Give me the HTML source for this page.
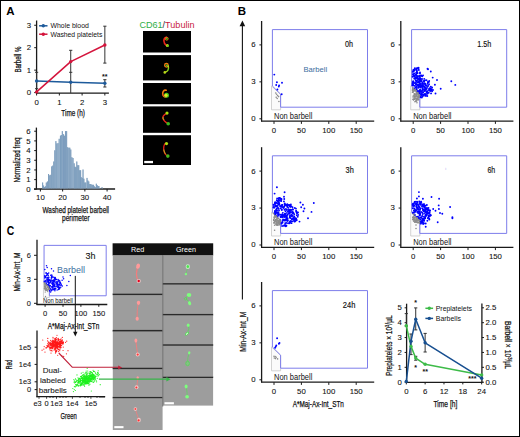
<!DOCTYPE html>
<html><head><meta charset="utf-8"><style>
html,body{margin:0;padding:0;background:#fff;width:520px;height:437px;overflow:hidden}
svg{display:block;font-family:"Liberation Sans", sans-serif}
</style></head><body>
<svg width="520" height="437" viewBox="0 0 520 437">
<defs><filter id="bl" x="-50%" y="-50%" width="200%" height="200%"><feGaussianBlur stdDeviation="0.45"/></filter>
<filter id="bl2" x="-50%" y="-50%" width="200%" height="200%"><feGaussianBlur stdDeviation="0.35"/></filter></defs>
<rect width="520" height="437" fill="#fff"/>
<rect x="0.5" y="0.5" width="519" height="436" fill="none" stroke="#000" stroke-width="1"/>
<text x="6.30" y="14.80" font-size="11.5" text-anchor="start" fill="#000" font-weight="bold" >A</text>
<text x="237.80" y="14.80" font-size="11.5" text-anchor="start" fill="#000" font-weight="bold" >B</text>
<text x="6.70" y="234.90" font-size="12" text-anchor="start" fill="#000" font-weight="bold" textLength="7.5" lengthAdjust="spacingAndGlyphs" >C</text>
<line x1="36.60" y1="20.50" x2="36.60" y2="93.60" stroke="#1a1a1a" stroke-width="1.3" />
<line x1="36.10" y1="93.10" x2="108.90" y2="93.10" stroke="#1a1a1a" stroke-width="1.3" />
<line x1="34.20" y1="92.60" x2="36.60" y2="92.60" stroke="#1a1a1a" stroke-width="1" />
<text x="31.00" y="95.30" font-size="7.8" text-anchor="end" fill="#111" stroke="#111" stroke-width="0.08" >0</text>
<line x1="34.20" y1="70.15" x2="36.60" y2="70.15" stroke="#1a1a1a" stroke-width="1" />
<text x="31.00" y="72.85" font-size="7.8" text-anchor="end" fill="#111" stroke="#111" stroke-width="0.08" >1</text>
<line x1="34.20" y1="47.70" x2="36.60" y2="47.70" stroke="#1a1a1a" stroke-width="1" />
<text x="31.00" y="50.40" font-size="7.8" text-anchor="end" fill="#111" stroke="#111" stroke-width="0.08" >2</text>
<line x1="34.20" y1="25.25" x2="36.60" y2="25.25" stroke="#1a1a1a" stroke-width="1" />
<text x="31.00" y="27.95" font-size="7.8" text-anchor="end" fill="#111" stroke="#111" stroke-width="0.08" >3</text>
<line x1="36.60" y1="93.10" x2="36.60" y2="95.50" stroke="#1a1a1a" stroke-width="1" />
<text x="36.60" y="104.70" font-size="7.8" text-anchor="middle" fill="#111" stroke="#111" stroke-width="0.08" >0</text>
<line x1="59.35" y1="93.10" x2="59.35" y2="95.50" stroke="#1a1a1a" stroke-width="1" />
<text x="59.35" y="104.70" font-size="7.8" text-anchor="middle" fill="#111" stroke="#111" stroke-width="0.08" >1</text>
<line x1="82.10" y1="93.10" x2="82.10" y2="95.50" stroke="#1a1a1a" stroke-width="1" />
<text x="82.10" y="104.70" font-size="7.8" text-anchor="middle" fill="#111" stroke="#111" stroke-width="0.08" >2</text>
<line x1="104.85" y1="93.10" x2="104.85" y2="95.50" stroke="#1a1a1a" stroke-width="1" />
<text x="104.85" y="104.70" font-size="7.8" text-anchor="middle" fill="#111" stroke="#111" stroke-width="0.08" >3</text>
<text x="73.10" y="115.80" font-size="8.8" text-anchor="middle" fill="#111" stroke="#111" stroke-width="0.25" textLength="23.5" lengthAdjust="spacingAndGlyphs" >Time (h)</text>
<text x="20.60" y="59.60" font-size="8.8" text-anchor="middle" fill="#111" stroke="#111" stroke-width="0.25" textLength="26" lengthAdjust="spacingAndGlyphs" transform="rotate(-90 20.60 59.60)" >Barbell %</text>
<line x1="36.60" y1="72.30" x2="36.60" y2="88.70" stroke="#333" stroke-width="1" />
<line x1="35.00" y1="72.30" x2="38.20" y2="72.30" stroke="#333" stroke-width="1" />
<line x1="35.00" y1="88.70" x2="38.20" y2="88.70" stroke="#333" stroke-width="1" />
<line x1="70.72" y1="50.30" x2="70.72" y2="93.00" stroke="#333" stroke-width="1" />
<line x1="69.12" y1="50.30" x2="72.32" y2="50.30" stroke="#333" stroke-width="1" />
<line x1="69.12" y1="72.30" x2="72.32" y2="72.30" stroke="#333" stroke-width="1" />
<line x1="104.85" y1="26.20" x2="104.85" y2="63.10" stroke="#333" stroke-width="1" />
<line x1="103.25" y1="26.20" x2="106.45" y2="26.20" stroke="#333" stroke-width="1" />
<line x1="103.25" y1="63.10" x2="106.45" y2="63.10" stroke="#333" stroke-width="1" />
<line x1="104.85" y1="79.70" x2="104.85" y2="87.00" stroke="#333" stroke-width="1" />
<line x1="103.25" y1="79.70" x2="106.45" y2="79.70" stroke="#333" stroke-width="1" />
<line x1="103.25" y1="87.00" x2="106.45" y2="87.00" stroke="#333" stroke-width="1" />
<polyline points="36.60,81.00 70.72,82.30 104.85,83.20" fill="none" stroke="#1d5a9b" stroke-width="1.5" stroke-linejoin="round" />
<polyline points="36.60,91.90 70.72,61.60 104.85,45.00" fill="none" stroke="#d4143c" stroke-width="1.5" stroke-linejoin="round" />
<circle cx="36.60" cy="81.00" r="1.7" fill="#1d5a9b"/>
<circle cx="70.72" cy="82.30" r="1.7" fill="#1d5a9b"/>
<circle cx="104.85" cy="83.20" r="1.7" fill="#1d5a9b"/>
<circle cx="36.60" cy="91.90" r="1.7" fill="#d4143c"/>
<circle cx="70.72" cy="61.60" r="1.7" fill="#d4143c"/>
<circle cx="104.85" cy="45.00" r="1.7" fill="#d4143c"/>
<text x="104.85" y="78.60" font-size="7" text-anchor="middle" fill="#111" font-weight="bold" >**</text>
<line x1="39.10" y1="25.80" x2="47.50" y2="25.80" stroke="#1d5a9b" stroke-width="1.5" />
<circle cx="43.30" cy="25.80" r="1.7" fill="#1d5a9b"/>
<line x1="39.10" y1="34.20" x2="47.50" y2="34.20" stroke="#d4143c" stroke-width="1.5" />
<circle cx="43.30" cy="34.20" r="1.7" fill="#d4143c"/>
<text x="50.50" y="28.20" font-size="6.9" text-anchor="start" fill="#111" textLength="38.3" lengthAdjust="spacingAndGlyphs" >Whole blood</text>
<text x="50.50" y="36.50" font-size="6.9" text-anchor="start" fill="#111" textLength="51.8" lengthAdjust="spacingAndGlyphs" >Washed platelets</text>
<line x1="36.40" y1="127.60" x2="36.40" y2="189.50" stroke="#1a1a1a" stroke-width="1.3" />
<line x1="34.00" y1="189.00" x2="115.10" y2="189.00" stroke="#1a1a1a" stroke-width="1.3" />
<line x1="34.20" y1="189.30" x2="36.40" y2="189.30" stroke="#1a1a1a" stroke-width="1" />
<text x="30.60" y="192.00" font-size="7.8" text-anchor="end" fill="#111" stroke="#111" stroke-width="0.08" >0</text>
<line x1="34.20" y1="179.62" x2="36.40" y2="179.62" stroke="#1a1a1a" stroke-width="1" />
<text x="30.60" y="182.32" font-size="7.8" text-anchor="end" fill="#111" stroke="#111" stroke-width="0.08" >1</text>
<line x1="34.20" y1="169.94" x2="36.40" y2="169.94" stroke="#1a1a1a" stroke-width="1" />
<text x="30.60" y="172.64" font-size="7.8" text-anchor="end" fill="#111" stroke="#111" stroke-width="0.08" >2</text>
<line x1="34.20" y1="160.26" x2="36.40" y2="160.26" stroke="#1a1a1a" stroke-width="1" />
<text x="30.60" y="162.96" font-size="7.8" text-anchor="end" fill="#111" stroke="#111" stroke-width="0.08" >3</text>
<line x1="34.20" y1="150.58" x2="36.40" y2="150.58" stroke="#1a1a1a" stroke-width="1" />
<text x="30.60" y="153.28" font-size="7.8" text-anchor="end" fill="#111" stroke="#111" stroke-width="0.08" >4</text>
<line x1="34.20" y1="140.90" x2="36.40" y2="140.90" stroke="#1a1a1a" stroke-width="1" />
<text x="30.60" y="143.60" font-size="7.8" text-anchor="end" fill="#111" stroke="#111" stroke-width="0.08" >5</text>
<line x1="34.20" y1="131.22" x2="36.40" y2="131.22" stroke="#1a1a1a" stroke-width="1" />
<text x="30.60" y="133.92" font-size="7.8" text-anchor="end" fill="#111" stroke="#111" stroke-width="0.08" >6</text>
<line x1="40.40" y1="189.00" x2="40.40" y2="191.50" stroke="#1a1a1a" stroke-width="1" />
<text x="40.40" y="200.30" font-size="7.8" text-anchor="middle" fill="#111" stroke="#111" stroke-width="0.08" >10</text>
<line x1="62.63" y1="189.00" x2="62.63" y2="191.50" stroke="#1a1a1a" stroke-width="1" />
<text x="62.63" y="200.30" font-size="7.8" text-anchor="middle" fill="#111" stroke="#111" stroke-width="0.08" >20</text>
<line x1="84.86" y1="189.00" x2="84.86" y2="191.50" stroke="#1a1a1a" stroke-width="1" />
<text x="84.86" y="200.30" font-size="7.8" text-anchor="middle" fill="#111" stroke="#111" stroke-width="0.08" >30</text>
<line x1="107.09" y1="189.00" x2="107.09" y2="191.50" stroke="#1a1a1a" stroke-width="1" />
<text x="107.09" y="200.30" font-size="7.8" text-anchor="middle" fill="#111" stroke="#111" stroke-width="0.08" >40</text>
<text x="75.80" y="212.70" font-size="9" text-anchor="middle" fill="#111" stroke="#111" stroke-width="0.25" textLength="66.5" lengthAdjust="spacingAndGlyphs" >Washed platelet barbell</text>
<text x="75.80" y="220.60" font-size="9" text-anchor="middle" fill="#111" stroke="#111" stroke-width="0.25" textLength="27.5" lengthAdjust="spacingAndGlyphs" >perimeter</text>
<text x="19.80" y="159.90" font-size="8.8" text-anchor="middle" fill="#111" stroke="#111" stroke-width="0.25" textLength="45" lengthAdjust="spacingAndGlyphs" transform="rotate(-90 19.80 159.90)" >Normalized freq</text>
<rect x="42.15" y="182.50" width="1.1" height="6.00" fill="#9db5cd"/>
<rect x="42.15" y="182.50" width="0.5" height="6.00" fill="#5a84ad"/>
<rect x="43.15" y="185.50" width="1.1" height="3.00" fill="#9db5cd"/>
<rect x="43.15" y="185.50" width="0.5" height="3.00" fill="#5a84ad"/>
<rect x="44.15" y="187.00" width="1.1" height="1.50" fill="#9db5cd"/>
<rect x="44.15" y="187.00" width="0.5" height="1.50" fill="#5a84ad"/>
<rect x="44.95" y="186.30" width="1.1" height="2.20" fill="#9db5cd"/>
<rect x="44.95" y="186.30" width="0.5" height="2.20" fill="#5a84ad"/>
<rect x="45.85" y="182.50" width="1.1" height="6.00" fill="#9db5cd"/>
<rect x="45.85" y="182.50" width="0.5" height="6.00" fill="#5a84ad"/>
<rect x="46.95" y="181.40" width="1.1" height="7.10" fill="#9db5cd"/>
<rect x="46.95" y="181.40" width="0.5" height="7.10" fill="#5a84ad"/>
<rect x="48.05" y="174.00" width="1.1" height="14.50" fill="#9db5cd"/>
<rect x="48.05" y="174.00" width="0.5" height="14.50" fill="#5a84ad"/>
<rect x="49.25" y="175.30" width="1.1" height="13.20" fill="#9db5cd"/>
<rect x="49.25" y="175.30" width="0.5" height="13.20" fill="#5a84ad"/>
<rect x="50.35" y="174.80" width="1.1" height="13.70" fill="#9db5cd"/>
<rect x="50.35" y="174.80" width="0.5" height="13.70" fill="#5a84ad"/>
<rect x="51.25" y="166.40" width="1.1" height="22.10" fill="#9db5cd"/>
<rect x="51.25" y="166.40" width="0.5" height="22.10" fill="#5a84ad"/>
<rect x="52.35" y="165.60" width="1.1" height="22.90" fill="#9db5cd"/>
<rect x="52.35" y="165.60" width="0.5" height="22.90" fill="#5a84ad"/>
<rect x="53.35" y="161.50" width="1.1" height="27.00" fill="#9db5cd"/>
<rect x="53.35" y="161.50" width="0.5" height="27.00" fill="#5a84ad"/>
<rect x="54.45" y="150.30" width="1.1" height="38.20" fill="#9db5cd"/>
<rect x="54.45" y="150.30" width="0.5" height="38.20" fill="#5a84ad"/>
<rect x="55.55" y="141.10" width="1.1" height="47.40" fill="#9db5cd"/>
<rect x="55.55" y="141.10" width="0.5" height="47.40" fill="#5a84ad"/>
<rect x="56.55" y="143.40" width="1.1" height="45.10" fill="#9db5cd"/>
<rect x="56.55" y="143.40" width="0.5" height="45.10" fill="#5a84ad"/>
<rect x="57.65" y="143.10" width="1.1" height="45.40" fill="#9db5cd"/>
<rect x="57.65" y="143.10" width="0.5" height="45.40" fill="#5a84ad"/>
<rect x="58.75" y="138.80" width="1.1" height="49.70" fill="#9db5cd"/>
<rect x="58.75" y="138.80" width="0.5" height="49.70" fill="#5a84ad"/>
<rect x="59.95" y="135.70" width="1.1" height="52.80" fill="#9db5cd"/>
<rect x="59.95" y="135.70" width="0.5" height="52.80" fill="#5a84ad"/>
<rect x="60.85" y="135.00" width="1.1" height="53.50" fill="#9db5cd"/>
<rect x="60.85" y="135.00" width="0.5" height="53.50" fill="#5a84ad"/>
<rect x="61.85" y="131.10" width="1.1" height="57.40" fill="#9db5cd"/>
<rect x="61.85" y="131.10" width="0.5" height="57.40" fill="#5a84ad"/>
<rect x="63.05" y="134.20" width="1.1" height="54.30" fill="#9db5cd"/>
<rect x="63.05" y="134.20" width="0.5" height="54.30" fill="#5a84ad"/>
<rect x="63.95" y="135.70" width="1.1" height="52.80" fill="#9db5cd"/>
<rect x="63.95" y="135.70" width="0.5" height="52.80" fill="#5a84ad"/>
<rect x="65.05" y="131.10" width="1.1" height="57.40" fill="#9db5cd"/>
<rect x="65.05" y="131.10" width="0.5" height="57.40" fill="#5a84ad"/>
<rect x="66.15" y="131.10" width="1.1" height="57.40" fill="#9db5cd"/>
<rect x="66.15" y="131.10" width="0.5" height="57.40" fill="#5a84ad"/>
<rect x="67.15" y="147.20" width="1.1" height="41.30" fill="#9db5cd"/>
<rect x="67.15" y="147.20" width="0.5" height="41.30" fill="#5a84ad"/>
<rect x="68.45" y="147.70" width="1.1" height="40.80" fill="#9db5cd"/>
<rect x="68.45" y="147.70" width="0.5" height="40.80" fill="#5a84ad"/>
<rect x="69.45" y="147.70" width="1.1" height="40.80" fill="#9db5cd"/>
<rect x="69.45" y="147.70" width="0.5" height="40.80" fill="#5a84ad"/>
<rect x="70.45" y="149.50" width="1.1" height="39.00" fill="#9db5cd"/>
<rect x="70.45" y="149.50" width="0.5" height="39.00" fill="#5a84ad"/>
<rect x="71.55" y="157.20" width="1.1" height="31.30" fill="#9db5cd"/>
<rect x="71.55" y="157.20" width="0.5" height="31.30" fill="#5a84ad"/>
<rect x="72.65" y="158.00" width="1.1" height="30.50" fill="#9db5cd"/>
<rect x="72.65" y="158.00" width="0.5" height="30.50" fill="#5a84ad"/>
<rect x="73.75" y="163.30" width="1.1" height="25.20" fill="#9db5cd"/>
<rect x="73.75" y="163.30" width="0.5" height="25.20" fill="#5a84ad"/>
<rect x="74.65" y="166.70" width="1.1" height="21.80" fill="#9db5cd"/>
<rect x="74.65" y="166.70" width="0.5" height="21.80" fill="#5a84ad"/>
<rect x="75.55" y="167.20" width="1.1" height="21.30" fill="#9db5cd"/>
<rect x="75.55" y="167.20" width="0.5" height="21.30" fill="#5a84ad"/>
<rect x="76.45" y="161.50" width="1.1" height="27.00" fill="#9db5cd"/>
<rect x="76.45" y="161.50" width="0.5" height="27.00" fill="#5a84ad"/>
<rect x="77.45" y="165.20" width="1.1" height="23.30" fill="#9db5cd"/>
<rect x="77.45" y="165.20" width="0.5" height="23.30" fill="#5a84ad"/>
<rect x="78.35" y="165.20" width="1.1" height="23.30" fill="#9db5cd"/>
<rect x="78.35" y="165.20" width="0.5" height="23.30" fill="#5a84ad"/>
<rect x="79.25" y="170.20" width="1.1" height="18.30" fill="#9db5cd"/>
<rect x="79.25" y="170.20" width="0.5" height="18.30" fill="#5a84ad"/>
<rect x="80.15" y="170.20" width="1.1" height="18.30" fill="#9db5cd"/>
<rect x="80.15" y="170.20" width="0.5" height="18.30" fill="#5a84ad"/>
<rect x="80.75" y="177.10" width="1.1" height="11.40" fill="#9db5cd"/>
<rect x="80.75" y="177.10" width="0.5" height="11.40" fill="#5a84ad"/>
<rect x="81.75" y="177.90" width="1.1" height="10.60" fill="#9db5cd"/>
<rect x="81.75" y="177.90" width="0.5" height="10.60" fill="#5a84ad"/>
<rect x="82.65" y="169.50" width="1.1" height="19.00" fill="#9db5cd"/>
<rect x="82.65" y="169.50" width="0.5" height="19.00" fill="#5a84ad"/>
<rect x="83.55" y="178.70" width="1.1" height="9.80" fill="#9db5cd"/>
<rect x="83.55" y="178.70" width="0.5" height="9.80" fill="#5a84ad"/>
<rect x="84.45" y="182.50" width="1.1" height="6.00" fill="#9db5cd"/>
<rect x="84.45" y="182.50" width="0.5" height="6.00" fill="#5a84ad"/>
<rect x="85.35" y="182.50" width="1.1" height="6.00" fill="#9db5cd"/>
<rect x="85.35" y="182.50" width="0.5" height="6.00" fill="#5a84ad"/>
<rect x="86.65" y="177.90" width="1.1" height="10.60" fill="#9db5cd"/>
<rect x="86.65" y="177.90" width="0.5" height="10.60" fill="#5a84ad"/>
<rect x="87.55" y="180.50" width="1.1" height="8.00" fill="#9db5cd"/>
<rect x="87.55" y="180.50" width="0.5" height="8.00" fill="#5a84ad"/>
<rect x="88.45" y="181.40" width="1.1" height="7.10" fill="#9db5cd"/>
<rect x="88.45" y="181.40" width="0.5" height="7.10" fill="#5a84ad"/>
<rect x="89.35" y="184.00" width="1.1" height="4.50" fill="#9db5cd"/>
<rect x="89.35" y="184.00" width="0.5" height="4.50" fill="#5a84ad"/>
<rect x="90.25" y="184.00" width="1.1" height="4.50" fill="#9db5cd"/>
<rect x="90.25" y="184.00" width="0.5" height="4.50" fill="#5a84ad"/>
<rect x="91.25" y="184.50" width="1.1" height="4.00" fill="#9db5cd"/>
<rect x="91.25" y="184.50" width="0.5" height="4.00" fill="#5a84ad"/>
<rect x="92.15" y="184.80" width="1.1" height="3.70" fill="#9db5cd"/>
<rect x="92.15" y="184.80" width="0.5" height="3.70" fill="#5a84ad"/>
<rect x="93.05" y="184.80" width="1.1" height="3.70" fill="#9db5cd"/>
<rect x="93.05" y="184.80" width="0.5" height="3.70" fill="#5a84ad"/>
<rect x="93.95" y="186.30" width="1.1" height="2.20" fill="#9db5cd"/>
<rect x="93.95" y="186.30" width="0.5" height="2.20" fill="#5a84ad"/>
<rect x="94.85" y="187.10" width="1.1" height="1.40" fill="#9db5cd"/>
<rect x="94.85" y="187.10" width="0.5" height="1.40" fill="#5a84ad"/>
<rect x="95.85" y="183.70" width="1.1" height="4.80" fill="#9db5cd"/>
<rect x="95.85" y="183.70" width="0.5" height="4.80" fill="#5a84ad"/>
<rect x="96.75" y="185.10" width="1.1" height="3.40" fill="#9db5cd"/>
<rect x="96.75" y="185.10" width="0.5" height="3.40" fill="#5a84ad"/>
<rect x="97.65" y="186.00" width="1.1" height="2.50" fill="#9db5cd"/>
<rect x="97.65" y="186.00" width="0.5" height="2.50" fill="#5a84ad"/>
<rect x="98.55" y="186.00" width="1.1" height="2.50" fill="#9db5cd"/>
<rect x="98.55" y="186.00" width="0.5" height="2.50" fill="#5a84ad"/>
<rect x="99.45" y="187.90" width="1.1" height="0.60" fill="#9db5cd"/>
<rect x="99.45" y="187.90" width="0.5" height="0.60" fill="#5a84ad"/>
<rect x="100.45" y="188.60" width="1.1" height="-0.10" fill="#9db5cd"/>
<rect x="100.45" y="188.60" width="0.5" height="-0.10" fill="#5a84ad"/>
<rect x="101.65" y="187.10" width="1.1" height="1.40" fill="#9db5cd"/>
<rect x="101.65" y="187.10" width="0.5" height="1.40" fill="#5a84ad"/>
<rect x="102.55" y="188.60" width="1.1" height="-0.10" fill="#9db5cd"/>
<rect x="102.55" y="188.60" width="0.5" height="-0.10" fill="#5a84ad"/>
<rect x="103.45" y="188.60" width="1.1" height="-0.10" fill="#9db5cd"/>
<rect x="103.45" y="188.60" width="0.5" height="-0.10" fill="#5a84ad"/>
<text x="139.40" y="27.70" font-size="9.6" text-anchor="start" fill="#111" textLength="55.1" lengthAdjust="spacingAndGlyphs" ><tspan fill="#2fae48">CD61</tspan><tspan fill="#333">/</tspan><tspan fill="#c8193f">Tubulin</tspan></text>
<rect x="143" y="31" width="48" height="21.50" fill="#000"/>
<rect x="143" y="55.1" width="48" height="25.30" fill="#000"/>
<rect x="143" y="83" width="48" height="21.20" fill="#000"/>
<rect x="143" y="106.4" width="48" height="26.40" fill="#000"/>
<rect x="143" y="135.2" width="48" height="29.80" fill="#000"/>
<rect x="144.2" y="160.9" width="8.8" height="2.3" fill="#fff"/>
<line x1="242.40" y1="25.00" x2="242.40" y2="299.50" stroke="#111" stroke-width="1.1" />
<polygon points="242.4,20.6 239.6,26.2 245.2,26.2" fill="#111"/>
<line x1="261.60" y1="21.00" x2="261.60" y2="121.40" stroke="#1a1a1a" stroke-width="1.3" />
<line x1="261.00" y1="121.20" x2="374.20" y2="121.20" stroke="#1a1a1a" stroke-width="1.3" />
<line x1="259.40" y1="118.80" x2="261.60" y2="118.80" stroke="#1a1a1a" stroke-width="1" />
<text x="255.60" y="121.20" font-size="7.8" text-anchor="end" fill="#111" stroke="#111" stroke-width="0.08" >0</text>
<line x1="259.40" y1="81.85" x2="261.60" y2="81.85" stroke="#1a1a1a" stroke-width="1" />
<text x="255.60" y="84.25" font-size="7.8" text-anchor="end" fill="#111" stroke="#111" stroke-width="0.08" >3</text>
<line x1="259.40" y1="44.90" x2="261.60" y2="44.90" stroke="#1a1a1a" stroke-width="1" />
<text x="255.60" y="47.30" font-size="7.8" text-anchor="end" fill="#111" stroke="#111" stroke-width="0.08" >6</text>
<line x1="274.00" y1="121.20" x2="274.00" y2="123.90" stroke="#1a1a1a" stroke-width="1" />
<text x="274.00" y="132.80" font-size="7.8" text-anchor="middle" fill="#111" stroke="#111" stroke-width="0.08" >0</text>
<line x1="301.40" y1="121.20" x2="301.40" y2="123.90" stroke="#1a1a1a" stroke-width="1" />
<text x="301.40" y="132.80" font-size="7.8" text-anchor="middle" fill="#111" stroke="#111" stroke-width="0.08" >50</text>
<line x1="328.80" y1="121.20" x2="328.80" y2="123.90" stroke="#1a1a1a" stroke-width="1" />
<text x="328.80" y="132.80" font-size="7.8" text-anchor="middle" fill="#111" stroke="#111" stroke-width="0.08" >100</text>
<line x1="356.20" y1="121.20" x2="356.20" y2="123.90" stroke="#1a1a1a" stroke-width="1" />
<text x="356.20" y="132.80" font-size="7.8" text-anchor="middle" fill="#111" stroke="#111" stroke-width="0.08" >150</text>
<polygon points="271.50,86.00 280.60,94.20 280.60,109.80 271.50,109.80" fill="#fbfbfb" stroke="#c8c8c8" stroke-width="0.8"/>
<polyline points="272.40,86.00 272.40,29.60 367.50,29.60 367.50,107.20 280.60,107.20 280.60,94.20 272.40,86.00" fill="none" stroke="#7d7deb" stroke-width="1"/>
<circle cx="274.30" cy="74.60" r="0.95" fill="#0000ff"/>
<circle cx="276.90" cy="82.30" r="0.95" fill="#0000ff"/>
<circle cx="279.10" cy="85.40" r="0.95" fill="#0000ff"/>
<circle cx="278.80" cy="86.60" r="0.95" fill="#0000ff"/>
<circle cx="282.00" cy="82.80" r="0.95" fill="#0000ff"/>
<circle cx="281.70" cy="94.30" r="0.95" fill="#0000ff"/>
<circle cx="277.40" cy="89.50" r="0.95" fill="#0000ff"/>
<circle cx="276.20" cy="85.00" r="0.95" fill="#0000ff"/>
<circle cx="275.70" cy="93.00" r="0.8" fill="#8c8c8c"/>
<circle cx="276.60" cy="94.20" r="0.8" fill="#8c8c8c"/>
<circle cx="277.60" cy="95.60" r="0.8" fill="#8c8c8c"/>
<circle cx="278.60" cy="96.60" r="0.8" fill="#8c8c8c"/>
<circle cx="277.20" cy="98.50" r="0.8" fill="#8c8c8c"/>
<circle cx="278.90" cy="101.50" r="0.8" fill="#8c8c8c"/>
<circle cx="276.20" cy="97.20" r="0.8" fill="#8c8c8c"/>
<text x="352.90" y="46.90" font-size="8.3" text-anchor="end" fill="#111" stroke="#111" stroke-width="0.15" textLength="8.0" lengthAdjust="spacingAndGlyphs" >0h</text>
<text x="274.00" y="119.20" font-size="8.3" text-anchor="start" fill="#111" textLength="38.3" lengthAdjust="spacingAndGlyphs" >Non barbell</text>
<text x="303.50" y="72.30" font-size="7.6" text-anchor="start" fill="#3a6d9e" textLength="23.7" lengthAdjust="spacingAndGlyphs" >Barbell</text>
<line x1="400.80" y1="21.00" x2="400.80" y2="121.40" stroke="#1a1a1a" stroke-width="1.3" />
<line x1="400.20" y1="121.20" x2="513.40" y2="121.20" stroke="#1a1a1a" stroke-width="1.3" />
<line x1="398.60" y1="118.80" x2="400.80" y2="118.80" stroke="#1a1a1a" stroke-width="1" />
<text x="394.80" y="121.20" font-size="7.8" text-anchor="end" fill="#111" stroke="#111" stroke-width="0.08" >0</text>
<line x1="398.60" y1="81.85" x2="400.80" y2="81.85" stroke="#1a1a1a" stroke-width="1" />
<text x="394.80" y="84.25" font-size="7.8" text-anchor="end" fill="#111" stroke="#111" stroke-width="0.08" >3</text>
<line x1="398.60" y1="44.90" x2="400.80" y2="44.90" stroke="#1a1a1a" stroke-width="1" />
<text x="394.80" y="47.30" font-size="7.8" text-anchor="end" fill="#111" stroke="#111" stroke-width="0.08" >6</text>
<line x1="413.20" y1="121.20" x2="413.20" y2="123.90" stroke="#1a1a1a" stroke-width="1" />
<text x="413.20" y="132.80" font-size="7.8" text-anchor="middle" fill="#111" stroke="#111" stroke-width="0.08" >0</text>
<line x1="440.60" y1="121.20" x2="440.60" y2="123.90" stroke="#1a1a1a" stroke-width="1" />
<text x="440.60" y="132.80" font-size="7.8" text-anchor="middle" fill="#111" stroke="#111" stroke-width="0.08" >50</text>
<line x1="468.00" y1="121.20" x2="468.00" y2="123.90" stroke="#1a1a1a" stroke-width="1" />
<text x="468.00" y="132.80" font-size="7.8" text-anchor="middle" fill="#111" stroke="#111" stroke-width="0.08" >100</text>
<line x1="495.40" y1="121.20" x2="495.40" y2="123.90" stroke="#1a1a1a" stroke-width="1" />
<text x="495.40" y="132.80" font-size="7.8" text-anchor="middle" fill="#111" stroke="#111" stroke-width="0.08" >150</text>
<polygon points="410.70,86.00 419.80,94.20 419.80,109.80 410.70,109.80" fill="#fbfbfb" stroke="#c8c8c8" stroke-width="0.8"/>
<polyline points="411.60,86.00 411.60,29.60 506.70,29.60 506.70,107.20 419.80,107.20 419.80,94.20 411.60,86.00" fill="none" stroke="#7d7deb" stroke-width="1"/>
<circle cx="421.82" cy="86.90" r="0.95" fill="#0000ff"/>
<circle cx="422.64" cy="88.69" r="0.95" fill="#0000ff"/>
<circle cx="425.14" cy="95.78" r="0.95" fill="#0000ff"/>
<circle cx="425.30" cy="89.23" r="0.95" fill="#0000ff"/>
<circle cx="416.76" cy="75.81" r="0.95" fill="#0000ff"/>
<circle cx="420.38" cy="97.24" r="0.95" fill="#0000ff"/>
<circle cx="421.86" cy="90.96" r="0.95" fill="#0000ff"/>
<circle cx="428.74" cy="92.81" r="0.95" fill="#0000ff"/>
<circle cx="418.19" cy="69.02" r="0.95" fill="#0000ff"/>
<circle cx="412.99" cy="74.25" r="0.95" fill="#0000ff"/>
<circle cx="415.02" cy="78.78" r="0.95" fill="#0000ff"/>
<circle cx="414.94" cy="75.97" r="0.95" fill="#0000ff"/>
<circle cx="423.70" cy="83.86" r="0.95" fill="#0000ff"/>
<circle cx="417.54" cy="76.55" r="0.95" fill="#0000ff"/>
<circle cx="430.38" cy="90.99" r="0.95" fill="#0000ff"/>
<circle cx="416.72" cy="75.86" r="0.95" fill="#0000ff"/>
<circle cx="418.84" cy="70.00" r="0.95" fill="#0000ff"/>
<circle cx="416.86" cy="89.04" r="0.95" fill="#0000ff"/>
<circle cx="416.84" cy="72.05" r="0.95" fill="#0000ff"/>
<circle cx="417.29" cy="72.65" r="0.95" fill="#0000ff"/>
<circle cx="412.66" cy="76.75" r="0.95" fill="#0000ff"/>
<circle cx="415.70" cy="80.16" r="0.95" fill="#0000ff"/>
<circle cx="431.38" cy="90.03" r="0.95" fill="#0000ff"/>
<circle cx="416.33" cy="68.39" r="0.95" fill="#0000ff"/>
<circle cx="413.88" cy="85.59" r="0.95" fill="#0000ff"/>
<circle cx="427.17" cy="91.26" r="0.95" fill="#0000ff"/>
<circle cx="420.18" cy="91.07" r="0.95" fill="#0000ff"/>
<circle cx="421.06" cy="94.97" r="0.95" fill="#0000ff"/>
<circle cx="424.09" cy="80.42" r="0.95" fill="#0000ff"/>
<circle cx="426.64" cy="80.33" r="0.95" fill="#0000ff"/>
<circle cx="421.81" cy="97.60" r="0.95" fill="#0000ff"/>
<circle cx="425.27" cy="84.16" r="0.95" fill="#0000ff"/>
<circle cx="417.25" cy="68.12" r="0.95" fill="#0000ff"/>
<circle cx="417.06" cy="72.70" r="0.95" fill="#0000ff"/>
<circle cx="419.04" cy="91.48" r="0.95" fill="#0000ff"/>
<circle cx="424.25" cy="78.84" r="0.95" fill="#0000ff"/>
<circle cx="417.52" cy="73.21" r="0.95" fill="#0000ff"/>
<circle cx="416.26" cy="81.49" r="0.95" fill="#0000ff"/>
<circle cx="426.00" cy="88.37" r="0.95" fill="#0000ff"/>
<circle cx="412.77" cy="71.92" r="0.95" fill="#0000ff"/>
<circle cx="414.87" cy="68.30" r="0.95" fill="#0000ff"/>
<circle cx="425.23" cy="89.40" r="0.95" fill="#0000ff"/>
<circle cx="412.64" cy="83.69" r="0.95" fill="#0000ff"/>
<circle cx="417.61" cy="78.87" r="0.95" fill="#0000ff"/>
<circle cx="423.79" cy="94.77" r="0.95" fill="#0000ff"/>
<circle cx="431.06" cy="93.41" r="0.95" fill="#0000ff"/>
<circle cx="420.50" cy="86.86" r="0.95" fill="#0000ff"/>
<circle cx="426.08" cy="95.84" r="0.95" fill="#0000ff"/>
<circle cx="422.50" cy="96.46" r="0.95" fill="#0000ff"/>
<circle cx="413.30" cy="82.61" r="0.95" fill="#0000ff"/>
<circle cx="422.98" cy="92.40" r="0.95" fill="#0000ff"/>
<circle cx="416.62" cy="86.74" r="0.95" fill="#0000ff"/>
<circle cx="425.31" cy="85.29" r="0.95" fill="#0000ff"/>
<circle cx="419.18" cy="79.84" r="0.95" fill="#0000ff"/>
<circle cx="422.86" cy="85.04" r="0.95" fill="#0000ff"/>
<circle cx="424.10" cy="81.59" r="0.95" fill="#0000ff"/>
<circle cx="418.12" cy="84.42" r="0.95" fill="#0000ff"/>
<circle cx="422.04" cy="79.07" r="0.95" fill="#0000ff"/>
<circle cx="416.12" cy="74.77" r="0.95" fill="#0000ff"/>
<circle cx="420.07" cy="89.81" r="0.95" fill="#0000ff"/>
<circle cx="414.89" cy="85.71" r="0.95" fill="#0000ff"/>
<circle cx="422.47" cy="83.09" r="0.95" fill="#0000ff"/>
<circle cx="416.09" cy="89.26" r="0.95" fill="#0000ff"/>
<circle cx="429.33" cy="88.74" r="0.95" fill="#0000ff"/>
<circle cx="427.30" cy="95.93" r="0.95" fill="#0000ff"/>
<circle cx="428.79" cy="81.93" r="0.95" fill="#0000ff"/>
<circle cx="420.69" cy="91.71" r="0.95" fill="#0000ff"/>
<circle cx="421.60" cy="94.28" r="0.95" fill="#0000ff"/>
<circle cx="416.29" cy="69.63" r="0.95" fill="#0000ff"/>
<circle cx="423.00" cy="85.42" r="0.95" fill="#0000ff"/>
<circle cx="416.92" cy="73.06" r="0.95" fill="#0000ff"/>
<circle cx="421.25" cy="95.03" r="0.95" fill="#0000ff"/>
<circle cx="422.48" cy="82.43" r="0.95" fill="#0000ff"/>
<circle cx="416.00" cy="82.83" r="0.95" fill="#0000ff"/>
<circle cx="416.22" cy="72.94" r="0.95" fill="#0000ff"/>
<circle cx="424.29" cy="81.22" r="0.95" fill="#0000ff"/>
<circle cx="429.20" cy="80.98" r="0.95" fill="#0000ff"/>
<circle cx="426.10" cy="94.11" r="0.95" fill="#0000ff"/>
<circle cx="419.63" cy="83.91" r="0.95" fill="#0000ff"/>
<circle cx="425.09" cy="90.66" r="0.95" fill="#0000ff"/>
<circle cx="424.88" cy="87.40" r="0.95" fill="#0000ff"/>
<circle cx="431.74" cy="89.31" r="0.95" fill="#0000ff"/>
<circle cx="424.48" cy="94.10" r="0.95" fill="#0000ff"/>
<circle cx="413.32" cy="74.20" r="0.95" fill="#0000ff"/>
<circle cx="432.07" cy="87.43" r="0.95" fill="#0000ff"/>
<circle cx="425.26" cy="94.66" r="0.95" fill="#0000ff"/>
<circle cx="415.90" cy="84.49" r="0.95" fill="#0000ff"/>
<circle cx="422.50" cy="88.83" r="0.95" fill="#0000ff"/>
<circle cx="425.11" cy="87.96" r="0.95" fill="#0000ff"/>
<circle cx="418.28" cy="67.65" r="0.95" fill="#0000ff"/>
<circle cx="427.51" cy="83.74" r="0.95" fill="#0000ff"/>
<circle cx="424.72" cy="83.56" r="0.95" fill="#0000ff"/>
<circle cx="420.76" cy="91.15" r="0.95" fill="#0000ff"/>
<circle cx="423.96" cy="81.50" r="0.95" fill="#0000ff"/>
<circle cx="419.25" cy="76.18" r="0.95" fill="#0000ff"/>
<circle cx="424.04" cy="89.47" r="0.95" fill="#0000ff"/>
<circle cx="417.62" cy="82.14" r="0.95" fill="#0000ff"/>
<circle cx="419.89" cy="84.67" r="0.95" fill="#0000ff"/>
<circle cx="414.20" cy="70.66" r="0.95" fill="#0000ff"/>
<circle cx="420.95" cy="75.84" r="0.95" fill="#0000ff"/>
<circle cx="418.82" cy="85.62" r="0.95" fill="#0000ff"/>
<circle cx="421.68" cy="80.88" r="0.95" fill="#0000ff"/>
<circle cx="413.50" cy="69.76" r="0.95" fill="#0000ff"/>
<circle cx="417.03" cy="91.04" r="0.95" fill="#0000ff"/>
<circle cx="426.58" cy="92.26" r="0.95" fill="#0000ff"/>
<circle cx="419.31" cy="93.32" r="0.95" fill="#0000ff"/>
<circle cx="427.36" cy="86.91" r="0.95" fill="#0000ff"/>
<circle cx="419.67" cy="80.96" r="0.95" fill="#0000ff"/>
<circle cx="417.03" cy="80.38" r="0.95" fill="#0000ff"/>
<circle cx="420.43" cy="81.56" r="0.95" fill="#0000ff"/>
<circle cx="428.38" cy="85.91" r="0.95" fill="#0000ff"/>
<circle cx="412.49" cy="85.39" r="0.95" fill="#0000ff"/>
<circle cx="431.41" cy="90.27" r="0.95" fill="#0000ff"/>
<circle cx="423.34" cy="95.47" r="0.95" fill="#0000ff"/>
<circle cx="420.92" cy="79.01" r="0.95" fill="#0000ff"/>
<circle cx="421.98" cy="85.57" r="0.95" fill="#0000ff"/>
<circle cx="429.16" cy="90.28" r="0.95" fill="#0000ff"/>
<circle cx="430.40" cy="89.93" r="0.95" fill="#0000ff"/>
<circle cx="427.90" cy="82.31" r="0.95" fill="#0000ff"/>
<circle cx="419.97" cy="73.54" r="0.95" fill="#0000ff"/>
<circle cx="414.20" cy="78.58" r="0.95" fill="#0000ff"/>
<circle cx="412.77" cy="82.96" r="0.95" fill="#0000ff"/>
<circle cx="413.35" cy="71.23" r="0.95" fill="#0000ff"/>
<circle cx="416.50" cy="77.86" r="0.95" fill="#0000ff"/>
<circle cx="418.81" cy="86.22" r="0.95" fill="#0000ff"/>
<circle cx="423.07" cy="75.33" r="0.95" fill="#0000ff"/>
<circle cx="422.55" cy="87.07" r="0.95" fill="#0000ff"/>
<circle cx="412.71" cy="84.66" r="0.95" fill="#0000ff"/>
<circle cx="426.57" cy="89.06" r="0.95" fill="#0000ff"/>
<circle cx="419.19" cy="75.90" r="0.95" fill="#0000ff"/>
<circle cx="418.20" cy="86.94" r="0.95" fill="#0000ff"/>
<circle cx="414.06" cy="76.50" r="0.95" fill="#0000ff"/>
<circle cx="422.50" cy="83.69" r="0.95" fill="#0000ff"/>
<circle cx="428.08" cy="81.90" r="0.95" fill="#0000ff"/>
<circle cx="423.61" cy="86.71" r="0.95" fill="#0000ff"/>
<circle cx="418.95" cy="78.38" r="0.95" fill="#0000ff"/>
<circle cx="421.13" cy="93.33" r="0.95" fill="#0000ff"/>
<circle cx="413.29" cy="81.50" r="0.95" fill="#0000ff"/>
<circle cx="429.17" cy="90.58" r="0.95" fill="#0000ff"/>
<circle cx="425.04" cy="83.59" r="0.95" fill="#0000ff"/>
<circle cx="419.70" cy="86.86" r="0.95" fill="#0000ff"/>
<circle cx="420.13" cy="91.33" r="0.95" fill="#0000ff"/>
<circle cx="430.85" cy="86.82" r="0.95" fill="#0000ff"/>
<circle cx="414.90" cy="69.69" r="0.95" fill="#0000ff"/>
<circle cx="416.36" cy="80.91" r="0.95" fill="#0000ff"/>
<circle cx="414.40" cy="75.37" r="0.95" fill="#0000ff"/>
<circle cx="422.57" cy="89.38" r="0.95" fill="#0000ff"/>
<circle cx="419.95" cy="78.98" r="0.95" fill="#0000ff"/>
<circle cx="421.19" cy="92.10" r="0.95" fill="#0000ff"/>
<circle cx="425.82" cy="88.96" r="0.95" fill="#0000ff"/>
<circle cx="419.56" cy="90.73" r="0.95" fill="#0000ff"/>
<circle cx="422.75" cy="94.78" r="0.95" fill="#0000ff"/>
<circle cx="419.87" cy="85.63" r="0.95" fill="#0000ff"/>
<circle cx="413.44" cy="75.45" r="0.95" fill="#0000ff"/>
<circle cx="420.50" cy="84.62" r="0.95" fill="#0000ff"/>
<circle cx="429.11" cy="89.30" r="0.95" fill="#0000ff"/>
<circle cx="414.30" cy="73.39" r="0.95" fill="#0000ff"/>
<circle cx="425.10" cy="94.01" r="0.95" fill="#0000ff"/>
<circle cx="416.70" cy="84.24" r="0.95" fill="#0000ff"/>
<circle cx="422.23" cy="76.31" r="0.95" fill="#0000ff"/>
<circle cx="430.70" cy="88.70" r="0.95" fill="#0000ff"/>
<circle cx="424.71" cy="90.98" r="0.95" fill="#0000ff"/>
<circle cx="419.48" cy="82.19" r="0.95" fill="#0000ff"/>
<circle cx="421.77" cy="86.35" r="0.95" fill="#0000ff"/>
<circle cx="418.59" cy="67.91" r="0.95" fill="#0000ff"/>
<circle cx="426.78" cy="88.08" r="0.95" fill="#0000ff"/>
<circle cx="414.42" cy="83.08" r="0.95" fill="#0000ff"/>
<circle cx="418.49" cy="81.43" r="0.95" fill="#0000ff"/>
<circle cx="420.86" cy="96.80" r="0.95" fill="#0000ff"/>
<circle cx="417.18" cy="77.93" r="0.95" fill="#0000ff"/>
<circle cx="420.11" cy="79.76" r="0.95" fill="#0000ff"/>
<circle cx="419.76" cy="84.39" r="0.95" fill="#0000ff"/>
<circle cx="421.40" cy="75.52" r="0.95" fill="#0000ff"/>
<circle cx="416.81" cy="90.73" r="0.95" fill="#0000ff"/>
<circle cx="413.41" cy="70.39" r="0.95" fill="#0000ff"/>
<circle cx="416.77" cy="77.74" r="0.95" fill="#0000ff"/>
<circle cx="415.58" cy="74.72" r="0.95" fill="#0000ff"/>
<circle cx="420.26" cy="90.39" r="0.95" fill="#0000ff"/>
<circle cx="417.63" cy="77.50" r="0.95" fill="#0000ff"/>
<circle cx="419.10" cy="90.80" r="0.95" fill="#0000ff"/>
<circle cx="420.94" cy="85.99" r="0.95" fill="#0000ff"/>
<circle cx="418.36" cy="87.71" r="0.95" fill="#0000ff"/>
<circle cx="420.64" cy="94.78" r="0.95" fill="#0000ff"/>
<circle cx="422.88" cy="90.78" r="0.95" fill="#0000ff"/>
<circle cx="426.80" cy="85.57" r="0.95" fill="#0000ff"/>
<circle cx="426.14" cy="85.65" r="0.95" fill="#0000ff"/>
<circle cx="421.29" cy="93.97" r="0.95" fill="#0000ff"/>
<circle cx="417.22" cy="85.26" r="0.95" fill="#0000ff"/>
<circle cx="423.23" cy="92.28" r="0.95" fill="#0000ff"/>
<circle cx="416.59" cy="72.53" r="0.95" fill="#0000ff"/>
<circle cx="420.90" cy="83.79" r="0.95" fill="#0000ff"/>
<circle cx="415.77" cy="78.31" r="0.95" fill="#0000ff"/>
<circle cx="424.55" cy="86.58" r="0.95" fill="#0000ff"/>
<circle cx="413.46" cy="82.05" r="0.95" fill="#0000ff"/>
<circle cx="422.32" cy="94.38" r="0.95" fill="#0000ff"/>
<circle cx="421.74" cy="93.91" r="0.95" fill="#0000ff"/>
<circle cx="419.98" cy="77.82" r="0.95" fill="#0000ff"/>
<circle cx="427.43" cy="93.81" r="0.95" fill="#0000ff"/>
<circle cx="420.28" cy="79.05" r="0.95" fill="#0000ff"/>
<circle cx="413.17" cy="81.37" r="0.95" fill="#0000ff"/>
<circle cx="419.63" cy="91.51" r="0.95" fill="#0000ff"/>
<circle cx="429.03" cy="84.25" r="0.95" fill="#0000ff"/>
<circle cx="420.03" cy="95.58" r="0.95" fill="#0000ff"/>
<circle cx="416.25" cy="87.07" r="0.95" fill="#0000ff"/>
<circle cx="416.49" cy="84.35" r="0.95" fill="#0000ff"/>
<circle cx="432.09" cy="91.19" r="0.95" fill="#0000ff"/>
<circle cx="425.97" cy="80.16" r="0.95" fill="#0000ff"/>
<circle cx="415.16" cy="77.15" r="0.95" fill="#0000ff"/>
<circle cx="419.98" cy="72.34" r="0.95" fill="#0000ff"/>
<circle cx="427.52" cy="92.99" r="0.95" fill="#0000ff"/>
<circle cx="419.68" cy="81.36" r="0.95" fill="#0000ff"/>
<circle cx="420.46" cy="75.65" r="0.95" fill="#0000ff"/>
<circle cx="418.33" cy="82.19" r="0.95" fill="#0000ff"/>
<circle cx="426.85" cy="91.25" r="0.95" fill="#0000ff"/>
<circle cx="418.23" cy="79.56" r="0.95" fill="#0000ff"/>
<circle cx="421.30" cy="81.31" r="0.95" fill="#0000ff"/>
<circle cx="418.84" cy="85.18" r="0.95" fill="#0000ff"/>
<circle cx="420.72" cy="84.75" r="0.95" fill="#0000ff"/>
<circle cx="416.89" cy="70.79" r="0.95" fill="#0000ff"/>
<circle cx="415.25" cy="87.37" r="0.95" fill="#0000ff"/>
<circle cx="420.60" cy="80.31" r="0.95" fill="#0000ff"/>
<circle cx="413.08" cy="84.55" r="0.95" fill="#0000ff"/>
<circle cx="419.30" cy="76.19" r="0.95" fill="#0000ff"/>
<circle cx="429.83" cy="88.11" r="0.95" fill="#0000ff"/>
<circle cx="415.20" cy="83.07" r="0.95" fill="#0000ff"/>
<circle cx="420.37" cy="87.44" r="0.95" fill="#0000ff"/>
<circle cx="424.29" cy="89.62" r="0.95" fill="#0000ff"/>
<circle cx="427.50" cy="68.80" r="0.95" fill="#0000ff"/>
<circle cx="430.80" cy="71.50" r="0.95" fill="#0000ff"/>
<circle cx="432.70" cy="77.60" r="0.95" fill="#0000ff"/>
<circle cx="434.90" cy="84.70" r="0.95" fill="#0000ff"/>
<circle cx="440.70" cy="88.80" r="0.95" fill="#0000ff"/>
<circle cx="435.50" cy="93.50" r="0.95" fill="#0000ff"/>
<circle cx="451.30" cy="81.20" r="0.95" fill="#0000ff"/>
<circle cx="455.30" cy="84.90" r="0.95" fill="#0000ff"/>
<circle cx="428.00" cy="69.20" r="0.95" fill="#0000ff"/>
<circle cx="433.00" cy="90.00" r="0.95" fill="#0000ff"/>
<circle cx="437.00" cy="80.00" r="0.95" fill="#0000ff"/>
<circle cx="414.63" cy="88.87" r="0.95" fill="#0000ff"/>
<circle cx="418.88" cy="92.89" r="0.95" fill="#0000ff"/>
<circle cx="418.21" cy="92.28" r="0.95" fill="#0000ff"/>
<circle cx="414.22" cy="96.01" r="0.8" fill="#8c8c8c"/>
<circle cx="413.99" cy="89.27" r="0.8" fill="#8c8c8c"/>
<circle cx="415.44" cy="90.52" r="0.8" fill="#8c8c8c"/>
<circle cx="418.55" cy="99.34" r="0.8" fill="#8c8c8c"/>
<circle cx="416.84" cy="100.75" r="0.8" fill="#8c8c8c"/>
<circle cx="417.11" cy="93.30" r="0.8" fill="#8c8c8c"/>
<circle cx="416.25" cy="93.08" r="0.8" fill="#8c8c8c"/>
<circle cx="412.69" cy="89.99" r="0.8" fill="#8c8c8c"/>
<circle cx="415.09" cy="89.98" r="0.8" fill="#8c8c8c"/>
<circle cx="412.72" cy="88.69" r="0.8" fill="#8c8c8c"/>
<circle cx="419.20" cy="97.15" r="0.8" fill="#8c8c8c"/>
<circle cx="418.03" cy="99.23" r="0.8" fill="#8c8c8c"/>
<circle cx="419.21" cy="95.58" r="0.8" fill="#8c8c8c"/>
<circle cx="417.16" cy="97.51" r="0.8" fill="#8c8c8c"/>
<circle cx="419.78" cy="95.61" r="0.8" fill="#8c8c8c"/>
<circle cx="416.96" cy="102.77" r="0.8" fill="#8c8c8c"/>
<circle cx="417.15" cy="93.38" r="0.8" fill="#8c8c8c"/>
<circle cx="417.51" cy="98.94" r="0.8" fill="#8c8c8c"/>
<circle cx="416.83" cy="99.42" r="0.8" fill="#8c8c8c"/>
<circle cx="414.73" cy="94.85" r="0.8" fill="#8c8c8c"/>
<circle cx="413.42" cy="99.84" r="0.8" fill="#8c8c8c"/>
<circle cx="414.87" cy="98.45" r="0.8" fill="#8c8c8c"/>
<circle cx="413.51" cy="91.13" r="0.8" fill="#8c8c8c"/>
<circle cx="416.24" cy="94.05" r="0.8" fill="#8c8c8c"/>
<circle cx="414.66" cy="90.48" r="0.8" fill="#8c8c8c"/>
<circle cx="415.96" cy="94.44" r="0.8" fill="#8c8c8c"/>
<circle cx="416.80" cy="92.62" r="0.8" fill="#8c8c8c"/>
<circle cx="417.97" cy="98.71" r="0.8" fill="#8c8c8c"/>
<circle cx="416.10" cy="94.23" r="0.8" fill="#8c8c8c"/>
<circle cx="416.11" cy="100.78" r="0.8" fill="#8c8c8c"/>
<circle cx="414.53" cy="99.37" r="0.8" fill="#8c8c8c"/>
<circle cx="418.16" cy="99.94" r="0.8" fill="#8c8c8c"/>
<circle cx="413.15" cy="91.96" r="0.8" fill="#8c8c8c"/>
<circle cx="414.86" cy="95.96" r="0.8" fill="#8c8c8c"/>
<circle cx="417.74" cy="96.13" r="0.8" fill="#8c8c8c"/>
<circle cx="413.35" cy="99.40" r="0.8" fill="#8c8c8c"/>
<circle cx="414.41" cy="96.88" r="0.8" fill="#8c8c8c"/>
<circle cx="416.04" cy="91.10" r="0.8" fill="#8c8c8c"/>
<circle cx="418.68" cy="94.73" r="0.8" fill="#8c8c8c"/>
<circle cx="417.56" cy="92.94" r="0.8" fill="#8c8c8c"/>
<circle cx="412.65" cy="89.33" r="0.8" fill="#8c8c8c"/>
<circle cx="416.09" cy="90.73" r="0.8" fill="#8c8c8c"/>
<circle cx="418.24" cy="96.53" r="0.8" fill="#8c8c8c"/>
<circle cx="418.57" cy="94.65" r="0.8" fill="#8c8c8c"/>
<circle cx="413.30" cy="89.39" r="0.8" fill="#8c8c8c"/>
<circle cx="416.81" cy="93.24" r="0.8" fill="#8c8c8c"/>
<circle cx="414.07" cy="98.02" r="0.8" fill="#8c8c8c"/>
<circle cx="416.63" cy="92.56" r="0.8" fill="#8c8c8c"/>
<circle cx="412.85" cy="87.74" r="0.8" fill="#8c8c8c"/>
<circle cx="416.80" cy="98.61" r="0.8" fill="#8c8c8c"/>
<circle cx="417.36" cy="98.66" r="0.8" fill="#8c8c8c"/>
<circle cx="416.95" cy="93.34" r="0.8" fill="#8c8c8c"/>
<circle cx="413.04" cy="99.29" r="0.8" fill="#8c8c8c"/>
<circle cx="414.95" cy="101.80" r="0.8" fill="#8c8c8c"/>
<circle cx="413.29" cy="95.92" r="0.8" fill="#8c8c8c"/>
<circle cx="412.78" cy="92.09" r="0.8" fill="#8c8c8c"/>
<circle cx="416.09" cy="101.21" r="0.8" fill="#8c8c8c"/>
<circle cx="415.61" cy="99.04" r="0.8" fill="#8c8c8c"/>
<circle cx="415.26" cy="89.77" r="0.8" fill="#8c8c8c"/>
<circle cx="417.88" cy="94.05" r="0.8" fill="#8c8c8c"/>
<circle cx="412.51" cy="92.29" r="0.8" fill="#8c8c8c"/>
<circle cx="416.54" cy="95.72" r="0.8" fill="#8c8c8c"/>
<circle cx="414.90" cy="90.47" r="0.8" fill="#8c8c8c"/>
<circle cx="415.03" cy="96.39" r="0.8" fill="#8c8c8c"/>
<circle cx="415.89" cy="96.03" r="0.8" fill="#8c8c8c"/>
<circle cx="414.06" cy="94.01" r="0.8" fill="#8c8c8c"/>
<circle cx="416.17" cy="96.33" r="0.8" fill="#8c8c8c"/>
<circle cx="418.32" cy="96.04" r="0.8" fill="#8c8c8c"/>
<circle cx="415.54" cy="101.30" r="0.8" fill="#8c8c8c"/>
<circle cx="412.51" cy="90.47" r="0.8" fill="#8c8c8c"/>
<circle cx="415.64" cy="90.70" r="0.8" fill="#8c8c8c"/>
<circle cx="415.33" cy="98.08" r="0.8" fill="#8c8c8c"/>
<circle cx="413.53" cy="99.62" r="0.8" fill="#8c8c8c"/>
<circle cx="418.14" cy="93.06" r="0.8" fill="#8c8c8c"/>
<circle cx="414.75" cy="93.79" r="0.8" fill="#8c8c8c"/>
<circle cx="413.22" cy="89.86" r="0.8" fill="#8c8c8c"/>
<circle cx="413.98" cy="90.88" r="0.8" fill="#8c8c8c"/>
<circle cx="414.48" cy="94.22" r="0.8" fill="#8c8c8c"/>
<circle cx="418.62" cy="97.01" r="0.8" fill="#8c8c8c"/>
<circle cx="415.06" cy="97.00" r="0.8" fill="#8c8c8c"/>
<circle cx="416.27" cy="95.16" r="0.8" fill="#8c8c8c"/>
<circle cx="418.57" cy="97.37" r="0.8" fill="#8c8c8c"/>
<circle cx="413.02" cy="97.04" r="0.8" fill="#8c8c8c"/>
<circle cx="417.96" cy="94.53" r="0.8" fill="#8c8c8c"/>
<circle cx="412.59" cy="89.31" r="0.8" fill="#8c8c8c"/>
<text x="491.20" y="46.90" font-size="8.3" text-anchor="end" fill="#111" stroke="#111" stroke-width="0.15" textLength="14.0" lengthAdjust="spacingAndGlyphs" >1.5h</text>
<text x="413.20" y="119.20" font-size="8.3" text-anchor="start" fill="#111" textLength="38.3" lengthAdjust="spacingAndGlyphs" >Non barbell</text>
<line x1="261.60" y1="147.20" x2="261.60" y2="247.60" stroke="#1a1a1a" stroke-width="1.3" />
<line x1="261.00" y1="247.40" x2="374.20" y2="247.40" stroke="#1a1a1a" stroke-width="1.3" />
<line x1="259.40" y1="245.00" x2="261.60" y2="245.00" stroke="#1a1a1a" stroke-width="1" />
<text x="255.60" y="247.40" font-size="7.8" text-anchor="end" fill="#111" stroke="#111" stroke-width="0.08" >0</text>
<line x1="259.40" y1="208.05" x2="261.60" y2="208.05" stroke="#1a1a1a" stroke-width="1" />
<text x="255.60" y="210.45" font-size="7.8" text-anchor="end" fill="#111" stroke="#111" stroke-width="0.08" >3</text>
<line x1="259.40" y1="171.10" x2="261.60" y2="171.10" stroke="#1a1a1a" stroke-width="1" />
<text x="255.60" y="173.50" font-size="7.8" text-anchor="end" fill="#111" stroke="#111" stroke-width="0.08" >6</text>
<line x1="274.00" y1="247.40" x2="274.00" y2="250.10" stroke="#1a1a1a" stroke-width="1" />
<text x="274.00" y="259.00" font-size="7.8" text-anchor="middle" fill="#111" stroke="#111" stroke-width="0.08" >0</text>
<line x1="301.40" y1="247.40" x2="301.40" y2="250.10" stroke="#1a1a1a" stroke-width="1" />
<text x="301.40" y="259.00" font-size="7.8" text-anchor="middle" fill="#111" stroke="#111" stroke-width="0.08" >50</text>
<line x1="328.80" y1="247.40" x2="328.80" y2="250.10" stroke="#1a1a1a" stroke-width="1" />
<text x="328.80" y="259.00" font-size="7.8" text-anchor="middle" fill="#111" stroke="#111" stroke-width="0.08" >100</text>
<line x1="356.20" y1="247.40" x2="356.20" y2="250.10" stroke="#1a1a1a" stroke-width="1" />
<text x="356.20" y="259.00" font-size="7.8" text-anchor="middle" fill="#111" stroke="#111" stroke-width="0.08" >150</text>
<polygon points="271.50,212.20 280.60,220.40 280.60,236.00 271.50,236.00" fill="#fbfbfb" stroke="#c8c8c8" stroke-width="0.8"/>
<polyline points="272.40,212.20 272.40,155.80 367.50,155.80 367.50,233.40 280.60,233.40 280.60,220.40 272.40,212.20" fill="none" stroke="#7d7deb" stroke-width="1"/>
<circle cx="277.50" cy="216.64" r="0.95" fill="#0000ff"/>
<circle cx="287.31" cy="204.24" r="0.95" fill="#0000ff"/>
<circle cx="280.69" cy="198.69" r="0.95" fill="#0000ff"/>
<circle cx="296.80" cy="215.17" r="0.95" fill="#0000ff"/>
<circle cx="285.01" cy="213.81" r="0.95" fill="#0000ff"/>
<circle cx="278.81" cy="198.23" r="0.95" fill="#0000ff"/>
<circle cx="292.33" cy="218.77" r="0.95" fill="#0000ff"/>
<circle cx="277.05" cy="210.72" r="0.95" fill="#0000ff"/>
<circle cx="283.70" cy="208.09" r="0.95" fill="#0000ff"/>
<circle cx="285.55" cy="211.20" r="0.95" fill="#0000ff"/>
<circle cx="278.64" cy="214.56" r="0.95" fill="#0000ff"/>
<circle cx="277.57" cy="203.47" r="0.95" fill="#0000ff"/>
<circle cx="282.55" cy="214.78" r="0.95" fill="#0000ff"/>
<circle cx="292.55" cy="215.86" r="0.95" fill="#0000ff"/>
<circle cx="284.98" cy="225.50" r="0.95" fill="#0000ff"/>
<circle cx="296.16" cy="211.81" r="0.95" fill="#0000ff"/>
<circle cx="280.03" cy="205.94" r="0.95" fill="#0000ff"/>
<circle cx="276.88" cy="206.12" r="0.95" fill="#0000ff"/>
<circle cx="292.92" cy="212.67" r="0.95" fill="#0000ff"/>
<circle cx="287.67" cy="218.34" r="0.95" fill="#0000ff"/>
<circle cx="295.93" cy="219.61" r="0.95" fill="#0000ff"/>
<circle cx="284.99" cy="213.64" r="0.95" fill="#0000ff"/>
<circle cx="287.50" cy="205.28" r="0.95" fill="#0000ff"/>
<circle cx="287.52" cy="205.68" r="0.95" fill="#0000ff"/>
<circle cx="276.79" cy="200.28" r="0.95" fill="#0000ff"/>
<circle cx="287.18" cy="206.76" r="0.95" fill="#0000ff"/>
<circle cx="277.31" cy="203.40" r="0.95" fill="#0000ff"/>
<circle cx="292.20" cy="221.36" r="0.95" fill="#0000ff"/>
<circle cx="274.84" cy="211.12" r="0.95" fill="#0000ff"/>
<circle cx="281.40" cy="199.03" r="0.95" fill="#0000ff"/>
<circle cx="286.94" cy="213.07" r="0.95" fill="#0000ff"/>
<circle cx="289.06" cy="210.42" r="0.95" fill="#0000ff"/>
<circle cx="280.94" cy="217.31" r="0.95" fill="#0000ff"/>
<circle cx="282.09" cy="225.96" r="0.95" fill="#0000ff"/>
<circle cx="289.74" cy="210.05" r="0.95" fill="#0000ff"/>
<circle cx="284.67" cy="204.12" r="0.95" fill="#0000ff"/>
<circle cx="280.47" cy="216.69" r="0.95" fill="#0000ff"/>
<circle cx="284.94" cy="204.70" r="0.95" fill="#0000ff"/>
<circle cx="274.95" cy="211.22" r="0.95" fill="#0000ff"/>
<circle cx="295.97" cy="218.99" r="0.95" fill="#0000ff"/>
<circle cx="290.65" cy="221.12" r="0.95" fill="#0000ff"/>
<circle cx="281.50" cy="206.60" r="0.95" fill="#0000ff"/>
<circle cx="281.48" cy="223.72" r="0.95" fill="#0000ff"/>
<circle cx="282.16" cy="215.36" r="0.95" fill="#0000ff"/>
<circle cx="280.78" cy="222.34" r="0.95" fill="#0000ff"/>
<circle cx="278.76" cy="215.12" r="0.95" fill="#0000ff"/>
<circle cx="284.90" cy="215.45" r="0.95" fill="#0000ff"/>
<circle cx="284.20" cy="206.68" r="0.95" fill="#0000ff"/>
<circle cx="274.99" cy="211.98" r="0.95" fill="#0000ff"/>
<circle cx="274.32" cy="213.30" r="0.95" fill="#0000ff"/>
<circle cx="285.19" cy="223.23" r="0.95" fill="#0000ff"/>
<circle cx="293.94" cy="220.90" r="0.95" fill="#0000ff"/>
<circle cx="278.13" cy="208.85" r="0.95" fill="#0000ff"/>
<circle cx="295.51" cy="220.98" r="0.95" fill="#0000ff"/>
<circle cx="275.28" cy="214.71" r="0.95" fill="#0000ff"/>
<circle cx="293.05" cy="219.33" r="0.95" fill="#0000ff"/>
<circle cx="294.24" cy="214.32" r="0.95" fill="#0000ff"/>
<circle cx="280.41" cy="208.37" r="0.95" fill="#0000ff"/>
<circle cx="275.27" cy="211.73" r="0.95" fill="#0000ff"/>
<circle cx="281.34" cy="199.34" r="0.95" fill="#0000ff"/>
<circle cx="291.42" cy="216.35" r="0.95" fill="#0000ff"/>
<circle cx="296.94" cy="213.35" r="0.95" fill="#0000ff"/>
<circle cx="293.47" cy="212.98" r="0.95" fill="#0000ff"/>
<circle cx="278.77" cy="199.25" r="0.95" fill="#0000ff"/>
<circle cx="292.62" cy="212.57" r="0.95" fill="#0000ff"/>
<circle cx="288.04" cy="223.28" r="0.95" fill="#0000ff"/>
<circle cx="281.99" cy="214.36" r="0.95" fill="#0000ff"/>
<circle cx="298.02" cy="212.51" r="0.95" fill="#0000ff"/>
<circle cx="294.13" cy="218.21" r="0.95" fill="#0000ff"/>
<circle cx="276.16" cy="209.73" r="0.95" fill="#0000ff"/>
<circle cx="294.82" cy="207.93" r="0.95" fill="#0000ff"/>
<circle cx="285.49" cy="214.19" r="0.95" fill="#0000ff"/>
<circle cx="279.80" cy="200.23" r="0.95" fill="#0000ff"/>
<circle cx="297.11" cy="212.46" r="0.95" fill="#0000ff"/>
<circle cx="284.78" cy="214.77" r="0.95" fill="#0000ff"/>
<circle cx="289.96" cy="204.96" r="0.95" fill="#0000ff"/>
<circle cx="285.68" cy="204.91" r="0.95" fill="#0000ff"/>
<circle cx="293.29" cy="218.30" r="0.95" fill="#0000ff"/>
<circle cx="288.99" cy="213.11" r="0.95" fill="#0000ff"/>
<circle cx="278.67" cy="202.88" r="0.95" fill="#0000ff"/>
<circle cx="282.59" cy="221.05" r="0.95" fill="#0000ff"/>
<circle cx="283.00" cy="214.88" r="0.95" fill="#0000ff"/>
<circle cx="295.70" cy="219.23" r="0.95" fill="#0000ff"/>
<circle cx="294.23" cy="219.92" r="0.95" fill="#0000ff"/>
<circle cx="275.47" cy="206.03" r="0.95" fill="#0000ff"/>
<circle cx="291.39" cy="206.33" r="0.95" fill="#0000ff"/>
<circle cx="286.72" cy="218.72" r="0.95" fill="#0000ff"/>
<circle cx="282.08" cy="216.29" r="0.95" fill="#0000ff"/>
<circle cx="277.13" cy="198.56" r="0.95" fill="#0000ff"/>
<circle cx="291.74" cy="214.69" r="0.95" fill="#0000ff"/>
<circle cx="289.75" cy="216.03" r="0.95" fill="#0000ff"/>
<circle cx="292.48" cy="215.81" r="0.95" fill="#0000ff"/>
<circle cx="280.32" cy="220.11" r="0.95" fill="#0000ff"/>
<circle cx="284.76" cy="203.40" r="0.95" fill="#0000ff"/>
<circle cx="276.49" cy="212.39" r="0.95" fill="#0000ff"/>
<circle cx="282.18" cy="207.04" r="0.95" fill="#0000ff"/>
<circle cx="277.69" cy="201.00" r="0.95" fill="#0000ff"/>
<circle cx="279.11" cy="200.62" r="0.95" fill="#0000ff"/>
<circle cx="284.42" cy="220.08" r="0.95" fill="#0000ff"/>
<circle cx="280.29" cy="214.81" r="0.95" fill="#0000ff"/>
<circle cx="287.70" cy="220.70" r="0.95" fill="#0000ff"/>
<circle cx="273.42" cy="207.33" r="0.95" fill="#0000ff"/>
<circle cx="283.61" cy="220.02" r="0.95" fill="#0000ff"/>
<circle cx="296.37" cy="219.30" r="0.95" fill="#0000ff"/>
<circle cx="292.55" cy="213.09" r="0.95" fill="#0000ff"/>
<circle cx="290.00" cy="216.89" r="0.95" fill="#0000ff"/>
<circle cx="275.53" cy="205.97" r="0.95" fill="#0000ff"/>
<circle cx="294.46" cy="219.39" r="0.95" fill="#0000ff"/>
<circle cx="282.53" cy="222.58" r="0.95" fill="#0000ff"/>
<circle cx="289.36" cy="210.80" r="0.95" fill="#0000ff"/>
<circle cx="278.64" cy="212.10" r="0.95" fill="#0000ff"/>
<circle cx="274.89" cy="203.21" r="0.95" fill="#0000ff"/>
<circle cx="290.42" cy="209.60" r="0.95" fill="#0000ff"/>
<circle cx="282.44" cy="204.85" r="0.95" fill="#0000ff"/>
<circle cx="290.94" cy="212.30" r="0.95" fill="#0000ff"/>
<circle cx="290.53" cy="218.12" r="0.95" fill="#0000ff"/>
<circle cx="283.80" cy="225.85" r="0.95" fill="#0000ff"/>
<circle cx="289.73" cy="206.34" r="0.95" fill="#0000ff"/>
<circle cx="289.80" cy="217.52" r="0.95" fill="#0000ff"/>
<circle cx="292.66" cy="211.98" r="0.95" fill="#0000ff"/>
<circle cx="284.72" cy="216.73" r="0.95" fill="#0000ff"/>
<circle cx="283.93" cy="201.41" r="0.95" fill="#0000ff"/>
<circle cx="286.24" cy="219.51" r="0.95" fill="#0000ff"/>
<circle cx="276.39" cy="212.67" r="0.95" fill="#0000ff"/>
<circle cx="291.31" cy="209.89" r="0.95" fill="#0000ff"/>
<circle cx="276.35" cy="206.36" r="0.95" fill="#0000ff"/>
<circle cx="289.48" cy="205.30" r="0.95" fill="#0000ff"/>
<circle cx="277.70" cy="207.11" r="0.95" fill="#0000ff"/>
<circle cx="289.82" cy="221.86" r="0.95" fill="#0000ff"/>
<circle cx="274.07" cy="207.68" r="0.95" fill="#0000ff"/>
<circle cx="279.32" cy="197.87" r="0.95" fill="#0000ff"/>
<circle cx="289.17" cy="212.35" r="0.95" fill="#0000ff"/>
<circle cx="279.38" cy="204.32" r="0.95" fill="#0000ff"/>
<circle cx="295.70" cy="218.32" r="0.95" fill="#0000ff"/>
<circle cx="280.87" cy="206.67" r="0.95" fill="#0000ff"/>
<circle cx="285.67" cy="216.87" r="0.95" fill="#0000ff"/>
<circle cx="278.79" cy="213.89" r="0.95" fill="#0000ff"/>
<circle cx="281.13" cy="200.90" r="0.95" fill="#0000ff"/>
<circle cx="288.04" cy="207.48" r="0.95" fill="#0000ff"/>
<circle cx="285.27" cy="219.33" r="0.95" fill="#0000ff"/>
<circle cx="281.34" cy="205.55" r="0.95" fill="#0000ff"/>
<circle cx="276.93" cy="212.77" r="0.95" fill="#0000ff"/>
<circle cx="278.64" cy="204.77" r="0.95" fill="#0000ff"/>
<circle cx="294.27" cy="216.43" r="0.95" fill="#0000ff"/>
<circle cx="290.65" cy="205.83" r="0.95" fill="#0000ff"/>
<circle cx="286.56" cy="217.93" r="0.95" fill="#0000ff"/>
<circle cx="281.24" cy="216.53" r="0.95" fill="#0000ff"/>
<circle cx="292.61" cy="209.47" r="0.95" fill="#0000ff"/>
<circle cx="277.08" cy="205.77" r="0.95" fill="#0000ff"/>
<circle cx="286.81" cy="217.30" r="0.95" fill="#0000ff"/>
<circle cx="279.02" cy="210.20" r="0.95" fill="#0000ff"/>
<circle cx="290.89" cy="204.34" r="0.95" fill="#0000ff"/>
<circle cx="273.81" cy="206.10" r="0.95" fill="#0000ff"/>
<circle cx="298.17" cy="214.90" r="0.95" fill="#0000ff"/>
<circle cx="289.36" cy="223.18" r="0.95" fill="#0000ff"/>
<circle cx="283.17" cy="207.31" r="0.95" fill="#0000ff"/>
<circle cx="279.20" cy="203.72" r="0.95" fill="#0000ff"/>
<circle cx="293.60" cy="217.47" r="0.95" fill="#0000ff"/>
<circle cx="296.09" cy="210.58" r="0.95" fill="#0000ff"/>
<circle cx="278.34" cy="208.21" r="0.95" fill="#0000ff"/>
<circle cx="275.09" cy="202.96" r="0.95" fill="#0000ff"/>
<circle cx="289.04" cy="211.14" r="0.95" fill="#0000ff"/>
<circle cx="282.75" cy="217.34" r="0.95" fill="#0000ff"/>
<circle cx="278.18" cy="200.98" r="0.95" fill="#0000ff"/>
<circle cx="282.52" cy="215.78" r="0.95" fill="#0000ff"/>
<circle cx="292.48" cy="207.32" r="0.95" fill="#0000ff"/>
<circle cx="286.78" cy="205.19" r="0.95" fill="#0000ff"/>
<circle cx="281.23" cy="200.91" r="0.95" fill="#0000ff"/>
<circle cx="295.56" cy="218.49" r="0.95" fill="#0000ff"/>
<circle cx="285.32" cy="216.22" r="0.95" fill="#0000ff"/>
<circle cx="286.06" cy="204.64" r="0.95" fill="#0000ff"/>
<circle cx="292.97" cy="209.54" r="0.95" fill="#0000ff"/>
<circle cx="283.07" cy="219.47" r="0.95" fill="#0000ff"/>
<circle cx="285.62" cy="225.17" r="0.95" fill="#0000ff"/>
<circle cx="291.48" cy="223.14" r="0.95" fill="#0000ff"/>
<circle cx="282.14" cy="205.03" r="0.95" fill="#0000ff"/>
<circle cx="277.66" cy="212.91" r="0.95" fill="#0000ff"/>
<circle cx="290.63" cy="212.45" r="0.95" fill="#0000ff"/>
<circle cx="286.37" cy="222.91" r="0.95" fill="#0000ff"/>
<circle cx="295.95" cy="208.58" r="0.95" fill="#0000ff"/>
<circle cx="286.49" cy="209.84" r="0.95" fill="#0000ff"/>
<circle cx="278.99" cy="202.10" r="0.95" fill="#0000ff"/>
<circle cx="289.08" cy="213.77" r="0.95" fill="#0000ff"/>
<circle cx="297.71" cy="216.71" r="0.95" fill="#0000ff"/>
<circle cx="285.89" cy="208.89" r="0.95" fill="#0000ff"/>
<circle cx="286.76" cy="216.26" r="0.95" fill="#0000ff"/>
<circle cx="281.50" cy="216.34" r="0.95" fill="#0000ff"/>
<circle cx="288.55" cy="205.05" r="0.95" fill="#0000ff"/>
<circle cx="274.99" cy="204.53" r="0.95" fill="#0000ff"/>
<circle cx="287.65" cy="219.96" r="0.95" fill="#0000ff"/>
<circle cx="291.76" cy="219.25" r="0.95" fill="#0000ff"/>
<circle cx="285.94" cy="220.53" r="0.95" fill="#0000ff"/>
<circle cx="290.08" cy="222.65" r="0.95" fill="#0000ff"/>
<circle cx="278.44" cy="202.10" r="0.95" fill="#0000ff"/>
<circle cx="277.48" cy="212.67" r="0.95" fill="#0000ff"/>
<circle cx="279.88" cy="197.96" r="0.95" fill="#0000ff"/>
<circle cx="282.18" cy="222.56" r="0.95" fill="#0000ff"/>
<circle cx="284.33" cy="225.28" r="0.95" fill="#0000ff"/>
<circle cx="282.83" cy="212.84" r="0.95" fill="#0000ff"/>
<circle cx="286.80" cy="215.34" r="0.95" fill="#0000ff"/>
<circle cx="290.41" cy="206.53" r="0.95" fill="#0000ff"/>
<circle cx="289.44" cy="213.53" r="0.95" fill="#0000ff"/>
<circle cx="289.94" cy="210.24" r="0.95" fill="#0000ff"/>
<circle cx="286.88" cy="209.65" r="0.95" fill="#0000ff"/>
<circle cx="296.88" cy="212.43" r="0.95" fill="#0000ff"/>
<circle cx="285.15" cy="204.87" r="0.95" fill="#0000ff"/>
<circle cx="273.52" cy="204.71" r="0.95" fill="#0000ff"/>
<circle cx="275.35" cy="206.48" r="0.95" fill="#0000ff"/>
<circle cx="284.57" cy="220.53" r="0.95" fill="#0000ff"/>
<circle cx="293.86" cy="218.12" r="0.95" fill="#0000ff"/>
<circle cx="284.23" cy="198.95" r="0.95" fill="#0000ff"/>
<circle cx="291.65" cy="221.38" r="0.95" fill="#0000ff"/>
<circle cx="286.42" cy="225.73" r="0.95" fill="#0000ff"/>
<circle cx="287.38" cy="220.69" r="0.95" fill="#0000ff"/>
<circle cx="283.58" cy="216.02" r="0.95" fill="#0000ff"/>
<circle cx="275.10" cy="202.11" r="0.95" fill="#0000ff"/>
<circle cx="277.47" cy="216.81" r="0.95" fill="#0000ff"/>
<circle cx="294.61" cy="221.64" r="0.95" fill="#0000ff"/>
<circle cx="290.44" cy="206.82" r="0.95" fill="#0000ff"/>
<circle cx="290.84" cy="215.29" r="0.95" fill="#0000ff"/>
<circle cx="275.80" cy="203.02" r="0.95" fill="#0000ff"/>
<circle cx="287.83" cy="211.19" r="0.95" fill="#0000ff"/>
<circle cx="285.78" cy="226.35" r="0.95" fill="#0000ff"/>
<circle cx="290.90" cy="210.99" r="0.95" fill="#0000ff"/>
<circle cx="293.09" cy="213.29" r="0.95" fill="#0000ff"/>
<circle cx="281.83" cy="209.97" r="0.95" fill="#0000ff"/>
<circle cx="288.57" cy="209.11" r="0.95" fill="#0000ff"/>
<circle cx="290.33" cy="221.14" r="0.95" fill="#0000ff"/>
<circle cx="276.66" cy="208.42" r="0.95" fill="#0000ff"/>
<circle cx="276.47" cy="210.10" r="0.95" fill="#0000ff"/>
<circle cx="284.57" cy="205.97" r="0.95" fill="#0000ff"/>
<circle cx="282.58" cy="214.60" r="0.95" fill="#0000ff"/>
<circle cx="281.69" cy="209.27" r="0.95" fill="#0000ff"/>
<circle cx="284.29" cy="216.89" r="0.95" fill="#0000ff"/>
<circle cx="277.88" cy="214.88" r="0.95" fill="#0000ff"/>
<circle cx="296.70" cy="220.13" r="0.95" fill="#0000ff"/>
<circle cx="284.47" cy="209.76" r="0.95" fill="#0000ff"/>
<circle cx="276.33" cy="202.48" r="0.95" fill="#0000ff"/>
<circle cx="275.68" cy="211.40" r="0.95" fill="#0000ff"/>
<circle cx="287.64" cy="214.81" r="0.95" fill="#0000ff"/>
<circle cx="276.90" cy="187.30" r="0.95" fill="#0000ff"/>
<circle cx="274.60" cy="193.60" r="0.95" fill="#0000ff"/>
<circle cx="284.60" cy="192.20" r="0.95" fill="#0000ff"/>
<circle cx="284.00" cy="196.80" r="0.95" fill="#0000ff"/>
<circle cx="300.40" cy="202.50" r="0.95" fill="#0000ff"/>
<circle cx="302.90" cy="204.70" r="0.95" fill="#0000ff"/>
<circle cx="304.40" cy="208.50" r="0.95" fill="#0000ff"/>
<circle cx="313.80" cy="203.00" r="0.95" fill="#0000ff"/>
<circle cx="311.50" cy="211.90" r="0.95" fill="#0000ff"/>
<circle cx="308.00" cy="218.20" r="0.95" fill="#0000ff"/>
<circle cx="299.50" cy="221.60" r="0.95" fill="#0000ff"/>
<circle cx="301.20" cy="207.30" r="0.95" fill="#0000ff"/>
<circle cx="303.50" cy="211.30" r="0.95" fill="#0000ff"/>
<circle cx="275.32" cy="213.48" r="0.95" fill="#0000ff"/>
<circle cx="276.20" cy="215.54" r="0.95" fill="#0000ff"/>
<circle cx="279.53" cy="219.42" r="0.8" fill="#8c8c8c"/>
<circle cx="278.67" cy="221.77" r="0.8" fill="#8c8c8c"/>
<circle cx="275.49" cy="220.12" r="0.8" fill="#8c8c8c"/>
<circle cx="275.59" cy="219.77" r="0.8" fill="#8c8c8c"/>
<circle cx="273.58" cy="213.50" r="0.8" fill="#8c8c8c"/>
<circle cx="277.16" cy="221.96" r="0.8" fill="#8c8c8c"/>
<circle cx="278.21" cy="218.70" r="0.8" fill="#8c8c8c"/>
<circle cx="275.90" cy="220.64" r="0.8" fill="#8c8c8c"/>
<circle cx="275.63" cy="220.06" r="0.8" fill="#8c8c8c"/>
<circle cx="279.40" cy="224.17" r="0.8" fill="#8c8c8c"/>
<circle cx="276.38" cy="224.36" r="0.8" fill="#8c8c8c"/>
<circle cx="275.45" cy="220.22" r="0.8" fill="#8c8c8c"/>
<circle cx="273.69" cy="220.39" r="0.8" fill="#8c8c8c"/>
<circle cx="276.81" cy="222.49" r="0.8" fill="#8c8c8c"/>
<circle cx="276.19" cy="216.52" r="0.8" fill="#8c8c8c"/>
<circle cx="278.15" cy="223.71" r="0.8" fill="#8c8c8c"/>
<circle cx="274.58" cy="217.98" r="0.8" fill="#8c8c8c"/>
<circle cx="275.81" cy="224.00" r="0.8" fill="#8c8c8c"/>
<circle cx="279.81" cy="221.50" r="0.8" fill="#8c8c8c"/>
<circle cx="279.92" cy="220.18" r="0.8" fill="#8c8c8c"/>
<circle cx="275.89" cy="215.88" r="0.8" fill="#8c8c8c"/>
<circle cx="276.24" cy="224.85" r="0.8" fill="#8c8c8c"/>
<circle cx="279.20" cy="223.47" r="0.8" fill="#8c8c8c"/>
<circle cx="279.52" cy="221.92" r="0.8" fill="#8c8c8c"/>
<circle cx="277.38" cy="218.13" r="0.8" fill="#8c8c8c"/>
<circle cx="274.75" cy="216.22" r="0.8" fill="#8c8c8c"/>
<circle cx="277.13" cy="220.09" r="0.8" fill="#8c8c8c"/>
<circle cx="274.88" cy="215.51" r="0.8" fill="#8c8c8c"/>
<circle cx="274.91" cy="222.94" r="0.8" fill="#8c8c8c"/>
<circle cx="276.51" cy="223.19" r="0.8" fill="#8c8c8c"/>
<circle cx="274.60" cy="230.20" r="0.8" fill="#8c8c8c"/>
<circle cx="278.21" cy="222.58" r="0.8" fill="#8c8c8c"/>
<circle cx="278.22" cy="221.08" r="0.8" fill="#8c8c8c"/>
<circle cx="279.53" cy="221.99" r="0.8" fill="#8c8c8c"/>
<circle cx="278.03" cy="223.17" r="0.8" fill="#8c8c8c"/>
<circle cx="277.98" cy="225.20" r="0.8" fill="#8c8c8c"/>
<circle cx="278.68" cy="221.50" r="0.8" fill="#8c8c8c"/>
<circle cx="277.58" cy="224.84" r="0.8" fill="#8c8c8c"/>
<circle cx="280.22" cy="221.86" r="0.8" fill="#8c8c8c"/>
<circle cx="274.19" cy="217.90" r="0.8" fill="#8c8c8c"/>
<circle cx="273.69" cy="219.58" r="0.8" fill="#8c8c8c"/>
<circle cx="279.17" cy="220.47" r="0.8" fill="#8c8c8c"/>
<circle cx="275.47" cy="219.93" r="0.8" fill="#8c8c8c"/>
<circle cx="275.11" cy="217.33" r="0.8" fill="#8c8c8c"/>
<circle cx="274.79" cy="215.47" r="0.8" fill="#8c8c8c"/>
<circle cx="279.84" cy="222.75" r="0.8" fill="#8c8c8c"/>
<circle cx="276.21" cy="219.86" r="0.8" fill="#8c8c8c"/>
<circle cx="277.99" cy="220.52" r="0.8" fill="#8c8c8c"/>
<circle cx="280.05" cy="220.97" r="0.8" fill="#8c8c8c"/>
<circle cx="279.28" cy="224.86" r="0.8" fill="#8c8c8c"/>
<circle cx="276.89" cy="224.24" r="0.8" fill="#8c8c8c"/>
<circle cx="277.13" cy="217.23" r="0.8" fill="#8c8c8c"/>
<circle cx="277.44" cy="220.90" r="0.8" fill="#8c8c8c"/>
<circle cx="279.61" cy="221.81" r="0.8" fill="#8c8c8c"/>
<circle cx="279.09" cy="221.02" r="0.8" fill="#8c8c8c"/>
<circle cx="279.56" cy="220.56" r="0.8" fill="#8c8c8c"/>
<circle cx="274.08" cy="217.06" r="0.8" fill="#8c8c8c"/>
<circle cx="274.73" cy="222.68" r="0.8" fill="#8c8c8c"/>
<circle cx="277.12" cy="218.42" r="0.8" fill="#8c8c8c"/>
<circle cx="277.87" cy="218.51" r="0.8" fill="#8c8c8c"/>
<circle cx="277.01" cy="225.28" r="0.8" fill="#8c8c8c"/>
<circle cx="278.13" cy="222.70" r="0.8" fill="#8c8c8c"/>
<circle cx="274.63" cy="225.24" r="0.8" fill="#8c8c8c"/>
<circle cx="273.75" cy="222.88" r="0.8" fill="#8c8c8c"/>
<circle cx="278.79" cy="222.16" r="0.8" fill="#8c8c8c"/>
<circle cx="275.92" cy="216.45" r="0.8" fill="#8c8c8c"/>
<circle cx="276.82" cy="219.14" r="0.8" fill="#8c8c8c"/>
<circle cx="275.95" cy="221.58" r="0.8" fill="#8c8c8c"/>
<circle cx="275.63" cy="216.09" r="0.8" fill="#8c8c8c"/>
<circle cx="277.66" cy="224.29" r="0.8" fill="#8c8c8c"/>
<circle cx="275.15" cy="220.90" r="0.8" fill="#8c8c8c"/>
<circle cx="274.57" cy="221.68" r="0.8" fill="#8c8c8c"/>
<circle cx="274.65" cy="220.93" r="0.8" fill="#8c8c8c"/>
<circle cx="276.31" cy="221.79" r="0.8" fill="#8c8c8c"/>
<text x="353.80" y="173.10" font-size="8.3" text-anchor="end" fill="#111" stroke="#111" stroke-width="0.15" textLength="8.2" lengthAdjust="spacingAndGlyphs" >3h</text>
<text x="274.00" y="245.40" font-size="8.3" text-anchor="start" fill="#111" textLength="38.3" lengthAdjust="spacingAndGlyphs" >Non barbell</text>
<line x1="400.80" y1="147.20" x2="400.80" y2="247.60" stroke="#1a1a1a" stroke-width="1.3" />
<line x1="400.20" y1="247.40" x2="513.40" y2="247.40" stroke="#1a1a1a" stroke-width="1.3" />
<line x1="398.60" y1="245.00" x2="400.80" y2="245.00" stroke="#1a1a1a" stroke-width="1" />
<text x="394.80" y="247.40" font-size="7.8" text-anchor="end" fill="#111" stroke="#111" stroke-width="0.08" >0</text>
<line x1="398.60" y1="208.05" x2="400.80" y2="208.05" stroke="#1a1a1a" stroke-width="1" />
<text x="394.80" y="210.45" font-size="7.8" text-anchor="end" fill="#111" stroke="#111" stroke-width="0.08" >3</text>
<line x1="398.60" y1="171.10" x2="400.80" y2="171.10" stroke="#1a1a1a" stroke-width="1" />
<text x="394.80" y="173.50" font-size="7.8" text-anchor="end" fill="#111" stroke="#111" stroke-width="0.08" >6</text>
<line x1="413.20" y1="247.40" x2="413.20" y2="250.10" stroke="#1a1a1a" stroke-width="1" />
<text x="413.20" y="259.00" font-size="7.8" text-anchor="middle" fill="#111" stroke="#111" stroke-width="0.08" >0</text>
<line x1="440.60" y1="247.40" x2="440.60" y2="250.10" stroke="#1a1a1a" stroke-width="1" />
<text x="440.60" y="259.00" font-size="7.8" text-anchor="middle" fill="#111" stroke="#111" stroke-width="0.08" >50</text>
<line x1="468.00" y1="247.40" x2="468.00" y2="250.10" stroke="#1a1a1a" stroke-width="1" />
<text x="468.00" y="259.00" font-size="7.8" text-anchor="middle" fill="#111" stroke="#111" stroke-width="0.08" >100</text>
<line x1="495.40" y1="247.40" x2="495.40" y2="250.10" stroke="#1a1a1a" stroke-width="1" />
<text x="495.40" y="259.00" font-size="7.8" text-anchor="middle" fill="#111" stroke="#111" stroke-width="0.08" >150</text>
<polygon points="410.70,212.20 419.80,220.40 419.80,236.00 410.70,236.00" fill="#fbfbfb" stroke="#c8c8c8" stroke-width="0.8"/>
<polyline points="411.60,212.20 411.60,155.80 506.70,155.80 506.70,233.40 419.80,233.40 419.80,220.40 411.60,212.20" fill="none" stroke="#7d7deb" stroke-width="1"/>
<circle cx="412.97" cy="203.61" r="0.95" fill="#0000ff"/>
<circle cx="415.25" cy="203.98" r="0.95" fill="#0000ff"/>
<circle cx="421.03" cy="211.90" r="0.95" fill="#0000ff"/>
<circle cx="430.03" cy="210.39" r="0.95" fill="#0000ff"/>
<circle cx="424.28" cy="213.09" r="0.95" fill="#0000ff"/>
<circle cx="419.92" cy="204.01" r="0.95" fill="#0000ff"/>
<circle cx="424.83" cy="205.77" r="0.95" fill="#0000ff"/>
<circle cx="418.18" cy="209.05" r="0.95" fill="#0000ff"/>
<circle cx="417.79" cy="204.20" r="0.95" fill="#0000ff"/>
<circle cx="414.97" cy="209.49" r="0.95" fill="#0000ff"/>
<circle cx="420.14" cy="219.61" r="0.95" fill="#0000ff"/>
<circle cx="424.10" cy="204.10" r="0.95" fill="#0000ff"/>
<circle cx="414.39" cy="205.74" r="0.95" fill="#0000ff"/>
<circle cx="427.43" cy="211.69" r="0.95" fill="#0000ff"/>
<circle cx="417.18" cy="208.79" r="0.95" fill="#0000ff"/>
<circle cx="413.82" cy="203.74" r="0.95" fill="#0000ff"/>
<circle cx="426.86" cy="205.04" r="0.95" fill="#0000ff"/>
<circle cx="419.57" cy="207.28" r="0.95" fill="#0000ff"/>
<circle cx="416.58" cy="204.66" r="0.95" fill="#0000ff"/>
<circle cx="415.78" cy="210.62" r="0.95" fill="#0000ff"/>
<circle cx="427.63" cy="209.81" r="0.95" fill="#0000ff"/>
<circle cx="420.83" cy="217.41" r="0.95" fill="#0000ff"/>
<circle cx="425.79" cy="214.97" r="0.95" fill="#0000ff"/>
<circle cx="415.10" cy="210.86" r="0.95" fill="#0000ff"/>
<circle cx="418.10" cy="209.89" r="0.95" fill="#0000ff"/>
<circle cx="427.76" cy="209.86" r="0.95" fill="#0000ff"/>
<circle cx="418.38" cy="217.53" r="0.95" fill="#0000ff"/>
<circle cx="413.41" cy="205.95" r="0.95" fill="#0000ff"/>
<circle cx="421.74" cy="222.79" r="0.95" fill="#0000ff"/>
<circle cx="413.06" cy="212.38" r="0.95" fill="#0000ff"/>
<circle cx="419.24" cy="219.35" r="0.95" fill="#0000ff"/>
<circle cx="423.32" cy="209.62" r="0.95" fill="#0000ff"/>
<circle cx="423.31" cy="220.28" r="0.95" fill="#0000ff"/>
<circle cx="414.55" cy="214.44" r="0.95" fill="#0000ff"/>
<circle cx="422.30" cy="222.08" r="0.95" fill="#0000ff"/>
<circle cx="427.82" cy="208.24" r="0.95" fill="#0000ff"/>
<circle cx="422.01" cy="206.20" r="0.95" fill="#0000ff"/>
<circle cx="418.25" cy="217.46" r="0.95" fill="#0000ff"/>
<circle cx="426.07" cy="208.01" r="0.95" fill="#0000ff"/>
<circle cx="413.24" cy="206.43" r="0.95" fill="#0000ff"/>
<circle cx="415.13" cy="201.76" r="0.95" fill="#0000ff"/>
<circle cx="419.87" cy="213.26" r="0.95" fill="#0000ff"/>
<circle cx="422.16" cy="216.07" r="0.95" fill="#0000ff"/>
<circle cx="426.09" cy="208.65" r="0.95" fill="#0000ff"/>
<circle cx="422.86" cy="222.33" r="0.95" fill="#0000ff"/>
<circle cx="419.91" cy="221.82" r="0.95" fill="#0000ff"/>
<circle cx="428.32" cy="217.34" r="0.95" fill="#0000ff"/>
<circle cx="428.52" cy="210.26" r="0.95" fill="#0000ff"/>
<circle cx="420.08" cy="203.21" r="0.95" fill="#0000ff"/>
<circle cx="418.93" cy="206.94" r="0.95" fill="#0000ff"/>
<circle cx="420.27" cy="208.39" r="0.95" fill="#0000ff"/>
<circle cx="425.06" cy="208.88" r="0.95" fill="#0000ff"/>
<circle cx="421.29" cy="202.84" r="0.95" fill="#0000ff"/>
<circle cx="422.11" cy="212.53" r="0.95" fill="#0000ff"/>
<circle cx="421.13" cy="201.70" r="0.95" fill="#0000ff"/>
<circle cx="428.22" cy="213.15" r="0.95" fill="#0000ff"/>
<circle cx="426.23" cy="214.01" r="0.95" fill="#0000ff"/>
<circle cx="422.79" cy="214.03" r="0.95" fill="#0000ff"/>
<circle cx="422.11" cy="218.64" r="0.95" fill="#0000ff"/>
<circle cx="417.15" cy="202.07" r="0.95" fill="#0000ff"/>
<circle cx="422.62" cy="219.51" r="0.95" fill="#0000ff"/>
<circle cx="420.68" cy="204.81" r="0.95" fill="#0000ff"/>
<circle cx="427.92" cy="209.54" r="0.95" fill="#0000ff"/>
<circle cx="427.01" cy="208.40" r="0.95" fill="#0000ff"/>
<circle cx="416.24" cy="203.47" r="0.95" fill="#0000ff"/>
<circle cx="425.24" cy="217.59" r="0.95" fill="#0000ff"/>
<circle cx="429.34" cy="219.44" r="0.95" fill="#0000ff"/>
<circle cx="424.43" cy="207.50" r="0.95" fill="#0000ff"/>
<circle cx="427.35" cy="220.68" r="0.95" fill="#0000ff"/>
<circle cx="413.90" cy="210.39" r="0.95" fill="#0000ff"/>
<circle cx="422.25" cy="204.35" r="0.95" fill="#0000ff"/>
<circle cx="428.82" cy="216.81" r="0.95" fill="#0000ff"/>
<circle cx="419.00" cy="209.19" r="0.95" fill="#0000ff"/>
<circle cx="416.29" cy="206.74" r="0.95" fill="#0000ff"/>
<circle cx="430.05" cy="214.46" r="0.95" fill="#0000ff"/>
<circle cx="428.96" cy="216.04" r="0.95" fill="#0000ff"/>
<circle cx="415.31" cy="211.76" r="0.95" fill="#0000ff"/>
<circle cx="425.75" cy="215.68" r="0.95" fill="#0000ff"/>
<circle cx="420.80" cy="217.71" r="0.95" fill="#0000ff"/>
<circle cx="423.57" cy="223.71" r="0.95" fill="#0000ff"/>
<circle cx="419.33" cy="219.24" r="0.95" fill="#0000ff"/>
<circle cx="426.08" cy="211.13" r="0.95" fill="#0000ff"/>
<circle cx="412.62" cy="204.87" r="0.95" fill="#0000ff"/>
<circle cx="420.53" cy="203.93" r="0.95" fill="#0000ff"/>
<circle cx="425.71" cy="223.52" r="0.95" fill="#0000ff"/>
<circle cx="424.82" cy="207.20" r="0.95" fill="#0000ff"/>
<circle cx="426.25" cy="215.84" r="0.95" fill="#0000ff"/>
<circle cx="419.43" cy="211.24" r="0.95" fill="#0000ff"/>
<circle cx="429.77" cy="210.71" r="0.95" fill="#0000ff"/>
<circle cx="416.98" cy="201.62" r="0.95" fill="#0000ff"/>
<circle cx="418.19" cy="211.61" r="0.95" fill="#0000ff"/>
<circle cx="426.68" cy="209.36" r="0.95" fill="#0000ff"/>
<circle cx="423.48" cy="204.54" r="0.95" fill="#0000ff"/>
<circle cx="414.52" cy="202.61" r="0.95" fill="#0000ff"/>
<circle cx="428.49" cy="207.89" r="0.95" fill="#0000ff"/>
<circle cx="413.10" cy="205.00" r="0.95" fill="#0000ff"/>
<circle cx="422.62" cy="221.82" r="0.95" fill="#0000ff"/>
<circle cx="424.31" cy="205.69" r="0.95" fill="#0000ff"/>
<circle cx="428.40" cy="215.41" r="0.95" fill="#0000ff"/>
<circle cx="423.76" cy="206.52" r="0.95" fill="#0000ff"/>
<circle cx="428.70" cy="213.32" r="0.95" fill="#0000ff"/>
<circle cx="425.13" cy="209.61" r="0.95" fill="#0000ff"/>
<circle cx="417.46" cy="207.87" r="0.95" fill="#0000ff"/>
<circle cx="423.42" cy="210.18" r="0.95" fill="#0000ff"/>
<circle cx="414.29" cy="208.48" r="0.95" fill="#0000ff"/>
<circle cx="417.17" cy="211.89" r="0.95" fill="#0000ff"/>
<circle cx="419.57" cy="215.30" r="0.95" fill="#0000ff"/>
<circle cx="424.67" cy="210.82" r="0.95" fill="#0000ff"/>
<circle cx="425.60" cy="205.65" r="0.95" fill="#0000ff"/>
<circle cx="423.85" cy="211.17" r="0.95" fill="#0000ff"/>
<circle cx="417.57" cy="202.83" r="0.95" fill="#0000ff"/>
<circle cx="427.25" cy="212.65" r="0.95" fill="#0000ff"/>
<circle cx="412.81" cy="208.18" r="0.95" fill="#0000ff"/>
<circle cx="419.97" cy="213.71" r="0.95" fill="#0000ff"/>
<circle cx="422.37" cy="205.71" r="0.95" fill="#0000ff"/>
<circle cx="424.95" cy="211.09" r="0.95" fill="#0000ff"/>
<circle cx="427.88" cy="218.17" r="0.95" fill="#0000ff"/>
<circle cx="414.68" cy="201.90" r="0.95" fill="#0000ff"/>
<circle cx="422.19" cy="208.16" r="0.95" fill="#0000ff"/>
<circle cx="423.10" cy="205.82" r="0.95" fill="#0000ff"/>
<circle cx="418.18" cy="204.98" r="0.95" fill="#0000ff"/>
<circle cx="418.91" cy="217.19" r="0.95" fill="#0000ff"/>
<circle cx="421.70" cy="217.09" r="0.95" fill="#0000ff"/>
<circle cx="416.95" cy="207.29" r="0.95" fill="#0000ff"/>
<circle cx="423.64" cy="218.98" r="0.95" fill="#0000ff"/>
<circle cx="422.18" cy="220.29" r="0.95" fill="#0000ff"/>
<circle cx="424.46" cy="205.70" r="0.95" fill="#0000ff"/>
<circle cx="425.61" cy="212.33" r="0.95" fill="#0000ff"/>
<circle cx="426.29" cy="212.49" r="0.95" fill="#0000ff"/>
<circle cx="413.17" cy="204.39" r="0.95" fill="#0000ff"/>
<circle cx="414.34" cy="211.96" r="0.95" fill="#0000ff"/>
<circle cx="417.89" cy="212.14" r="0.95" fill="#0000ff"/>
<circle cx="421.34" cy="221.57" r="0.95" fill="#0000ff"/>
<circle cx="413.42" cy="213.06" r="0.95" fill="#0000ff"/>
<circle cx="417.16" cy="216.70" r="0.95" fill="#0000ff"/>
<circle cx="429.33" cy="213.12" r="0.95" fill="#0000ff"/>
<circle cx="413.42" cy="205.38" r="0.95" fill="#0000ff"/>
<circle cx="419.99" cy="222.48" r="0.95" fill="#0000ff"/>
<circle cx="417.14" cy="207.48" r="0.95" fill="#0000ff"/>
<circle cx="426.80" cy="214.74" r="0.95" fill="#0000ff"/>
<circle cx="425.32" cy="215.03" r="0.95" fill="#0000ff"/>
<circle cx="418.78" cy="205.99" r="0.95" fill="#0000ff"/>
<circle cx="419.57" cy="212.66" r="0.95" fill="#0000ff"/>
<circle cx="425.08" cy="216.98" r="0.95" fill="#0000ff"/>
<circle cx="424.19" cy="218.53" r="0.95" fill="#0000ff"/>
<circle cx="429.96" cy="216.01" r="0.95" fill="#0000ff"/>
<circle cx="416.48" cy="205.67" r="0.95" fill="#0000ff"/>
<circle cx="421.24" cy="221.21" r="0.95" fill="#0000ff"/>
<circle cx="420.25" cy="213.85" r="0.95" fill="#0000ff"/>
<circle cx="424.21" cy="220.69" r="0.95" fill="#0000ff"/>
<circle cx="418.20" cy="213.26" r="0.95" fill="#0000ff"/>
<circle cx="419.26" cy="201.41" r="0.95" fill="#0000ff"/>
<circle cx="429.61" cy="212.19" r="0.95" fill="#0000ff"/>
<circle cx="420.84" cy="223.63" r="0.95" fill="#0000ff"/>
<circle cx="423.94" cy="223.15" r="0.95" fill="#0000ff"/>
<circle cx="419.24" cy="219.20" r="0.95" fill="#0000ff"/>
<circle cx="420.07" cy="202.16" r="0.95" fill="#0000ff"/>
<circle cx="427.71" cy="213.64" r="0.95" fill="#0000ff"/>
<circle cx="416.38" cy="210.08" r="0.95" fill="#0000ff"/>
<circle cx="422.89" cy="209.09" r="0.95" fill="#0000ff"/>
<circle cx="423.88" cy="216.73" r="0.95" fill="#0000ff"/>
<circle cx="424.56" cy="218.86" r="0.95" fill="#0000ff"/>
<circle cx="425.36" cy="210.63" r="0.95" fill="#0000ff"/>
<circle cx="420.19" cy="214.74" r="0.95" fill="#0000ff"/>
<circle cx="423.00" cy="223.73" r="0.95" fill="#0000ff"/>
<circle cx="419.65" cy="215.07" r="0.95" fill="#0000ff"/>
<circle cx="417.35" cy="216.89" r="0.95" fill="#0000ff"/>
<circle cx="429.18" cy="210.33" r="0.95" fill="#0000ff"/>
<circle cx="420.13" cy="209.70" r="0.95" fill="#0000ff"/>
<circle cx="423.12" cy="210.28" r="0.95" fill="#0000ff"/>
<circle cx="425.37" cy="210.60" r="0.95" fill="#0000ff"/>
<circle cx="425.17" cy="218.17" r="0.95" fill="#0000ff"/>
<circle cx="416.06" cy="210.25" r="0.95" fill="#0000ff"/>
<circle cx="418.90" cy="192.10" r="0.95" fill="#0000ff"/>
<circle cx="418.90" cy="196.40" r="0.95" fill="#0000ff"/>
<circle cx="416.90" cy="198.50" r="0.95" fill="#0000ff"/>
<circle cx="422.90" cy="198.70" r="0.95" fill="#0000ff"/>
<circle cx="431.50" cy="197.00" r="0.95" fill="#0000ff"/>
<circle cx="439.10" cy="198.70" r="0.95" fill="#0000ff"/>
<circle cx="438.70" cy="205.40" r="0.95" fill="#0000ff"/>
<circle cx="438.90" cy="209.00" r="0.95" fill="#0000ff"/>
<circle cx="442.30" cy="213.80" r="0.95" fill="#0000ff"/>
<circle cx="450.10" cy="207.00" r="0.95" fill="#0000ff"/>
<circle cx="452.40" cy="218.20" r="0.95" fill="#0000ff"/>
<circle cx="452.40" cy="217.20" r="0.95" fill="#0000ff"/>
<circle cx="437.70" cy="222.20" r="0.95" fill="#0000ff"/>
<circle cx="425.70" cy="226.80" r="0.95" fill="#0000ff"/>
<circle cx="433.20" cy="209.00" r="0.95" fill="#0000ff"/>
<circle cx="435.50" cy="210.70" r="0.95" fill="#0000ff"/>
<circle cx="440.00" cy="213.00" r="0.95" fill="#0000ff"/>
<circle cx="430.90" cy="215.30" r="0.95" fill="#0000ff"/>
<circle cx="429.20" cy="218.80" r="0.95" fill="#0000ff"/>
<circle cx="418.17" cy="218.66" r="0.95" fill="#0000ff"/>
<circle cx="417.76" cy="218.28" r="0.95" fill="#0000ff"/>
<circle cx="416.96" cy="217.54" r="0.95" fill="#0000ff"/>
<circle cx="414.91" cy="215.31" r="0.95" fill="#0000ff"/>
<circle cx="413.16" cy="213.06" r="0.95" fill="#0000ff"/>
<circle cx="417.73" cy="218.00" r="0.95" fill="#0000ff"/>
<circle cx="415.17" cy="217.67" r="0.8" fill="#8c8c8c"/>
<circle cx="419.40" cy="223.28" r="0.8" fill="#8c8c8c"/>
<circle cx="413.65" cy="217.24" r="0.8" fill="#8c8c8c"/>
<circle cx="416.58" cy="218.89" r="0.8" fill="#8c8c8c"/>
<circle cx="415.53" cy="221.69" r="0.8" fill="#8c8c8c"/>
<circle cx="415.55" cy="221.05" r="0.8" fill="#8c8c8c"/>
<circle cx="414.83" cy="217.71" r="0.8" fill="#8c8c8c"/>
<circle cx="416.98" cy="217.87" r="0.8" fill="#8c8c8c"/>
<circle cx="413.51" cy="214.71" r="0.8" fill="#8c8c8c"/>
<circle cx="415.99" cy="220.01" r="0.8" fill="#8c8c8c"/>
<circle cx="412.71" cy="219.58" r="0.8" fill="#8c8c8c"/>
<circle cx="412.83" cy="217.82" r="0.8" fill="#8c8c8c"/>
<circle cx="417.79" cy="222.53" r="0.8" fill="#8c8c8c"/>
<circle cx="414.50" cy="219.83" r="0.8" fill="#8c8c8c"/>
<circle cx="418.54" cy="220.00" r="0.8" fill="#8c8c8c"/>
<circle cx="416.30" cy="220.24" r="0.8" fill="#8c8c8c"/>
<circle cx="413.42" cy="214.07" r="0.8" fill="#8c8c8c"/>
<circle cx="418.47" cy="222.53" r="0.8" fill="#8c8c8c"/>
<circle cx="418.73" cy="219.66" r="0.8" fill="#8c8c8c"/>
<circle cx="413.54" cy="221.04" r="0.8" fill="#8c8c8c"/>
<circle cx="419.36" cy="222.36" r="0.8" fill="#8c8c8c"/>
<circle cx="413.98" cy="214.68" r="0.8" fill="#8c8c8c"/>
<circle cx="418.03" cy="222.37" r="0.8" fill="#8c8c8c"/>
<circle cx="417.80" cy="222.79" r="0.8" fill="#8c8c8c"/>
<circle cx="419.28" cy="222.18" r="0.8" fill="#8c8c8c"/>
<circle cx="419.46" cy="220.71" r="0.8" fill="#8c8c8c"/>
<circle cx="416.76" cy="219.49" r="0.8" fill="#8c8c8c"/>
<circle cx="416.00" cy="225.00" r="0.8" fill="#8c8c8c"/>
<circle cx="416.00" cy="228.50" r="0.8" fill="#8c8c8c"/>
<circle cx="412.97" cy="217.26" r="0.8" fill="#8c8c8c"/>
<circle cx="416.26" cy="218.62" r="0.8" fill="#8c8c8c"/>
<circle cx="414.13" cy="220.34" r="0.8" fill="#8c8c8c"/>
<circle cx="414.61" cy="221.93" r="0.8" fill="#8c8c8c"/>
<circle cx="414.11" cy="221.30" r="0.8" fill="#8c8c8c"/>
<circle cx="417.61" cy="219.20" r="0.8" fill="#8c8c8c"/>
<circle cx="415.03" cy="222.30" r="0.8" fill="#8c8c8c"/>
<circle cx="416.61" cy="222.33" r="0.8" fill="#8c8c8c"/>
<circle cx="413.74" cy="218.85" r="0.8" fill="#8c8c8c"/>
<circle cx="417.22" cy="218.42" r="0.8" fill="#8c8c8c"/>
<circle cx="417.31" cy="220.39" r="0.8" fill="#8c8c8c"/>
<circle cx="416.76" cy="218.49" r="0.8" fill="#8c8c8c"/>
<circle cx="413.42" cy="217.23" r="0.8" fill="#8c8c8c"/>
<circle cx="414.30" cy="217.75" r="0.8" fill="#8c8c8c"/>
<circle cx="418.83" cy="220.69" r="0.8" fill="#8c8c8c"/>
<circle cx="413.64" cy="217.54" r="0.8" fill="#8c8c8c"/>
<circle cx="415.26" cy="215.95" r="0.8" fill="#8c8c8c"/>
<circle cx="413.15" cy="217.18" r="0.8" fill="#8c8c8c"/>
<circle cx="416.68" cy="220.77" r="0.8" fill="#8c8c8c"/>
<circle cx="416.17" cy="219.58" r="0.8" fill="#8c8c8c"/>
<circle cx="413.75" cy="219.52" r="0.8" fill="#8c8c8c"/>
<circle cx="415.25" cy="221.99" r="0.8" fill="#8c8c8c"/>
<circle cx="413.11" cy="217.30" r="0.8" fill="#8c8c8c"/>
<circle cx="417.01" cy="221.55" r="0.8" fill="#8c8c8c"/>
<circle cx="415.65" cy="220.22" r="0.8" fill="#8c8c8c"/>
<circle cx="413.50" cy="217.93" r="0.8" fill="#8c8c8c"/>
<circle cx="412.87" cy="219.18" r="0.8" fill="#8c8c8c"/>
<circle cx="413.60" cy="217.32" r="0.8" fill="#8c8c8c"/>
<circle cx="417.62" cy="220.09" r="0.8" fill="#8c8c8c"/>
<circle cx="416.52" cy="218.38" r="0.8" fill="#8c8c8c"/>
<circle cx="415.88" cy="221.28" r="0.8" fill="#8c8c8c"/>
<circle cx="414.98" cy="217.01" r="0.8" fill="#8c8c8c"/>
<circle cx="416.92" cy="219.26" r="0.8" fill="#8c8c8c"/>
<circle cx="414.04" cy="218.26" r="0.8" fill="#8c8c8c"/>
<text x="495.20" y="173.10" font-size="8.3" text-anchor="end" fill="#111" stroke="#111" stroke-width="0.15" textLength="7.8" lengthAdjust="spacingAndGlyphs" >6h</text>
<text x="413.20" y="245.40" font-size="8.3" text-anchor="start" fill="#111" textLength="38.3" lengthAdjust="spacingAndGlyphs" >Non barbell</text>
<text x="445.20" y="170.30" font-size="4" text-anchor="start" fill="#9999ee" >i</text>
<line x1="261.60" y1="282.00" x2="261.60" y2="382.40" stroke="#1a1a1a" stroke-width="1.3" />
<line x1="261.00" y1="382.20" x2="374.20" y2="382.20" stroke="#1a1a1a" stroke-width="1.3" />
<line x1="259.40" y1="379.80" x2="261.60" y2="379.80" stroke="#1a1a1a" stroke-width="1" />
<text x="255.60" y="382.20" font-size="7.8" text-anchor="end" fill="#111" stroke="#111" stroke-width="0.08" >0</text>
<line x1="259.40" y1="342.85" x2="261.60" y2="342.85" stroke="#1a1a1a" stroke-width="1" />
<text x="255.60" y="345.25" font-size="7.8" text-anchor="end" fill="#111" stroke="#111" stroke-width="0.08" >3</text>
<line x1="259.40" y1="305.90" x2="261.60" y2="305.90" stroke="#1a1a1a" stroke-width="1" />
<text x="255.60" y="308.30" font-size="7.8" text-anchor="end" fill="#111" stroke="#111" stroke-width="0.08" >6</text>
<line x1="274.00" y1="382.20" x2="274.00" y2="384.90" stroke="#1a1a1a" stroke-width="1" />
<text x="274.00" y="393.80" font-size="7.8" text-anchor="middle" fill="#111" stroke="#111" stroke-width="0.08" >0</text>
<line x1="301.40" y1="382.20" x2="301.40" y2="384.90" stroke="#1a1a1a" stroke-width="1" />
<text x="301.40" y="393.80" font-size="7.8" text-anchor="middle" fill="#111" stroke="#111" stroke-width="0.08" >50</text>
<line x1="328.80" y1="382.20" x2="328.80" y2="384.90" stroke="#1a1a1a" stroke-width="1" />
<text x="328.80" y="393.80" font-size="7.8" text-anchor="middle" fill="#111" stroke="#111" stroke-width="0.08" >100</text>
<line x1="356.20" y1="382.20" x2="356.20" y2="384.90" stroke="#1a1a1a" stroke-width="1" />
<text x="356.20" y="393.80" font-size="7.8" text-anchor="middle" fill="#111" stroke="#111" stroke-width="0.08" >150</text>
<polygon points="271.50,347.00 280.60,355.20 280.60,370.80 271.50,370.80" fill="#fbfbfb" stroke="#c8c8c8" stroke-width="0.8"/>
<polyline points="272.40,347.00 272.40,290.60 367.50,290.60 367.50,368.20 280.60,368.20 280.60,355.20 272.40,347.00" fill="none" stroke="#7d7deb" stroke-width="1"/>
<circle cx="277.10" cy="338.20" r="0.95" fill="#0000ff"/>
<circle cx="278.90" cy="343.70" r="0.95" fill="#0000ff"/>
<circle cx="276.30" cy="345.40" r="0.95" fill="#0000ff"/>
<circle cx="275.10" cy="347.70" r="0.95" fill="#0000ff"/>
<circle cx="275.80" cy="346.60" r="0.95" fill="#0000ff"/>
<circle cx="279.50" cy="342.90" r="0.95" fill="#0000ff"/>
<circle cx="274.00" cy="356.20" r="0.8" fill="#8c8c8c"/>
<circle cx="275.20" cy="356.60" r="0.8" fill="#8c8c8c"/>
<circle cx="276.20" cy="357.30" r="0.8" fill="#8c8c8c"/>
<circle cx="275.50" cy="358.60" r="0.8" fill="#8c8c8c"/>
<circle cx="277.60" cy="358.90" r="0.8" fill="#8c8c8c"/>
<circle cx="274.30" cy="358.00" r="0.8" fill="#8c8c8c"/>
<text x="355.30" y="307.90" font-size="8.3" text-anchor="end" fill="#111" stroke="#111" stroke-width="0.15" textLength="12.5" lengthAdjust="spacingAndGlyphs" >24h</text>
<text x="274.00" y="380.20" font-size="8.3" text-anchor="start" fill="#111" textLength="38.3" lengthAdjust="spacingAndGlyphs" >Non barbell</text>
<text x="246.20" y="331.70" font-size="8.6" text-anchor="middle" fill="#111" stroke="#111" stroke-width="0.25" textLength="40" lengthAdjust="spacingAndGlyphs" transform="rotate(-90 246.20 331.70)" >Min-Ax-Int_M</text>
<text x="318.30" y="406.50" font-size="8.6" text-anchor="middle" fill="#111" stroke="#111" stroke-width="0.25" textLength="51.2" lengthAdjust="spacingAndGlyphs" >A*Maj-Ax-Int_STn</text>
<line x1="406.60" y1="303.70" x2="406.60" y2="382.80" stroke="#1a1a1a" stroke-width="1.3" />
<line x1="481.90" y1="303.40" x2="481.90" y2="382.80" stroke="#1a1a1a" stroke-width="1.3" />
<line x1="406.10" y1="382.30" x2="482.40" y2="382.30" stroke="#1a1a1a" stroke-width="1.3" />
<line x1="404.60" y1="382.20" x2="406.60" y2="382.20" stroke="#1a1a1a" stroke-width="1" />
<text x="401.80" y="384.60" font-size="7.8" text-anchor="end" fill="#111" stroke="#111" stroke-width="0.08" >0</text>
<line x1="481.90" y1="382.20" x2="484.00" y2="382.20" stroke="#1a1a1a" stroke-width="1" />
<text x="485.40" y="384.60" font-size="7.8" text-anchor="start" fill="#111" stroke="#111" stroke-width="0.08" >0.0</text>
<line x1="404.60" y1="367.32" x2="406.60" y2="367.32" stroke="#1a1a1a" stroke-width="1" />
<text x="401.80" y="369.72" font-size="7.8" text-anchor="end" fill="#111" stroke="#111" stroke-width="0.08" >1</text>
<line x1="481.90" y1="367.32" x2="484.00" y2="367.32" stroke="#1a1a1a" stroke-width="1" />
<text x="485.40" y="369.72" font-size="7.8" text-anchor="start" fill="#111" stroke="#111" stroke-width="0.08" >0.5</text>
<line x1="404.60" y1="352.44" x2="406.60" y2="352.44" stroke="#1a1a1a" stroke-width="1" />
<text x="401.80" y="354.84" font-size="7.8" text-anchor="end" fill="#111" stroke="#111" stroke-width="0.08" >2</text>
<line x1="481.90" y1="352.44" x2="484.00" y2="352.44" stroke="#1a1a1a" stroke-width="1" />
<text x="485.40" y="354.84" font-size="7.8" text-anchor="start" fill="#111" stroke="#111" stroke-width="0.08" >1.0</text>
<line x1="404.60" y1="337.56" x2="406.60" y2="337.56" stroke="#1a1a1a" stroke-width="1" />
<text x="401.80" y="339.96" font-size="7.8" text-anchor="end" fill="#111" stroke="#111" stroke-width="0.08" >3</text>
<line x1="481.90" y1="337.56" x2="484.00" y2="337.56" stroke="#1a1a1a" stroke-width="1" />
<text x="485.40" y="339.96" font-size="7.8" text-anchor="start" fill="#111" stroke="#111" stroke-width="0.08" >1.5</text>
<line x1="404.60" y1="322.68" x2="406.60" y2="322.68" stroke="#1a1a1a" stroke-width="1" />
<text x="401.80" y="325.08" font-size="7.8" text-anchor="end" fill="#111" stroke="#111" stroke-width="0.08" >4</text>
<line x1="481.90" y1="322.68" x2="484.00" y2="322.68" stroke="#1a1a1a" stroke-width="1" />
<text x="485.40" y="325.08" font-size="7.8" text-anchor="start" fill="#111" stroke="#111" stroke-width="0.08" >2.0</text>
<line x1="404.60" y1="307.80" x2="406.60" y2="307.80" stroke="#1a1a1a" stroke-width="1" />
<text x="401.80" y="310.20" font-size="7.8" text-anchor="end" fill="#111" stroke="#111" stroke-width="0.08" >5</text>
<line x1="481.90" y1="307.80" x2="484.00" y2="307.80" stroke="#1a1a1a" stroke-width="1" />
<text x="485.40" y="310.20" font-size="7.8" text-anchor="start" fill="#111" stroke="#111" stroke-width="0.08" >2.5</text>
<line x1="406.30" y1="382.30" x2="406.30" y2="384.40" stroke="#1a1a1a" stroke-width="1" />
<text x="406.30" y="393.90" font-size="7.8" text-anchor="middle" fill="#111" stroke="#111" stroke-width="0.08" >0</text>
<line x1="425.14" y1="382.30" x2="425.14" y2="384.40" stroke="#1a1a1a" stroke-width="1" />
<text x="425.14" y="393.90" font-size="7.8" text-anchor="middle" fill="#111" stroke="#111" stroke-width="0.08" >6</text>
<line x1="443.98" y1="382.30" x2="443.98" y2="384.40" stroke="#1a1a1a" stroke-width="1" />
<text x="443.98" y="393.90" font-size="7.8" text-anchor="middle" fill="#111" stroke="#111" stroke-width="0.08" >12</text>
<line x1="462.82" y1="382.30" x2="462.82" y2="384.40" stroke="#1a1a1a" stroke-width="1" />
<text x="462.82" y="393.90" font-size="7.8" text-anchor="middle" fill="#111" stroke="#111" stroke-width="0.08" >18</text>
<line x1="481.66" y1="382.30" x2="481.66" y2="384.40" stroke="#1a1a1a" stroke-width="1" />
<text x="481.66" y="393.90" font-size="7.8" text-anchor="middle" fill="#111" stroke="#111" stroke-width="0.08" >24</text>
<text x="445.40" y="406.50" font-size="8.8" text-anchor="middle" fill="#111" stroke="#111" stroke-width="0.25" textLength="23.8" lengthAdjust="spacingAndGlyphs" >Time [h]</text>
<text x="391.90" y="345.70" font-size="8.8" text-anchor="middle" fill="#111" stroke="#111" stroke-width="0.25" textLength="60.5" lengthAdjust="spacingAndGlyphs" transform="rotate(-90 391.90 345.70)" >Preplatelets &#215; 10<tspan font-size="5.5" dy="-3">3</tspan><tspan dy="3">/&#181;L</tspan></text>
<text x="504.80" y="345.00" font-size="8.8" text-anchor="middle" fill="#111" stroke="#111" stroke-width="0.25" textLength="48" lengthAdjust="spacingAndGlyphs" transform="rotate(90 504.80 345.00)" >Barbell &#215; 10<tspan font-size="5.5" dy="-3">3</tspan><tspan dy="3">/&#181;L</tspan></text>
<line x1="406.30" y1="313.60" x2="406.30" y2="326.00" stroke="#333" stroke-width="1" />
<line x1="404.70" y1="313.60" x2="407.90" y2="313.60" stroke="#333" stroke-width="1" />
<line x1="404.70" y1="326.00" x2="407.90" y2="326.00" stroke="#333" stroke-width="1" />
<line x1="411.01" y1="334.00" x2="411.01" y2="354.60" stroke="#333" stroke-width="1" />
<line x1="409.41" y1="334.00" x2="412.61" y2="334.00" stroke="#333" stroke-width="1" />
<line x1="409.41" y1="354.60" x2="412.61" y2="354.60" stroke="#333" stroke-width="1" />
<line x1="415.72" y1="307.90" x2="415.72" y2="329.90" stroke="#333" stroke-width="1" />
<line x1="414.12" y1="307.90" x2="417.32" y2="307.90" stroke="#333" stroke-width="1" />
<line x1="414.12" y1="329.90" x2="417.32" y2="329.90" stroke="#333" stroke-width="1" />
<line x1="415.72" y1="356.30" x2="415.72" y2="360.20" stroke="#333" stroke-width="1" />
<line x1="414.12" y1="356.30" x2="417.32" y2="356.30" stroke="#333" stroke-width="1" />
<line x1="414.12" y1="360.20" x2="417.32" y2="360.20" stroke="#333" stroke-width="1" />
<line x1="425.14" y1="333.40" x2="425.14" y2="352.00" stroke="#333" stroke-width="1" />
<line x1="423.54" y1="333.40" x2="426.74" y2="333.40" stroke="#333" stroke-width="1" />
<line x1="423.54" y1="352.00" x2="426.74" y2="352.00" stroke="#333" stroke-width="1" />
<polyline points="406.30,325.80 411.01,346.40 415.72,358.10 425.14,364.30 481.66,374.90" fill="none" stroke="#3dbb48" stroke-width="1.5" stroke-linejoin="round" />
<polyline points="406.30,381.40 411.01,341.20 415.72,319.20 425.14,342.80 481.66,378.20" fill="none" stroke="#174f90" stroke-width="1.5" stroke-linejoin="round" />
<circle cx="406.30" cy="325.80" r="1.7" fill="#3dbb48"/>
<circle cx="411.01" cy="346.40" r="1.7" fill="#3dbb48"/>
<circle cx="415.72" cy="358.10" r="1.7" fill="#3dbb48"/>
<circle cx="425.14" cy="364.30" r="1.7" fill="#3dbb48"/>
<circle cx="481.66" cy="374.90" r="1.7" fill="#3dbb48"/>
<circle cx="406.30" cy="381.40" r="1.7" fill="#174f90"/>
<circle cx="411.01" cy="341.20" r="1.7" fill="#174f90"/>
<circle cx="415.72" cy="319.20" r="1.7" fill="#174f90"/>
<circle cx="425.14" cy="342.80" r="1.7" fill="#174f90"/>
<circle cx="481.66" cy="378.20" r="1.7" fill="#174f90"/>
<text x="415.72" y="305.00" font-size="7" text-anchor="middle" fill="#111" font-weight="bold" >*</text>
<text x="415.72" y="370.30" font-size="7" text-anchor="middle" fill="#111" font-weight="bold" >*</text>
<text x="425.14" y="374.40" font-size="7" text-anchor="middle" fill="#111" font-weight="bold" >**</text>
<text x="472.30" y="381.40" font-size="7" text-anchor="middle" fill="#111" font-weight="bold" >***</text>
<line x1="425.40" y1="308.30" x2="433.10" y2="308.30" stroke="#3dbb48" stroke-width="1.5" />
<circle cx="429.30" cy="308.30" r="1.7" fill="#3dbb48"/>
<line x1="425.40" y1="318.40" x2="433.10" y2="318.40" stroke="#174f90" stroke-width="1.5" />
<circle cx="429.30" cy="318.40" r="1.7" fill="#174f90"/>
<text x="435.80" y="311.00" font-size="7.2" text-anchor="start" fill="#111" textLength="36.2" lengthAdjust="spacingAndGlyphs" >Preplatelets</text>
<text x="435.80" y="321.00" font-size="7.2" text-anchor="start" fill="#111" textLength="25.1" lengthAdjust="spacingAndGlyphs" >Barbells</text>
<line x1="37.00" y1="239.80" x2="37.00" y2="305.00" stroke="#1a1a1a" stroke-width="1.3" />
<line x1="36.50" y1="304.50" x2="107.30" y2="304.50" stroke="#1a1a1a" stroke-width="1.3" />
<line x1="34.00" y1="303.30" x2="37.00" y2="303.30" stroke="#1a1a1a" stroke-width="1" />
<text x="30.80" y="305.80" font-size="7.4" text-anchor="end" fill="#111" stroke="#111" stroke-width="0.08" >0</text>
<line x1="34.00" y1="279.30" x2="37.00" y2="279.30" stroke="#1a1a1a" stroke-width="1" />
<text x="30.80" y="281.80" font-size="7.4" text-anchor="end" fill="#111" stroke="#111" stroke-width="0.08" >3</text>
<line x1="34.00" y1="255.30" x2="37.00" y2="255.30" stroke="#1a1a1a" stroke-width="1" />
<text x="30.80" y="257.80" font-size="7.4" text-anchor="end" fill="#111" stroke="#111" stroke-width="0.08" >6</text>
<line x1="45.10" y1="304.50" x2="45.10" y2="306.80" stroke="#1a1a1a" stroke-width="1" />
<text x="45.10" y="316.00" font-size="7.6" text-anchor="middle" fill="#111" stroke="#111" stroke-width="0.08" >0</text>
<line x1="63.00" y1="304.50" x2="63.00" y2="306.80" stroke="#1a1a1a" stroke-width="1" />
<text x="63.00" y="316.00" font-size="7.6" text-anchor="middle" fill="#111" stroke="#111" stroke-width="0.08" >50</text>
<line x1="80.90" y1="304.50" x2="80.90" y2="306.80" stroke="#1a1a1a" stroke-width="1" />
<text x="80.90" y="316.00" font-size="7.6" text-anchor="middle" fill="#111" stroke="#111" stroke-width="0.08" >100</text>
<line x1="98.80" y1="304.50" x2="98.80" y2="306.80" stroke="#1a1a1a" stroke-width="1" />
<text x="98.80" y="316.00" font-size="7.6" text-anchor="middle" fill="#111" stroke="#111" stroke-width="0.08" >150</text>
<polygon points="43.47,282.00 49.41,287.32 49.41,297.46 43.47,297.46" fill="#fbfbfb" stroke="#c8c8c8" stroke-width="0.8"/>
<polyline points="44.05,282.00 44.05,245.37 106.18,245.37 106.18,295.77 49.41,295.77 49.41,287.32 44.05,282.00" fill="none" stroke="#7d7deb" stroke-width="1"/>
<circle cx="51.74" cy="277.74" r="0.75" fill="#0000ff"/>
<circle cx="54.40" cy="285.47" r="0.75" fill="#0000ff"/>
<circle cx="57.74" cy="282.80" r="0.75" fill="#0000ff"/>
<circle cx="59.72" cy="281.06" r="0.75" fill="#0000ff"/>
<circle cx="56.95" cy="284.58" r="0.75" fill="#0000ff"/>
<circle cx="57.99" cy="286.89" r="0.75" fill="#0000ff"/>
<circle cx="44.82" cy="278.12" r="0.75" fill="#0000ff"/>
<circle cx="53.52" cy="280.03" r="0.75" fill="#0000ff"/>
<circle cx="51.98" cy="286.67" r="0.75" fill="#0000ff"/>
<circle cx="53.90" cy="288.90" r="0.75" fill="#0000ff"/>
<circle cx="47.70" cy="273.97" r="0.75" fill="#0000ff"/>
<circle cx="60.73" cy="287.20" r="0.75" fill="#0000ff"/>
<circle cx="56.05" cy="279.51" r="0.75" fill="#0000ff"/>
<circle cx="48.63" cy="280.13" r="0.75" fill="#0000ff"/>
<circle cx="52.13" cy="280.98" r="0.75" fill="#0000ff"/>
<circle cx="49.55" cy="290.71" r="0.75" fill="#0000ff"/>
<circle cx="58.03" cy="286.67" r="0.75" fill="#0000ff"/>
<circle cx="44.78" cy="275.79" r="0.75" fill="#0000ff"/>
<circle cx="48.84" cy="283.61" r="0.75" fill="#0000ff"/>
<circle cx="49.60" cy="286.40" r="0.75" fill="#0000ff"/>
<circle cx="54.70" cy="285.88" r="0.75" fill="#0000ff"/>
<circle cx="55.75" cy="282.02" r="0.75" fill="#0000ff"/>
<circle cx="58.03" cy="287.62" r="0.75" fill="#0000ff"/>
<circle cx="54.71" cy="278.26" r="0.75" fill="#0000ff"/>
<circle cx="55.19" cy="277.60" r="0.75" fill="#0000ff"/>
<circle cx="48.38" cy="281.82" r="0.75" fill="#0000ff"/>
<circle cx="48.09" cy="281.74" r="0.75" fill="#0000ff"/>
<circle cx="50.59" cy="280.27" r="0.75" fill="#0000ff"/>
<circle cx="57.05" cy="282.73" r="0.75" fill="#0000ff"/>
<circle cx="58.03" cy="286.50" r="0.75" fill="#0000ff"/>
<circle cx="53.70" cy="283.16" r="0.75" fill="#0000ff"/>
<circle cx="54.74" cy="286.46" r="0.75" fill="#0000ff"/>
<circle cx="53.40" cy="285.99" r="0.75" fill="#0000ff"/>
<circle cx="52.64" cy="286.34" r="0.75" fill="#0000ff"/>
<circle cx="58.05" cy="279.39" r="0.75" fill="#0000ff"/>
<circle cx="51.23" cy="278.96" r="0.75" fill="#0000ff"/>
<circle cx="47.41" cy="273.87" r="0.75" fill="#0000ff"/>
<circle cx="61.08" cy="285.04" r="0.75" fill="#0000ff"/>
<circle cx="59.61" cy="287.54" r="0.75" fill="#0000ff"/>
<circle cx="53.61" cy="289.38" r="0.75" fill="#0000ff"/>
<circle cx="56.69" cy="283.30" r="0.75" fill="#0000ff"/>
<circle cx="58.80" cy="286.78" r="0.75" fill="#0000ff"/>
<circle cx="49.13" cy="279.99" r="0.75" fill="#0000ff"/>
<circle cx="51.22" cy="290.64" r="0.75" fill="#0000ff"/>
<circle cx="44.87" cy="276.76" r="0.75" fill="#0000ff"/>
<circle cx="47.94" cy="280.81" r="0.75" fill="#0000ff"/>
<circle cx="57.38" cy="284.60" r="0.75" fill="#0000ff"/>
<circle cx="59.38" cy="284.54" r="0.75" fill="#0000ff"/>
<circle cx="54.31" cy="281.24" r="0.75" fill="#0000ff"/>
<circle cx="59.66" cy="283.05" r="0.75" fill="#0000ff"/>
<circle cx="51.89" cy="290.19" r="0.75" fill="#0000ff"/>
<circle cx="53.62" cy="281.87" r="0.75" fill="#0000ff"/>
<circle cx="58.91" cy="287.64" r="0.75" fill="#0000ff"/>
<circle cx="54.54" cy="289.59" r="0.75" fill="#0000ff"/>
<circle cx="47.66" cy="277.94" r="0.75" fill="#0000ff"/>
<circle cx="47.36" cy="281.10" r="0.75" fill="#0000ff"/>
<circle cx="47.81" cy="274.07" r="0.75" fill="#0000ff"/>
<circle cx="50.42" cy="281.98" r="0.75" fill="#0000ff"/>
<circle cx="45.91" cy="281.49" r="0.75" fill="#0000ff"/>
<circle cx="48.78" cy="279.32" r="0.75" fill="#0000ff"/>
<circle cx="48.51" cy="277.98" r="0.75" fill="#0000ff"/>
<circle cx="52.94" cy="289.47" r="0.75" fill="#0000ff"/>
<circle cx="57.03" cy="283.48" r="0.75" fill="#0000ff"/>
<circle cx="53.85" cy="277.14" r="0.75" fill="#0000ff"/>
<circle cx="51.77" cy="274.96" r="0.75" fill="#0000ff"/>
<circle cx="51.61" cy="277.65" r="0.75" fill="#0000ff"/>
<circle cx="57.15" cy="289.89" r="0.75" fill="#0000ff"/>
<circle cx="51.87" cy="289.31" r="0.75" fill="#0000ff"/>
<circle cx="47.59" cy="285.35" r="0.75" fill="#0000ff"/>
<circle cx="50.13" cy="288.46" r="0.75" fill="#0000ff"/>
<circle cx="52.39" cy="282.87" r="0.75" fill="#0000ff"/>
<circle cx="60.91" cy="285.41" r="0.75" fill="#0000ff"/>
<circle cx="53.29" cy="287.08" r="0.75" fill="#0000ff"/>
<circle cx="50.75" cy="281.58" r="0.75" fill="#0000ff"/>
<circle cx="51.59" cy="277.07" r="0.75" fill="#0000ff"/>
<circle cx="44.32" cy="281.21" r="0.75" fill="#0000ff"/>
<circle cx="57.86" cy="281.24" r="0.75" fill="#0000ff"/>
<circle cx="58.00" cy="284.59" r="0.75" fill="#0000ff"/>
<circle cx="52.00" cy="283.04" r="0.75" fill="#0000ff"/>
<circle cx="48.89" cy="285.57" r="0.75" fill="#0000ff"/>
<circle cx="45.58" cy="280.66" r="0.75" fill="#0000ff"/>
<circle cx="48.72" cy="280.96" r="0.75" fill="#0000ff"/>
<circle cx="53.49" cy="283.82" r="0.75" fill="#0000ff"/>
<circle cx="51.41" cy="277.60" r="0.75" fill="#0000ff"/>
<circle cx="57.75" cy="285.24" r="0.75" fill="#0000ff"/>
<circle cx="52.95" cy="284.58" r="0.75" fill="#0000ff"/>
<circle cx="45.33" cy="277.32" r="0.75" fill="#0000ff"/>
<circle cx="57.91" cy="285.25" r="0.75" fill="#0000ff"/>
<circle cx="56.10" cy="286.71" r="0.75" fill="#0000ff"/>
<circle cx="55.64" cy="288.55" r="0.75" fill="#0000ff"/>
<circle cx="54.35" cy="284.99" r="0.75" fill="#0000ff"/>
<circle cx="54.62" cy="288.26" r="0.75" fill="#0000ff"/>
<circle cx="50.65" cy="291.99" r="0.75" fill="#0000ff"/>
<circle cx="55.19" cy="288.93" r="0.75" fill="#0000ff"/>
<circle cx="58.94" cy="288.12" r="0.75" fill="#0000ff"/>
<circle cx="58.50" cy="289.41" r="0.75" fill="#0000ff"/>
<circle cx="54.00" cy="289.68" r="0.75" fill="#0000ff"/>
<circle cx="54.46" cy="278.08" r="0.75" fill="#0000ff"/>
<circle cx="53.59" cy="285.61" r="0.75" fill="#0000ff"/>
<circle cx="52.10" cy="283.30" r="0.75" fill="#0000ff"/>
<circle cx="46.48" cy="275.54" r="0.75" fill="#0000ff"/>
<circle cx="61.12" cy="284.28" r="0.75" fill="#0000ff"/>
<circle cx="56.81" cy="281.87" r="0.75" fill="#0000ff"/>
<circle cx="46.52" cy="278.09" r="0.75" fill="#0000ff"/>
<circle cx="46.89" cy="273.94" r="0.75" fill="#0000ff"/>
<circle cx="57.80" cy="284.09" r="0.75" fill="#0000ff"/>
<circle cx="50.73" cy="289.29" r="0.75" fill="#0000ff"/>
<circle cx="46.00" cy="273.04" r="0.75" fill="#0000ff"/>
<circle cx="52.78" cy="283.96" r="0.75" fill="#0000ff"/>
<circle cx="59.27" cy="280.99" r="0.75" fill="#0000ff"/>
<circle cx="56.31" cy="286.06" r="0.75" fill="#0000ff"/>
<circle cx="52.42" cy="286.69" r="0.75" fill="#0000ff"/>
<circle cx="50.36" cy="285.73" r="0.75" fill="#0000ff"/>
<circle cx="60.63" cy="283.14" r="0.75" fill="#0000ff"/>
<circle cx="50.68" cy="275.16" r="0.75" fill="#0000ff"/>
<circle cx="59.74" cy="288.46" r="0.75" fill="#0000ff"/>
<circle cx="50.13" cy="282.75" r="0.75" fill="#0000ff"/>
<circle cx="47.46" cy="285.07" r="0.75" fill="#0000ff"/>
<circle cx="49.53" cy="280.49" r="0.75" fill="#0000ff"/>
<circle cx="49.80" cy="290.83" r="0.75" fill="#0000ff"/>
<circle cx="47.55" cy="279.30" r="0.75" fill="#0000ff"/>
<circle cx="59.32" cy="289.12" r="0.75" fill="#0000ff"/>
<circle cx="48.33" cy="280.46" r="0.75" fill="#0000ff"/>
<circle cx="49.51" cy="289.28" r="0.75" fill="#0000ff"/>
<circle cx="46.85" cy="275.50" r="0.75" fill="#0000ff"/>
<circle cx="53.78" cy="281.07" r="0.75" fill="#0000ff"/>
<circle cx="51.64" cy="276.13" r="0.75" fill="#0000ff"/>
<circle cx="52.75" cy="277.11" r="0.75" fill="#0000ff"/>
<circle cx="54.91" cy="290.64" r="0.75" fill="#0000ff"/>
<circle cx="46.75" cy="284.28" r="0.75" fill="#0000ff"/>
<circle cx="55.65" cy="279.33" r="0.75" fill="#0000ff"/>
<circle cx="49.46" cy="283.01" r="0.75" fill="#0000ff"/>
<circle cx="52.80" cy="281.91" r="0.75" fill="#0000ff"/>
<circle cx="48.04" cy="279.23" r="0.75" fill="#0000ff"/>
<circle cx="52.28" cy="283.66" r="0.75" fill="#0000ff"/>
<circle cx="45.21" cy="282.10" r="0.75" fill="#0000ff"/>
<circle cx="52.53" cy="284.17" r="0.75" fill="#0000ff"/>
<circle cx="51.98" cy="275.88" r="0.75" fill="#0000ff"/>
<circle cx="50.66" cy="281.30" r="0.75" fill="#0000ff"/>
<circle cx="49.73" cy="285.52" r="0.75" fill="#0000ff"/>
<circle cx="58.44" cy="281.01" r="0.75" fill="#0000ff"/>
<circle cx="51.87" cy="280.38" r="0.75" fill="#0000ff"/>
<circle cx="46.34" cy="283.24" r="0.75" fill="#0000ff"/>
<circle cx="46.30" cy="279.94" r="0.75" fill="#0000ff"/>
<circle cx="47.57" cy="273.68" r="0.75" fill="#0000ff"/>
<circle cx="60.07" cy="282.82" r="0.75" fill="#0000ff"/>
<circle cx="55.52" cy="279.18" r="0.75" fill="#0000ff"/>
<circle cx="47.99" cy="284.41" r="0.75" fill="#0000ff"/>
<circle cx="62.33" cy="286.09" r="0.75" fill="#0000ff"/>
<circle cx="48.71" cy="273.06" r="0.75" fill="#0000ff"/>
<circle cx="54.05" cy="282.74" r="0.75" fill="#0000ff"/>
<circle cx="53.02" cy="280.60" r="0.75" fill="#0000ff"/>
<circle cx="48.77" cy="284.40" r="0.75" fill="#0000ff"/>
<circle cx="53.06" cy="280.50" r="0.75" fill="#0000ff"/>
<circle cx="47.86" cy="284.87" r="0.75" fill="#0000ff"/>
<circle cx="54.54" cy="288.84" r="0.75" fill="#0000ff"/>
<circle cx="55.19" cy="278.14" r="0.75" fill="#0000ff"/>
<circle cx="53.59" cy="283.60" r="0.75" fill="#0000ff"/>
<circle cx="56.52" cy="279.52" r="0.75" fill="#0000ff"/>
<circle cx="49.87" cy="280.33" r="0.75" fill="#0000ff"/>
<circle cx="59.19" cy="284.96" r="0.75" fill="#0000ff"/>
<circle cx="47.77" cy="277.52" r="0.75" fill="#0000ff"/>
<circle cx="45.47" cy="276.26" r="0.75" fill="#0000ff"/>
<circle cx="54.83" cy="279.45" r="0.75" fill="#0000ff"/>
<circle cx="55.87" cy="283.02" r="0.75" fill="#0000ff"/>
<circle cx="52.79" cy="288.68" r="0.75" fill="#0000ff"/>
<circle cx="49.43" cy="287.46" r="0.75" fill="#0000ff"/>
<circle cx="52.57" cy="284.82" r="0.75" fill="#0000ff"/>
<circle cx="52.59" cy="287.15" r="0.75" fill="#0000ff"/>
<circle cx="45.55" cy="277.35" r="0.75" fill="#0000ff"/>
<circle cx="47.17" cy="279.77" r="0.75" fill="#0000ff"/>
<circle cx="48.34" cy="275.77" r="0.75" fill="#0000ff"/>
<circle cx="55.42" cy="279.74" r="0.75" fill="#0000ff"/>
<circle cx="58.77" cy="288.07" r="0.75" fill="#0000ff"/>
<circle cx="48.69" cy="282.55" r="0.75" fill="#0000ff"/>
<circle cx="55.47" cy="288.54" r="0.75" fill="#0000ff"/>
<circle cx="58.86" cy="280.22" r="0.75" fill="#0000ff"/>
<circle cx="48.90" cy="282.25" r="0.75" fill="#0000ff"/>
<circle cx="60.24" cy="282.27" r="0.75" fill="#0000ff"/>
<circle cx="48.95" cy="279.65" r="0.75" fill="#0000ff"/>
<circle cx="59.08" cy="285.12" r="0.75" fill="#0000ff"/>
<circle cx="44.51" cy="282.05" r="0.75" fill="#0000ff"/>
<circle cx="47.05" cy="282.37" r="0.75" fill="#0000ff"/>
<circle cx="54.51" cy="280.80" r="0.75" fill="#0000ff"/>
<circle cx="54.90" cy="284.44" r="0.75" fill="#0000ff"/>
<circle cx="51.32" cy="287.03" r="0.75" fill="#0000ff"/>
<circle cx="48.90" cy="277.37" r="0.75" fill="#0000ff"/>
<circle cx="46.24" cy="273.01" r="0.75" fill="#0000ff"/>
<circle cx="46.50" cy="265.80" r="0.75" fill="#0000ff"/>
<circle cx="51.50" cy="268.70" r="0.75" fill="#0000ff"/>
<circle cx="44.80" cy="269.60" r="0.75" fill="#0000ff"/>
<circle cx="70.30" cy="275.40" r="0.75" fill="#0000ff"/>
<circle cx="63.00" cy="277.00" r="0.75" fill="#0000ff"/>
<circle cx="63.60" cy="278.80" r="0.75" fill="#0000ff"/>
<circle cx="62.10" cy="280.20" r="0.75" fill="#0000ff"/>
<circle cx="68.80" cy="281.60" r="0.75" fill="#0000ff"/>
<circle cx="66.90" cy="285.50" r="0.75" fill="#0000ff"/>
<circle cx="47.20" cy="267.50" r="0.75" fill="#0000ff"/>
<circle cx="53.50" cy="271.00" r="0.75" fill="#0000ff"/>
<circle cx="48.44" cy="286.17" r="0.75" fill="#0000ff"/>
<circle cx="45.07" cy="288.71" r="0.65" fill="#8c8c8c"/>
<circle cx="46.08" cy="288.68" r="0.65" fill="#8c8c8c"/>
<circle cx="47.83" cy="289.05" r="0.65" fill="#8c8c8c"/>
<circle cx="46.40" cy="285.55" r="0.65" fill="#8c8c8c"/>
<circle cx="46.20" cy="288.77" r="0.65" fill="#8c8c8c"/>
<circle cx="47.99" cy="286.48" r="0.65" fill="#8c8c8c"/>
<circle cx="46.42" cy="288.18" r="0.65" fill="#8c8c8c"/>
<circle cx="45.14" cy="287.50" r="0.65" fill="#8c8c8c"/>
<circle cx="45.06" cy="287.70" r="0.65" fill="#8c8c8c"/>
<circle cx="48.08" cy="289.06" r="0.65" fill="#8c8c8c"/>
<circle cx="46.19" cy="288.37" r="0.65" fill="#8c8c8c"/>
<circle cx="48.84" cy="288.91" r="0.65" fill="#8c8c8c"/>
<circle cx="44.63" cy="285.84" r="0.65" fill="#8c8c8c"/>
<circle cx="44.78" cy="284.12" r="0.65" fill="#8c8c8c"/>
<circle cx="47.61" cy="291.57" r="0.65" fill="#8c8c8c"/>
<circle cx="45.23" cy="292.07" r="0.65" fill="#8c8c8c"/>
<circle cx="45.43" cy="284.60" r="0.65" fill="#8c8c8c"/>
<circle cx="46.18" cy="284.78" r="0.65" fill="#8c8c8c"/>
<circle cx="48.87" cy="286.95" r="0.65" fill="#8c8c8c"/>
<circle cx="49.29" cy="289.28" r="0.65" fill="#8c8c8c"/>
<circle cx="44.27" cy="282.62" r="0.65" fill="#8c8c8c"/>
<circle cx="44.61" cy="283.68" r="0.65" fill="#8c8c8c"/>
<circle cx="45.64" cy="288.66" r="0.65" fill="#8c8c8c"/>
<circle cx="48.71" cy="288.40" r="0.65" fill="#8c8c8c"/>
<circle cx="46.04" cy="289.49" r="0.65" fill="#8c8c8c"/>
<circle cx="45.37" cy="283.67" r="0.65" fill="#8c8c8c"/>
<circle cx="47.01" cy="290.34" r="0.65" fill="#8c8c8c"/>
<circle cx="45.51" cy="287.26" r="0.65" fill="#8c8c8c"/>
<circle cx="44.95" cy="286.34" r="0.65" fill="#8c8c8c"/>
<circle cx="48.89" cy="289.38" r="0.65" fill="#8c8c8c"/>
<circle cx="47.75" cy="290.69" r="0.65" fill="#8c8c8c"/>
<circle cx="47.17" cy="286.25" r="0.65" fill="#8c8c8c"/>
<circle cx="45.50" cy="296.50" r="0.65" fill="#8c8c8c"/>
<circle cx="45.22" cy="285.20" r="0.65" fill="#8c8c8c"/>
<circle cx="48.93" cy="288.13" r="0.65" fill="#8c8c8c"/>
<circle cx="48.54" cy="287.51" r="0.65" fill="#8c8c8c"/>
<circle cx="48.39" cy="287.83" r="0.65" fill="#8c8c8c"/>
<circle cx="47.16" cy="287.30" r="0.65" fill="#8c8c8c"/>
<circle cx="44.41" cy="288.51" r="0.65" fill="#8c8c8c"/>
<circle cx="45.78" cy="284.59" r="0.65" fill="#8c8c8c"/>
<circle cx="48.23" cy="287.08" r="0.65" fill="#8c8c8c"/>
<circle cx="47.79" cy="289.96" r="0.65" fill="#8c8c8c"/>
<circle cx="46.76" cy="290.41" r="0.65" fill="#8c8c8c"/>
<circle cx="45.00" cy="286.45" r="0.65" fill="#8c8c8c"/>
<circle cx="44.46" cy="284.08" r="0.65" fill="#8c8c8c"/>
<circle cx="46.91" cy="285.61" r="0.65" fill="#8c8c8c"/>
<circle cx="44.58" cy="286.76" r="0.65" fill="#8c8c8c"/>
<circle cx="45.04" cy="289.53" r="0.65" fill="#8c8c8c"/>
<circle cx="46.76" cy="289.81" r="0.65" fill="#8c8c8c"/>
<circle cx="45.60" cy="289.78" r="0.65" fill="#8c8c8c"/>
<circle cx="48.58" cy="288.81" r="0.65" fill="#8c8c8c"/>
<circle cx="47.62" cy="287.38" r="0.65" fill="#8c8c8c"/>
<circle cx="44.84" cy="285.79" r="0.65" fill="#8c8c8c"/>
<circle cx="46.77" cy="288.93" r="0.65" fill="#8c8c8c"/>
<circle cx="45.76" cy="290.68" r="0.65" fill="#8c8c8c"/>
<circle cx="46.49" cy="290.24" r="0.65" fill="#8c8c8c"/>
<circle cx="45.65" cy="286.39" r="0.65" fill="#8c8c8c"/>
<circle cx="46.29" cy="288.49" r="0.65" fill="#8c8c8c"/>
<circle cx="47.38" cy="285.31" r="0.65" fill="#8c8c8c"/>
<circle cx="46.50" cy="285.06" r="0.65" fill="#8c8c8c"/>
<circle cx="45.19" cy="289.98" r="0.65" fill="#8c8c8c"/>
<circle cx="44.83" cy="288.17" r="0.65" fill="#8c8c8c"/>
<text x="95.50" y="259.30" font-size="9.0" text-anchor="end" fill="#111" stroke="#111" stroke-width="0.08" >3h</text>
<text x="57.10" y="272.60" font-size="9" text-anchor="start" fill="#3a6d9e" textLength="27.9" lengthAdjust="spacingAndGlyphs" >Barbell</text>
<text x="42.90" y="302.60" font-size="6.8" text-anchor="start" fill="#111" textLength="30" lengthAdjust="spacingAndGlyphs" >Non barbell</text>
<text x="20.30" y="272.10" font-size="8.6" text-anchor="middle" fill="#111" stroke="#111" stroke-width="0.25" textLength="39" lengthAdjust="spacingAndGlyphs" transform="rotate(-90 20.30 272.10)" >Min-Ax-Int_M</text>
<text x="73.60" y="329.40" font-size="8.6" text-anchor="middle" fill="#111" stroke="#111" stroke-width="0.25" textLength="51.6" lengthAdjust="spacingAndGlyphs" >A*Maj-Ax-Int_STn</text>
<line x1="75.30" y1="275.90" x2="75.30" y2="332.50" stroke="#111" stroke-width="1" />
<polygon points="75.3,336.6 73.1,331.8 77.5,331.8" fill="#111"/>
<line x1="37.00" y1="330.60" x2="37.00" y2="397.20" stroke="#1a1a1a" stroke-width="1.3" />
<line x1="36.50" y1="396.70" x2="105.20" y2="396.70" stroke="#1a1a1a" stroke-width="1.3" />
<line x1="34.60" y1="347.20" x2="37.00" y2="347.20" stroke="#1a1a1a" stroke-width="1" />
<text x="31.20" y="349.80" font-size="7.4" text-anchor="end" fill="#111" stroke="#111" stroke-width="0.08" >1e5</text>
<line x1="34.60" y1="364.40" x2="37.00" y2="364.40" stroke="#1a1a1a" stroke-width="1" />
<text x="31.20" y="367.00" font-size="7.4" text-anchor="end" fill="#111" stroke="#111" stroke-width="0.08" >1e4</text>
<line x1="34.60" y1="381.80" x2="37.00" y2="381.80" stroke="#1a1a1a" stroke-width="1" />
<text x="31.20" y="384.40" font-size="7.4" text-anchor="end" fill="#111" stroke="#111" stroke-width="0.08" >1e3</text>
<line x1="34.60" y1="389.60" x2="37.00" y2="389.60" stroke="#1a1a1a" stroke-width="1" />
<text x="31.20" y="392.20" font-size="7.4" text-anchor="end" fill="#111" stroke="#111" stroke-width="0.08" >0</text>
<text x="37.60" y="405.70" font-size="7.4" text-anchor="middle" fill="#111" stroke="#111" stroke-width="0.08" >e3</text>
<text x="46.60" y="405.70" font-size="7.4" text-anchor="middle" fill="#111" stroke="#111" stroke-width="0.08" >0</text>
<text x="56.50" y="405.70" font-size="7.4" text-anchor="middle" fill="#111" stroke="#111" stroke-width="0.08" >1e3</text>
<text x="72.40" y="405.70" font-size="7.4" text-anchor="middle" fill="#111" stroke="#111" stroke-width="0.08" >1e4</text>
<text x="90.90" y="405.70" font-size="7.4" text-anchor="middle" fill="#111" stroke="#111" stroke-width="0.08" >1e5</text>
<line x1="39.00" y1="396.70" x2="39.00" y2="398.80" stroke="#1a1a1a" stroke-width="0.8" />
<line x1="46.60" y1="396.70" x2="46.60" y2="398.80" stroke="#1a1a1a" stroke-width="0.8" />
<line x1="50.00" y1="396.70" x2="50.00" y2="398.00" stroke="#1a1a1a" stroke-width="0.8" />
<line x1="53.00" y1="396.70" x2="53.00" y2="398.00" stroke="#1a1a1a" stroke-width="0.8" />
<line x1="56.50" y1="396.70" x2="56.50" y2="398.80" stroke="#1a1a1a" stroke-width="0.8" />
<line x1="60.00" y1="396.70" x2="60.00" y2="398.00" stroke="#1a1a1a" stroke-width="0.8" />
<line x1="63.00" y1="396.70" x2="63.00" y2="398.00" stroke="#1a1a1a" stroke-width="0.8" />
<line x1="66.00" y1="396.70" x2="66.00" y2="398.00" stroke="#1a1a1a" stroke-width="0.8" />
<line x1="72.40" y1="396.70" x2="72.40" y2="398.80" stroke="#1a1a1a" stroke-width="0.8" />
<line x1="80.00" y1="396.70" x2="80.00" y2="398.00" stroke="#1a1a1a" stroke-width="0.8" />
<line x1="85.00" y1="396.70" x2="85.00" y2="398.00" stroke="#1a1a1a" stroke-width="0.8" />
<line x1="88.00" y1="396.70" x2="88.00" y2="398.00" stroke="#1a1a1a" stroke-width="0.8" />
<line x1="90.90" y1="396.70" x2="90.90" y2="398.80" stroke="#1a1a1a" stroke-width="0.8" />
<line x1="97.00" y1="396.70" x2="97.00" y2="398.00" stroke="#1a1a1a" stroke-width="0.8" />
<line x1="100.00" y1="396.70" x2="100.00" y2="398.00" stroke="#1a1a1a" stroke-width="0.8" />
<line x1="102.00" y1="396.70" x2="102.00" y2="398.00" stroke="#1a1a1a" stroke-width="0.8" />
<line x1="104.00" y1="396.70" x2="104.00" y2="398.00" stroke="#1a1a1a" stroke-width="0.8" />
<text x="68.60" y="419.30" font-size="8.6" text-anchor="middle" fill="#111" stroke="#111" stroke-width="0.25" textLength="16.3" lengthAdjust="spacingAndGlyphs" >Green</text>
<text x="12.40" y="364.60" font-size="8.6" text-anchor="middle" fill="#111" stroke="#111" stroke-width="0.25" textLength="9.5" lengthAdjust="spacingAndGlyphs" transform="rotate(-90 12.40 364.60)" >Red</text>
<circle cx="56.63" cy="347.26" r="0.6" fill="#ff1a1a"/>
<circle cx="60.47" cy="347.50" r="0.6" fill="#ff1a1a"/>
<circle cx="57.06" cy="347.38" r="0.6" fill="#ff1a1a"/>
<circle cx="59.08" cy="342.41" r="0.6" fill="#ff1a1a"/>
<circle cx="61.84" cy="342.15" r="0.6" fill="#ff1a1a"/>
<circle cx="50.31" cy="344.35" r="0.6" fill="#ff1a1a"/>
<circle cx="52.37" cy="343.74" r="0.6" fill="#ff1a1a"/>
<circle cx="59.77" cy="343.40" r="0.6" fill="#ff1a1a"/>
<circle cx="63.31" cy="342.18" r="0.6" fill="#ff1a1a"/>
<circle cx="58.85" cy="344.02" r="0.6" fill="#ff1a1a"/>
<circle cx="48.83" cy="346.46" r="0.6" fill="#ff1a1a"/>
<circle cx="58.85" cy="346.96" r="0.6" fill="#ff1a1a"/>
<circle cx="51.89" cy="348.59" r="0.6" fill="#ff1a1a"/>
<circle cx="61.33" cy="341.12" r="0.6" fill="#ff1a1a"/>
<circle cx="58.96" cy="347.84" r="0.6" fill="#ff1a1a"/>
<circle cx="49.29" cy="347.60" r="0.6" fill="#ff1a1a"/>
<circle cx="47.65" cy="347.11" r="0.6" fill="#ff1a1a"/>
<circle cx="62.98" cy="342.34" r="0.6" fill="#ff1a1a"/>
<circle cx="58.24" cy="339.42" r="0.6" fill="#ff1a1a"/>
<circle cx="53.59" cy="343.87" r="0.6" fill="#ff1a1a"/>
<circle cx="60.10" cy="343.13" r="0.6" fill="#ff1a1a"/>
<circle cx="60.01" cy="343.69" r="0.6" fill="#ff1a1a"/>
<circle cx="53.73" cy="345.65" r="0.6" fill="#ff1a1a"/>
<circle cx="57.58" cy="343.60" r="0.6" fill="#ff1a1a"/>
<circle cx="59.49" cy="341.61" r="0.6" fill="#ff1a1a"/>
<circle cx="57.86" cy="346.12" r="0.6" fill="#ff1a1a"/>
<circle cx="54.02" cy="345.09" r="0.6" fill="#ff1a1a"/>
<circle cx="55.48" cy="340.52" r="0.6" fill="#ff1a1a"/>
<circle cx="63.01" cy="342.21" r="0.6" fill="#ff1a1a"/>
<circle cx="56.99" cy="335.24" r="0.6" fill="#ff1a1a"/>
<circle cx="60.59" cy="341.70" r="0.6" fill="#ff1a1a"/>
<circle cx="51.02" cy="344.53" r="0.6" fill="#ff1a1a"/>
<circle cx="58.15" cy="338.23" r="0.6" fill="#ff1a1a"/>
<circle cx="58.52" cy="339.28" r="0.6" fill="#ff1a1a"/>
<circle cx="59.92" cy="343.90" r="0.6" fill="#ff1a1a"/>
<circle cx="60.60" cy="345.12" r="0.6" fill="#ff1a1a"/>
<circle cx="51.07" cy="343.66" r="0.6" fill="#ff1a1a"/>
<circle cx="57.25" cy="342.51" r="0.6" fill="#ff1a1a"/>
<circle cx="54.40" cy="341.10" r="0.6" fill="#ff1a1a"/>
<circle cx="59.75" cy="350.63" r="0.6" fill="#ff1a1a"/>
<circle cx="60.13" cy="344.36" r="0.6" fill="#ff1a1a"/>
<circle cx="50.51" cy="344.63" r="0.6" fill="#ff1a1a"/>
<circle cx="60.65" cy="342.89" r="0.6" fill="#ff1a1a"/>
<circle cx="57.98" cy="342.39" r="0.6" fill="#ff1a1a"/>
<circle cx="53.65" cy="344.93" r="0.6" fill="#ff1a1a"/>
<circle cx="52.75" cy="342.81" r="0.6" fill="#ff1a1a"/>
<circle cx="55.96" cy="343.00" r="0.6" fill="#ff1a1a"/>
<circle cx="46.47" cy="347.77" r="0.6" fill="#ff1a1a"/>
<circle cx="61.59" cy="343.35" r="0.6" fill="#ff1a1a"/>
<circle cx="52.25" cy="341.21" r="0.6" fill="#ff1a1a"/>
<circle cx="51.26" cy="344.16" r="0.6" fill="#ff1a1a"/>
<circle cx="58.78" cy="343.12" r="0.6" fill="#ff1a1a"/>
<circle cx="53.36" cy="341.03" r="0.6" fill="#ff1a1a"/>
<circle cx="54.58" cy="341.56" r="0.6" fill="#ff1a1a"/>
<circle cx="62.62" cy="343.33" r="0.6" fill="#ff1a1a"/>
<circle cx="55.48" cy="348.93" r="0.6" fill="#ff1a1a"/>
<circle cx="62.48" cy="342.51" r="0.6" fill="#ff1a1a"/>
<circle cx="50.09" cy="348.52" r="0.6" fill="#ff1a1a"/>
<circle cx="53.52" cy="346.32" r="0.6" fill="#ff1a1a"/>
<circle cx="50.32" cy="343.79" r="0.6" fill="#ff1a1a"/>
<circle cx="53.22" cy="341.75" r="0.6" fill="#ff1a1a"/>
<circle cx="50.87" cy="347.72" r="0.6" fill="#ff1a1a"/>
<circle cx="54.05" cy="347.91" r="0.6" fill="#ff1a1a"/>
<circle cx="57.88" cy="343.91" r="0.6" fill="#ff1a1a"/>
<circle cx="57.36" cy="342.60" r="0.6" fill="#ff1a1a"/>
<circle cx="54.79" cy="344.97" r="0.6" fill="#ff1a1a"/>
<circle cx="55.65" cy="341.97" r="0.6" fill="#ff1a1a"/>
<circle cx="58.91" cy="344.28" r="0.6" fill="#ff1a1a"/>
<circle cx="61.37" cy="341.23" r="0.6" fill="#ff1a1a"/>
<circle cx="65.52" cy="342.36" r="0.6" fill="#ff1a1a"/>
<circle cx="60.12" cy="344.72" r="0.6" fill="#ff1a1a"/>
<circle cx="48.91" cy="344.77" r="0.6" fill="#ff1a1a"/>
<circle cx="61.19" cy="347.01" r="0.6" fill="#ff1a1a"/>
<circle cx="55.71" cy="348.62" r="0.6" fill="#ff1a1a"/>
<circle cx="60.16" cy="341.80" r="0.6" fill="#ff1a1a"/>
<circle cx="61.61" cy="343.11" r="0.6" fill="#ff1a1a"/>
<circle cx="50.33" cy="347.17" r="0.6" fill="#ff1a1a"/>
<circle cx="55.95" cy="343.03" r="0.6" fill="#ff1a1a"/>
<circle cx="50.36" cy="343.88" r="0.6" fill="#ff1a1a"/>
<circle cx="60.30" cy="341.71" r="0.6" fill="#ff1a1a"/>
<circle cx="50.16" cy="342.49" r="0.6" fill="#ff1a1a"/>
<circle cx="60.86" cy="347.67" r="0.6" fill="#ff1a1a"/>
<circle cx="50.57" cy="343.57" r="0.6" fill="#ff1a1a"/>
<circle cx="59.03" cy="346.29" r="0.6" fill="#ff1a1a"/>
<circle cx="53.76" cy="345.71" r="0.6" fill="#ff1a1a"/>
<circle cx="62.48" cy="341.02" r="0.6" fill="#ff1a1a"/>
<circle cx="54.36" cy="344.87" r="0.6" fill="#ff1a1a"/>
<circle cx="57.72" cy="343.76" r="0.6" fill="#ff1a1a"/>
<circle cx="50.72" cy="345.23" r="0.6" fill="#ff1a1a"/>
<circle cx="58.69" cy="340.62" r="0.6" fill="#ff1a1a"/>
<circle cx="51.67" cy="343.24" r="0.6" fill="#ff1a1a"/>
<circle cx="62.84" cy="342.14" r="0.6" fill="#ff1a1a"/>
<circle cx="52.24" cy="348.77" r="0.6" fill="#ff1a1a"/>
<circle cx="59.87" cy="342.44" r="0.6" fill="#ff1a1a"/>
<circle cx="57.16" cy="344.51" r="0.6" fill="#ff1a1a"/>
<circle cx="58.34" cy="343.39" r="0.6" fill="#ff1a1a"/>
<circle cx="56.32" cy="342.55" r="0.6" fill="#ff1a1a"/>
<circle cx="56.49" cy="345.71" r="0.6" fill="#ff1a1a"/>
<circle cx="56.27" cy="343.13" r="0.6" fill="#ff1a1a"/>
<circle cx="48.97" cy="346.61" r="0.6" fill="#ff1a1a"/>
<circle cx="55.26" cy="344.35" r="0.6" fill="#ff1a1a"/>
<circle cx="63.25" cy="343.24" r="0.6" fill="#ff1a1a"/>
<circle cx="55.51" cy="345.42" r="0.6" fill="#ff1a1a"/>
<circle cx="48.88" cy="345.03" r="0.6" fill="#ff1a1a"/>
<circle cx="55.39" cy="345.73" r="0.6" fill="#ff1a1a"/>
<circle cx="58.11" cy="346.58" r="0.6" fill="#ff1a1a"/>
<circle cx="55.88" cy="343.20" r="0.6" fill="#ff1a1a"/>
<circle cx="55.39" cy="340.37" r="0.6" fill="#ff1a1a"/>
<circle cx="52.02" cy="344.18" r="0.6" fill="#ff1a1a"/>
<circle cx="60.47" cy="343.93" r="0.6" fill="#ff1a1a"/>
<circle cx="51.22" cy="347.39" r="0.6" fill="#ff1a1a"/>
<circle cx="58.10" cy="344.42" r="0.6" fill="#ff1a1a"/>
<circle cx="60.36" cy="343.69" r="0.6" fill="#ff1a1a"/>
<circle cx="60.54" cy="344.49" r="0.6" fill="#ff1a1a"/>
<circle cx="52.75" cy="345.87" r="0.6" fill="#ff1a1a"/>
<circle cx="60.17" cy="348.94" r="0.6" fill="#ff1a1a"/>
<circle cx="54.03" cy="344.83" r="0.6" fill="#ff1a1a"/>
<circle cx="49.51" cy="343.52" r="0.6" fill="#ff1a1a"/>
<circle cx="47.67" cy="346.44" r="0.6" fill="#ff1a1a"/>
<circle cx="58.23" cy="340.37" r="0.6" fill="#ff1a1a"/>
<circle cx="59.81" cy="343.89" r="0.6" fill="#ff1a1a"/>
<circle cx="53.40" cy="344.70" r="0.6" fill="#ff1a1a"/>
<circle cx="49.99" cy="345.54" r="0.6" fill="#ff1a1a"/>
<circle cx="54.99" cy="339.98" r="0.6" fill="#ff1a1a"/>
<circle cx="55.29" cy="342.16" r="0.6" fill="#ff1a1a"/>
<circle cx="51.87" cy="343.11" r="0.6" fill="#ff1a1a"/>
<circle cx="55.63" cy="342.98" r="0.6" fill="#ff1a1a"/>
<circle cx="59.35" cy="347.32" r="0.6" fill="#ff1a1a"/>
<circle cx="54.96" cy="342.59" r="0.6" fill="#ff1a1a"/>
<circle cx="55.65" cy="339.76" r="0.6" fill="#ff1a1a"/>
<circle cx="52.69" cy="342.61" r="0.6" fill="#ff1a1a"/>
<circle cx="58.59" cy="344.38" r="0.6" fill="#ff1a1a"/>
<circle cx="55.44" cy="338.25" r="0.6" fill="#ff1a1a"/>
<circle cx="56.47" cy="344.78" r="0.6" fill="#ff1a1a"/>
<circle cx="51.42" cy="350.36" r="0.6" fill="#ff1a1a"/>
<circle cx="58.95" cy="349.69" r="0.6" fill="#ff1a1a"/>
<circle cx="56.38" cy="339.20" r="0.6" fill="#ff1a1a"/>
<circle cx="61.62" cy="342.84" r="0.6" fill="#ff1a1a"/>
<circle cx="57.69" cy="346.58" r="0.6" fill="#ff1a1a"/>
<circle cx="51.66" cy="347.55" r="0.6" fill="#ff1a1a"/>
<circle cx="52.66" cy="348.40" r="0.6" fill="#ff1a1a"/>
<circle cx="58.60" cy="344.06" r="0.6" fill="#ff1a1a"/>
<circle cx="56.54" cy="345.74" r="0.6" fill="#ff1a1a"/>
<circle cx="54.66" cy="339.11" r="0.6" fill="#ff1a1a"/>
<circle cx="59.83" cy="345.14" r="0.6" fill="#ff1a1a"/>
<circle cx="58.77" cy="343.77" r="0.6" fill="#ff1a1a"/>
<circle cx="60.15" cy="346.59" r="0.6" fill="#ff1a1a"/>
<circle cx="58.78" cy="339.28" r="0.6" fill="#ff1a1a"/>
<circle cx="55.73" cy="347.01" r="0.6" fill="#ff1a1a"/>
<circle cx="57.28" cy="347.88" r="0.6" fill="#ff1a1a"/>
<circle cx="57.60" cy="348.41" r="0.6" fill="#ff1a1a"/>
<circle cx="51.06" cy="345.93" r="0.6" fill="#ff1a1a"/>
<circle cx="61.07" cy="338.83" r="0.6" fill="#ff1a1a"/>
<circle cx="55.96" cy="348.52" r="0.6" fill="#ff1a1a"/>
<circle cx="55.80" cy="344.69" r="0.6" fill="#ff1a1a"/>
<circle cx="57.02" cy="342.65" r="0.6" fill="#ff1a1a"/>
<circle cx="55.43" cy="348.53" r="0.6" fill="#ff1a1a"/>
<circle cx="57.65" cy="341.78" r="0.6" fill="#ff1a1a"/>
<circle cx="54.44" cy="341.98" r="0.6" fill="#ff1a1a"/>
<circle cx="60.81" cy="343.61" r="0.6" fill="#ff1a1a"/>
<circle cx="57.38" cy="345.58" r="0.6" fill="#ff1a1a"/>
<circle cx="51.52" cy="347.30" r="0.6" fill="#ff1a1a"/>
<circle cx="56.69" cy="345.95" r="0.6" fill="#ff1a1a"/>
<circle cx="52.79" cy="344.03" r="0.6" fill="#ff1a1a"/>
<circle cx="50.06" cy="344.04" r="0.6" fill="#ff1a1a"/>
<circle cx="53.95" cy="350.01" r="0.6" fill="#ff1a1a"/>
<circle cx="56.85" cy="343.92" r="0.6" fill="#ff1a1a"/>
<circle cx="57.63" cy="344.42" r="0.6" fill="#ff1a1a"/>
<circle cx="52.52" cy="345.12" r="0.6" fill="#ff1a1a"/>
<circle cx="52.95" cy="337.23" r="0.6" fill="#ff1a1a"/>
<circle cx="52.93" cy="345.52" r="0.6" fill="#ff1a1a"/>
<circle cx="58.55" cy="349.47" r="0.6" fill="#ff1a1a"/>
<circle cx="57.97" cy="338.82" r="0.6" fill="#ff1a1a"/>
<circle cx="60.10" cy="343.38" r="0.6" fill="#ff1a1a"/>
<circle cx="55.25" cy="342.01" r="0.6" fill="#ff1a1a"/>
<circle cx="60.26" cy="346.51" r="0.6" fill="#ff1a1a"/>
<circle cx="52.94" cy="347.31" r="0.6" fill="#ff1a1a"/>
<circle cx="52.98" cy="344.08" r="0.6" fill="#ff1a1a"/>
<circle cx="62.32" cy="343.52" r="0.6" fill="#ff1a1a"/>
<circle cx="55.34" cy="339.89" r="0.6" fill="#ff1a1a"/>
<circle cx="54.58" cy="346.68" r="0.6" fill="#ff1a1a"/>
<circle cx="52.80" cy="343.11" r="0.6" fill="#ff1a1a"/>
<circle cx="55.02" cy="341.25" r="0.6" fill="#ff1a1a"/>
<circle cx="48.06" cy="345.02" r="0.6" fill="#ff1a1a"/>
<circle cx="58.04" cy="345.05" r="0.6" fill="#ff1a1a"/>
<circle cx="48.06" cy="345.19" r="0.6" fill="#ff1a1a"/>
<circle cx="62.23" cy="340.26" r="0.6" fill="#ff1a1a"/>
<circle cx="57.36" cy="346.16" r="0.6" fill="#ff1a1a"/>
<circle cx="56.24" cy="346.11" r="0.6" fill="#ff1a1a"/>
<circle cx="57.06" cy="345.41" r="0.6" fill="#ff1a1a"/>
<circle cx="57.14" cy="341.06" r="0.6" fill="#ff1a1a"/>
<circle cx="61.06" cy="342.53" r="0.6" fill="#ff1a1a"/>
<circle cx="55.03" cy="338.30" r="0.6" fill="#ff1a1a"/>
<circle cx="52.98" cy="344.33" r="0.6" fill="#ff1a1a"/>
<circle cx="52.59" cy="346.56" r="0.6" fill="#ff1a1a"/>
<circle cx="59.00" cy="346.48" r="0.6" fill="#ff1a1a"/>
<circle cx="55.83" cy="341.96" r="0.6" fill="#ff1a1a"/>
<circle cx="57.62" cy="344.10" r="0.6" fill="#ff1a1a"/>
<circle cx="54.35" cy="345.94" r="0.6" fill="#ff1a1a"/>
<circle cx="46.03" cy="347.84" r="0.6" fill="#ff1a1a"/>
<circle cx="56.71" cy="346.57" r="0.6" fill="#ff1a1a"/>
<circle cx="53.73" cy="343.79" r="0.6" fill="#ff1a1a"/>
<circle cx="62.32" cy="337.43" r="0.6" fill="#ff1a1a"/>
<circle cx="59.74" cy="343.68" r="0.6" fill="#ff1a1a"/>
<circle cx="55.97" cy="343.78" r="0.6" fill="#ff1a1a"/>
<circle cx="48.79" cy="344.12" r="0.6" fill="#ff1a1a"/>
<circle cx="58.14" cy="343.30" r="0.6" fill="#ff1a1a"/>
<circle cx="60.20" cy="341.77" r="0.6" fill="#ff1a1a"/>
<circle cx="55.20" cy="342.52" r="0.6" fill="#ff1a1a"/>
<circle cx="60.25" cy="344.27" r="0.6" fill="#ff1a1a"/>
<circle cx="58.73" cy="343.45" r="0.6" fill="#ff1a1a"/>
<circle cx="66.72" cy="341.14" r="0.6" fill="#ff1a1a"/>
<circle cx="51.67" cy="345.71" r="0.6" fill="#ff1a1a"/>
<circle cx="56.59" cy="343.92" r="0.6" fill="#ff1a1a"/>
<circle cx="53.53" cy="344.00" r="0.6" fill="#ff1a1a"/>
<circle cx="54.99" cy="341.38" r="0.6" fill="#ff1a1a"/>
<circle cx="52.54" cy="343.24" r="0.6" fill="#ff1a1a"/>
<circle cx="60.18" cy="339.81" r="0.6" fill="#ff1a1a"/>
<circle cx="60.90" cy="343.76" r="0.6" fill="#ff1a1a"/>
<circle cx="58.93" cy="349.65" r="0.6" fill="#ff1a1a"/>
<circle cx="61.21" cy="340.69" r="0.6" fill="#ff1a1a"/>
<circle cx="50.74" cy="340.39" r="0.6" fill="#ff1a1a"/>
<circle cx="56.30" cy="346.41" r="0.6" fill="#ff1a1a"/>
<circle cx="60.20" cy="341.32" r="0.6" fill="#ff1a1a"/>
<circle cx="54.84" cy="349.47" r="0.6" fill="#ff1a1a"/>
<circle cx="55.41" cy="344.03" r="0.6" fill="#ff1a1a"/>
<circle cx="61.39" cy="341.45" r="0.6" fill="#ff1a1a"/>
<circle cx="55.39" cy="343.28" r="0.6" fill="#ff1a1a"/>
<circle cx="57.40" cy="344.07" r="0.6" fill="#ff1a1a"/>
<circle cx="55.71" cy="343.58" r="0.6" fill="#ff1a1a"/>
<circle cx="55.45" cy="346.67" r="0.6" fill="#ff1a1a"/>
<circle cx="53.35" cy="345.98" r="0.6" fill="#ff1a1a"/>
<circle cx="60.05" cy="345.24" r="0.6" fill="#ff1a1a"/>
<circle cx="59.64" cy="344.58" r="0.6" fill="#ff1a1a"/>
<circle cx="55.67" cy="345.44" r="0.6" fill="#ff1a1a"/>
<circle cx="61.60" cy="345.41" r="0.6" fill="#ff1a1a"/>
<circle cx="60.21" cy="344.79" r="0.6" fill="#ff1a1a"/>
<circle cx="48.75" cy="341.81" r="0.6" fill="#ff1a1a"/>
<circle cx="49.95" cy="342.57" r="0.6" fill="#ff1a1a"/>
<circle cx="56.93" cy="343.10" r="0.6" fill="#ff1a1a"/>
<circle cx="62.88" cy="344.35" r="0.6" fill="#ff1a1a"/>
<circle cx="55.84" cy="347.28" r="0.6" fill="#ff1a1a"/>
<circle cx="55.10" cy="345.86" r="0.6" fill="#ff1a1a"/>
<circle cx="52.74" cy="346.82" r="0.6" fill="#ff1a1a"/>
<circle cx="56.71" cy="342.42" r="0.6" fill="#ff1a1a"/>
<circle cx="60.52" cy="345.45" r="0.6" fill="#ff1a1a"/>
<circle cx="58.03" cy="341.74" r="0.6" fill="#ff1a1a"/>
<circle cx="54.81" cy="349.80" r="0.6" fill="#ff1a1a"/>
<circle cx="56.19" cy="343.64" r="0.6" fill="#ff1a1a"/>
<circle cx="60.25" cy="345.65" r="0.6" fill="#ff1a1a"/>
<circle cx="52.49" cy="346.82" r="0.6" fill="#ff1a1a"/>
<circle cx="54.29" cy="345.32" r="0.6" fill="#ff1a1a"/>
<circle cx="55.39" cy="338.84" r="0.6" fill="#ff1a1a"/>
<circle cx="52.92" cy="343.48" r="0.6" fill="#ff1a1a"/>
<circle cx="54.35" cy="342.53" r="0.6" fill="#ff1a1a"/>
<circle cx="60.35" cy="345.62" r="0.6" fill="#ff1a1a"/>
<circle cx="47.91" cy="343.42" r="0.6" fill="#ff1a1a"/>
<circle cx="54.18" cy="345.35" r="0.6" fill="#ff1a1a"/>
<circle cx="54.52" cy="344.20" r="0.6" fill="#ff1a1a"/>
<circle cx="55.61" cy="351.44" r="0.6" fill="#ff1a1a"/>
<circle cx="53.57" cy="346.57" r="0.6" fill="#ff1a1a"/>
<circle cx="57.39" cy="343.68" r="0.6" fill="#ff1a1a"/>
<circle cx="55.63" cy="340.05" r="0.6" fill="#ff1a1a"/>
<circle cx="57.44" cy="343.24" r="0.6" fill="#ff1a1a"/>
<circle cx="52.35" cy="345.82" r="0.6" fill="#ff1a1a"/>
<circle cx="58.18" cy="343.92" r="0.6" fill="#ff1a1a"/>
<circle cx="56.91" cy="344.85" r="0.6" fill="#ff1a1a"/>
<circle cx="53.16" cy="340.87" r="0.6" fill="#ff1a1a"/>
<circle cx="50.89" cy="348.50" r="0.6" fill="#ff1a1a"/>
<circle cx="58.60" cy="339.30" r="0.6" fill="#ff1a1a"/>
<circle cx="57.32" cy="346.38" r="0.6" fill="#ff1a1a"/>
<circle cx="56.61" cy="344.77" r="0.6" fill="#ff1a1a"/>
<circle cx="60.77" cy="342.98" r="0.6" fill="#ff1a1a"/>
<circle cx="52.72" cy="342.08" r="0.6" fill="#ff1a1a"/>
<circle cx="55.78" cy="344.77" r="0.6" fill="#ff1a1a"/>
<circle cx="55.22" cy="347.08" r="0.6" fill="#ff1a1a"/>
<circle cx="58.76" cy="344.41" r="0.6" fill="#ff1a1a"/>
<circle cx="56.82" cy="343.46" r="0.6" fill="#ff1a1a"/>
<circle cx="52.15" cy="343.47" r="0.6" fill="#ff1a1a"/>
<circle cx="53.73" cy="341.28" r="0.6" fill="#ff1a1a"/>
<circle cx="44.99" cy="352.05" r="0.6" fill="#ff1a1a"/>
<circle cx="56.00" cy="341.48" r="0.6" fill="#ff1a1a"/>
<circle cx="59.00" cy="339.88" r="0.6" fill="#ff1a1a"/>
<circle cx="59.89" cy="343.14" r="0.6" fill="#ff1a1a"/>
<circle cx="57.76" cy="346.87" r="0.6" fill="#ff1a1a"/>
<circle cx="52.90" cy="342.54" r="0.6" fill="#ff1a1a"/>
<circle cx="59.91" cy="345.25" r="0.6" fill="#ff1a1a"/>
<circle cx="57.06" cy="344.30" r="0.6" fill="#ff1a1a"/>
<circle cx="54.24" cy="342.78" r="0.6" fill="#ff1a1a"/>
<circle cx="62.19" cy="339.87" r="0.6" fill="#ff1a1a"/>
<circle cx="55.59" cy="343.02" r="0.6" fill="#ff1a1a"/>
<circle cx="57.07" cy="347.13" r="0.6" fill="#ff1a1a"/>
<circle cx="51.57" cy="344.01" r="0.6" fill="#ff1a1a"/>
<circle cx="58.22" cy="343.80" r="0.6" fill="#ff1a1a"/>
<circle cx="59.14" cy="342.36" r="0.6" fill="#ff1a1a"/>
<circle cx="46.95" cy="345.72" r="0.6" fill="#ff1a1a"/>
<circle cx="56.80" cy="346.79" r="0.6" fill="#ff1a1a"/>
<circle cx="53.74" cy="343.07" r="0.6" fill="#ff1a1a"/>
<circle cx="50.37" cy="347.59" r="0.6" fill="#ff1a1a"/>
<circle cx="56.88" cy="339.93" r="0.6" fill="#ff1a1a"/>
<circle cx="55.90" cy="343.87" r="0.6" fill="#ff1a1a"/>
<circle cx="60.81" cy="344.86" r="0.6" fill="#ff1a1a"/>
<circle cx="55.51" cy="343.49" r="0.6" fill="#ff1a1a"/>
<circle cx="51.94" cy="346.94" r="0.6" fill="#ff1a1a"/>
<circle cx="55.42" cy="344.83" r="0.6" fill="#ff1a1a"/>
<circle cx="50.68" cy="344.40" r="0.6" fill="#ff1a1a"/>
<circle cx="53.43" cy="344.15" r="0.6" fill="#ff1a1a"/>
<circle cx="55.54" cy="344.99" r="0.6" fill="#ff1a1a"/>
<circle cx="53.08" cy="344.48" r="0.6" fill="#ff1a1a"/>
<circle cx="47.43" cy="346.17" r="0.6" fill="#ff1a1a"/>
<circle cx="52.85" cy="345.32" r="0.6" fill="#ff1a1a"/>
<circle cx="52.49" cy="340.88" r="0.6" fill="#ff1a1a"/>
<circle cx="56.00" cy="347.56" r="0.6" fill="#ff1a1a"/>
<circle cx="55.61" cy="342.77" r="0.6" fill="#ff1a1a"/>
<circle cx="54.56" cy="342.40" r="0.6" fill="#ff1a1a"/>
<circle cx="51.90" cy="346.98" r="0.6" fill="#ff1a1a"/>
<circle cx="58.62" cy="343.47" r="0.6" fill="#ff1a1a"/>
<circle cx="55.46" cy="353.05" r="0.6" fill="#ff1a1a"/>
<circle cx="58.48" cy="344.73" r="0.6" fill="#ff1a1a"/>
<circle cx="53.41" cy="342.04" r="0.6" fill="#ff1a1a"/>
<circle cx="56.09" cy="342.59" r="0.6" fill="#ff1a1a"/>
<circle cx="56.51" cy="342.08" r="0.6" fill="#ff1a1a"/>
<circle cx="59.19" cy="346.41" r="0.6" fill="#ff1a1a"/>
<circle cx="56.24" cy="346.81" r="0.6" fill="#ff1a1a"/>
<circle cx="60.42" cy="339.78" r="0.6" fill="#ff1a1a"/>
<circle cx="53.06" cy="341.78" r="0.6" fill="#ff1a1a"/>
<circle cx="59.44" cy="343.77" r="0.6" fill="#ff1a1a"/>
<circle cx="55.81" cy="339.79" r="0.6" fill="#ff1a1a"/>
<circle cx="60.06" cy="343.51" r="0.6" fill="#ff1a1a"/>
<circle cx="53.24" cy="341.55" r="0.6" fill="#ff1a1a"/>
<circle cx="42.75" cy="339.99" r="0.6" fill="#ff1a1a"/>
<circle cx="43.84" cy="349.11" r="0.6" fill="#ff1a1a"/>
<circle cx="63.15" cy="342.94" r="0.6" fill="#ff1a1a"/>
<circle cx="53.08" cy="338.11" r="0.6" fill="#ff1a1a"/>
<circle cx="56.19" cy="344.83" r="0.6" fill="#ff1a1a"/>
<circle cx="54.54" cy="342.14" r="0.6" fill="#ff1a1a"/>
<circle cx="54.52" cy="342.99" r="0.6" fill="#ff1a1a"/>
<circle cx="50.22" cy="350.58" r="0.6" fill="#ff1a1a"/>
<circle cx="55.78" cy="348.65" r="0.6" fill="#ff1a1a"/>
<circle cx="44.20" cy="346.60" r="0.6" fill="#ff1a1a"/>
<circle cx="51.02" cy="353.06" r="0.6" fill="#ff1a1a"/>
<circle cx="57.48" cy="345.59" r="0.6" fill="#ff1a1a"/>
<circle cx="54.61" cy="348.19" r="0.6" fill="#ff1a1a"/>
<circle cx="51.20" cy="341.69" r="0.6" fill="#ff1a1a"/>
<circle cx="49.90" cy="347.85" r="0.6" fill="#ff1a1a"/>
<circle cx="56.40" cy="337.53" r="0.6" fill="#ff1a1a"/>
<circle cx="42.07" cy="350.17" r="0.6" fill="#ff1a1a"/>
<circle cx="56.21" cy="350.47" r="0.6" fill="#ff1a1a"/>
<circle cx="60.11" cy="344.61" r="0.6" fill="#ff1a1a"/>
<circle cx="56.27" cy="346.90" r="0.6" fill="#ff1a1a"/>
<circle cx="47.79" cy="338.41" r="0.6" fill="#ff1a1a"/>
<circle cx="63.23" cy="347.11" r="0.6" fill="#ff1a1a"/>
<circle cx="49.94" cy="349.15" r="0.6" fill="#ff1a1a"/>
<circle cx="56.12" cy="350.82" r="0.6" fill="#ff1a1a"/>
<circle cx="66.41" cy="353.79" r="0.6" fill="#ff1a1a"/>
<circle cx="58.42" cy="351.60" r="0.6" fill="#ff1a1a"/>
<circle cx="47.58" cy="340.96" r="0.6" fill="#ff1a1a"/>
<circle cx="46.11" cy="347.76" r="0.6" fill="#ff1a1a"/>
<circle cx="59.14" cy="344.43" r="0.6" fill="#ff1a1a"/>
<circle cx="57.29" cy="349.85" r="0.6" fill="#ff1a1a"/>
<circle cx="54.06" cy="340.82" r="0.6" fill="#ff1a1a"/>
<circle cx="52.80" cy="347.48" r="0.6" fill="#ff1a1a"/>
<circle cx="63.06" cy="350.49" r="0.6" fill="#ff1a1a"/>
<circle cx="56.58" cy="351.39" r="0.6" fill="#ff1a1a"/>
<circle cx="55.87" cy="350.24" r="0.6" fill="#ff1a1a"/>
<circle cx="61.76" cy="355.64" r="0.6" fill="#ff1a1a"/>
<circle cx="48.51" cy="342.50" r="0.6" fill="#ff1a1a"/>
<circle cx="57.70" cy="355.23" r="0.6" fill="#ff1a1a"/>
<circle cx="51.20" cy="345.32" r="0.6" fill="#ff1a1a"/>
<circle cx="63.69" cy="356.38" r="0.6" fill="#ff1a1a"/>
<circle cx="52.05" cy="350.90" r="0.6" fill="#ff1a1a"/>
<circle cx="68.00" cy="350.67" r="0.6" fill="#ff1a1a"/>
<circle cx="55.83" cy="352.39" r="0.6" fill="#ff1a1a"/>
<circle cx="52.91" cy="340.03" r="0.6" fill="#ff1a1a"/>
<circle cx="87.95" cy="378.34" r="0.6" fill="#1ef01e"/>
<circle cx="84.20" cy="376.90" r="0.6" fill="#1ef01e"/>
<circle cx="90.80" cy="376.16" r="0.6" fill="#1ef01e"/>
<circle cx="88.63" cy="377.35" r="0.6" fill="#1ef01e"/>
<circle cx="91.54" cy="376.77" r="0.6" fill="#1ef01e"/>
<circle cx="89.11" cy="380.34" r="0.6" fill="#1ef01e"/>
<circle cx="85.18" cy="379.15" r="0.6" fill="#1ef01e"/>
<circle cx="85.82" cy="379.69" r="0.6" fill="#1ef01e"/>
<circle cx="89.41" cy="378.55" r="0.6" fill="#1ef01e"/>
<circle cx="87.64" cy="380.87" r="0.6" fill="#1ef01e"/>
<circle cx="86.15" cy="376.36" r="0.6" fill="#1ef01e"/>
<circle cx="91.37" cy="372.19" r="0.6" fill="#1ef01e"/>
<circle cx="94.56" cy="371.29" r="0.6" fill="#1ef01e"/>
<circle cx="78.80" cy="380.59" r="0.6" fill="#1ef01e"/>
<circle cx="90.12" cy="375.09" r="0.6" fill="#1ef01e"/>
<circle cx="91.18" cy="379.72" r="0.6" fill="#1ef01e"/>
<circle cx="83.01" cy="380.33" r="0.6" fill="#1ef01e"/>
<circle cx="89.40" cy="378.82" r="0.6" fill="#1ef01e"/>
<circle cx="81.43" cy="376.44" r="0.6" fill="#1ef01e"/>
<circle cx="82.38" cy="378.44" r="0.6" fill="#1ef01e"/>
<circle cx="86.78" cy="379.03" r="0.6" fill="#1ef01e"/>
<circle cx="81.69" cy="378.36" r="0.6" fill="#1ef01e"/>
<circle cx="83.45" cy="380.94" r="0.6" fill="#1ef01e"/>
<circle cx="89.07" cy="379.22" r="0.6" fill="#1ef01e"/>
<circle cx="92.12" cy="379.39" r="0.6" fill="#1ef01e"/>
<circle cx="85.27" cy="383.05" r="0.6" fill="#1ef01e"/>
<circle cx="81.05" cy="383.08" r="0.6" fill="#1ef01e"/>
<circle cx="84.14" cy="375.21" r="0.6" fill="#1ef01e"/>
<circle cx="96.11" cy="380.66" r="0.6" fill="#1ef01e"/>
<circle cx="90.45" cy="373.15" r="0.6" fill="#1ef01e"/>
<circle cx="75.00" cy="386.27" r="0.6" fill="#1ef01e"/>
<circle cx="87.02" cy="376.93" r="0.6" fill="#1ef01e"/>
<circle cx="80.56" cy="376.65" r="0.6" fill="#1ef01e"/>
<circle cx="84.23" cy="374.02" r="0.6" fill="#1ef01e"/>
<circle cx="78.51" cy="381.90" r="0.6" fill="#1ef01e"/>
<circle cx="93.73" cy="377.83" r="0.6" fill="#1ef01e"/>
<circle cx="92.63" cy="380.01" r="0.6" fill="#1ef01e"/>
<circle cx="89.74" cy="376.09" r="0.6" fill="#1ef01e"/>
<circle cx="87.81" cy="378.89" r="0.6" fill="#1ef01e"/>
<circle cx="83.27" cy="380.37" r="0.6" fill="#1ef01e"/>
<circle cx="84.37" cy="376.16" r="0.6" fill="#1ef01e"/>
<circle cx="78.67" cy="382.59" r="0.6" fill="#1ef01e"/>
<circle cx="90.56" cy="379.86" r="0.6" fill="#1ef01e"/>
<circle cx="92.85" cy="377.31" r="0.6" fill="#1ef01e"/>
<circle cx="86.51" cy="377.52" r="0.6" fill="#1ef01e"/>
<circle cx="76.99" cy="374.90" r="0.6" fill="#1ef01e"/>
<circle cx="85.39" cy="381.35" r="0.6" fill="#1ef01e"/>
<circle cx="88.16" cy="383.76" r="0.6" fill="#1ef01e"/>
<circle cx="94.93" cy="377.75" r="0.6" fill="#1ef01e"/>
<circle cx="87.45" cy="383.46" r="0.6" fill="#1ef01e"/>
<circle cx="92.49" cy="372.85" r="0.6" fill="#1ef01e"/>
<circle cx="89.84" cy="380.98" r="0.6" fill="#1ef01e"/>
<circle cx="84.02" cy="385.52" r="0.6" fill="#1ef01e"/>
<circle cx="86.05" cy="380.97" r="0.6" fill="#1ef01e"/>
<circle cx="84.74" cy="380.57" r="0.6" fill="#1ef01e"/>
<circle cx="89.28" cy="382.24" r="0.6" fill="#1ef01e"/>
<circle cx="85.38" cy="381.22" r="0.6" fill="#1ef01e"/>
<circle cx="89.63" cy="376.84" r="0.6" fill="#1ef01e"/>
<circle cx="86.95" cy="374.77" r="0.6" fill="#1ef01e"/>
<circle cx="78.83" cy="381.10" r="0.6" fill="#1ef01e"/>
<circle cx="76.74" cy="380.80" r="0.6" fill="#1ef01e"/>
<circle cx="84.12" cy="378.06" r="0.6" fill="#1ef01e"/>
<circle cx="81.86" cy="378.37" r="0.6" fill="#1ef01e"/>
<circle cx="88.30" cy="377.65" r="0.6" fill="#1ef01e"/>
<circle cx="74.37" cy="386.72" r="0.6" fill="#1ef01e"/>
<circle cx="94.52" cy="377.43" r="0.6" fill="#1ef01e"/>
<circle cx="91.12" cy="374.76" r="0.6" fill="#1ef01e"/>
<circle cx="95.23" cy="376.95" r="0.6" fill="#1ef01e"/>
<circle cx="87.06" cy="382.29" r="0.6" fill="#1ef01e"/>
<circle cx="87.28" cy="376.51" r="0.6" fill="#1ef01e"/>
<circle cx="86.92" cy="380.34" r="0.6" fill="#1ef01e"/>
<circle cx="85.40" cy="380.70" r="0.6" fill="#1ef01e"/>
<circle cx="81.15" cy="376.46" r="0.6" fill="#1ef01e"/>
<circle cx="92.63" cy="377.58" r="0.6" fill="#1ef01e"/>
<circle cx="86.85" cy="374.19" r="0.6" fill="#1ef01e"/>
<circle cx="87.00" cy="382.37" r="0.6" fill="#1ef01e"/>
<circle cx="82.58" cy="377.71" r="0.6" fill="#1ef01e"/>
<circle cx="97.53" cy="374.17" r="0.6" fill="#1ef01e"/>
<circle cx="88.77" cy="377.79" r="0.6" fill="#1ef01e"/>
<circle cx="93.27" cy="376.69" r="0.6" fill="#1ef01e"/>
<circle cx="82.37" cy="379.89" r="0.6" fill="#1ef01e"/>
<circle cx="88.53" cy="383.20" r="0.6" fill="#1ef01e"/>
<circle cx="86.38" cy="378.72" r="0.6" fill="#1ef01e"/>
<circle cx="93.32" cy="379.24" r="0.6" fill="#1ef01e"/>
<circle cx="83.97" cy="381.01" r="0.6" fill="#1ef01e"/>
<circle cx="90.35" cy="376.60" r="0.6" fill="#1ef01e"/>
<circle cx="91.47" cy="378.27" r="0.6" fill="#1ef01e"/>
<circle cx="81.02" cy="383.84" r="0.6" fill="#1ef01e"/>
<circle cx="86.07" cy="378.13" r="0.6" fill="#1ef01e"/>
<circle cx="75.85" cy="384.94" r="0.6" fill="#1ef01e"/>
<circle cx="75.83" cy="384.37" r="0.6" fill="#1ef01e"/>
<circle cx="92.66" cy="373.35" r="0.6" fill="#1ef01e"/>
<circle cx="84.44" cy="378.91" r="0.6" fill="#1ef01e"/>
<circle cx="90.51" cy="377.07" r="0.6" fill="#1ef01e"/>
<circle cx="85.38" cy="382.77" r="0.6" fill="#1ef01e"/>
<circle cx="77.33" cy="382.12" r="0.6" fill="#1ef01e"/>
<circle cx="74.53" cy="382.86" r="0.6" fill="#1ef01e"/>
<circle cx="86.46" cy="375.13" r="0.6" fill="#1ef01e"/>
<circle cx="86.66" cy="383.04" r="0.6" fill="#1ef01e"/>
<circle cx="77.67" cy="383.02" r="0.6" fill="#1ef01e"/>
<circle cx="86.76" cy="383.98" r="0.6" fill="#1ef01e"/>
<circle cx="84.92" cy="378.08" r="0.6" fill="#1ef01e"/>
<circle cx="91.30" cy="375.74" r="0.6" fill="#1ef01e"/>
<circle cx="82.32" cy="381.91" r="0.6" fill="#1ef01e"/>
<circle cx="80.57" cy="385.09" r="0.6" fill="#1ef01e"/>
<circle cx="90.83" cy="375.68" r="0.6" fill="#1ef01e"/>
<circle cx="80.42" cy="381.18" r="0.6" fill="#1ef01e"/>
<circle cx="95.55" cy="379.23" r="0.6" fill="#1ef01e"/>
<circle cx="85.38" cy="379.93" r="0.6" fill="#1ef01e"/>
<circle cx="87.64" cy="380.99" r="0.6" fill="#1ef01e"/>
<circle cx="86.37" cy="377.43" r="0.6" fill="#1ef01e"/>
<circle cx="94.30" cy="380.77" r="0.6" fill="#1ef01e"/>
<circle cx="84.57" cy="386.15" r="0.6" fill="#1ef01e"/>
<circle cx="88.54" cy="378.28" r="0.6" fill="#1ef01e"/>
<circle cx="88.58" cy="380.93" r="0.6" fill="#1ef01e"/>
<circle cx="81.64" cy="380.67" r="0.6" fill="#1ef01e"/>
<circle cx="97.70" cy="372.58" r="0.6" fill="#1ef01e"/>
<circle cx="93.09" cy="370.26" r="0.6" fill="#1ef01e"/>
<circle cx="83.96" cy="379.54" r="0.6" fill="#1ef01e"/>
<circle cx="84.69" cy="379.55" r="0.6" fill="#1ef01e"/>
<circle cx="74.27" cy="389.51" r="0.6" fill="#1ef01e"/>
<circle cx="81.15" cy="384.15" r="0.6" fill="#1ef01e"/>
<circle cx="93.45" cy="374.65" r="0.6" fill="#1ef01e"/>
<circle cx="82.61" cy="383.14" r="0.6" fill="#1ef01e"/>
<circle cx="94.00" cy="379.24" r="0.6" fill="#1ef01e"/>
<circle cx="82.84" cy="378.72" r="0.6" fill="#1ef01e"/>
<circle cx="78.02" cy="385.18" r="0.6" fill="#1ef01e"/>
<circle cx="89.96" cy="378.18" r="0.6" fill="#1ef01e"/>
<circle cx="78.67" cy="378.99" r="0.6" fill="#1ef01e"/>
<circle cx="78.94" cy="381.45" r="0.6" fill="#1ef01e"/>
<circle cx="93.03" cy="376.44" r="0.6" fill="#1ef01e"/>
<circle cx="84.28" cy="379.72" r="0.6" fill="#1ef01e"/>
<circle cx="82.30" cy="380.58" r="0.6" fill="#1ef01e"/>
<circle cx="82.74" cy="384.94" r="0.6" fill="#1ef01e"/>
<circle cx="86.58" cy="378.69" r="0.6" fill="#1ef01e"/>
<circle cx="93.31" cy="378.17" r="0.6" fill="#1ef01e"/>
<circle cx="92.03" cy="374.79" r="0.6" fill="#1ef01e"/>
<circle cx="83.19" cy="384.54" r="0.6" fill="#1ef01e"/>
<circle cx="87.68" cy="378.03" r="0.6" fill="#1ef01e"/>
<circle cx="91.90" cy="377.40" r="0.6" fill="#1ef01e"/>
<circle cx="83.62" cy="377.03" r="0.6" fill="#1ef01e"/>
<circle cx="83.41" cy="380.72" r="0.6" fill="#1ef01e"/>
<circle cx="87.35" cy="379.46" r="0.6" fill="#1ef01e"/>
<circle cx="82.57" cy="381.33" r="0.6" fill="#1ef01e"/>
<circle cx="80.70" cy="380.14" r="0.6" fill="#1ef01e"/>
<circle cx="84.21" cy="384.50" r="0.6" fill="#1ef01e"/>
<circle cx="84.35" cy="382.78" r="0.6" fill="#1ef01e"/>
<circle cx="79.11" cy="383.60" r="0.6" fill="#1ef01e"/>
<circle cx="94.43" cy="375.02" r="0.6" fill="#1ef01e"/>
<circle cx="94.84" cy="375.41" r="0.6" fill="#1ef01e"/>
<circle cx="78.85" cy="381.91" r="0.6" fill="#1ef01e"/>
<circle cx="87.21" cy="378.90" r="0.6" fill="#1ef01e"/>
<circle cx="88.90" cy="378.18" r="0.6" fill="#1ef01e"/>
<circle cx="93.46" cy="378.95" r="0.6" fill="#1ef01e"/>
<circle cx="85.70" cy="376.56" r="0.6" fill="#1ef01e"/>
<circle cx="88.58" cy="381.17" r="0.6" fill="#1ef01e"/>
<circle cx="89.70" cy="379.10" r="0.6" fill="#1ef01e"/>
<circle cx="76.83" cy="385.46" r="0.6" fill="#1ef01e"/>
<circle cx="85.42" cy="378.21" r="0.6" fill="#1ef01e"/>
<circle cx="87.72" cy="371.01" r="0.6" fill="#1ef01e"/>
<circle cx="88.26" cy="377.21" r="0.6" fill="#1ef01e"/>
<circle cx="74.39" cy="380.94" r="0.6" fill="#1ef01e"/>
<circle cx="87.55" cy="382.37" r="0.6" fill="#1ef01e"/>
<circle cx="75.47" cy="378.74" r="0.6" fill="#1ef01e"/>
<circle cx="87.89" cy="375.65" r="0.6" fill="#1ef01e"/>
<circle cx="83.01" cy="379.61" r="0.6" fill="#1ef01e"/>
<circle cx="87.24" cy="376.87" r="0.6" fill="#1ef01e"/>
<circle cx="84.34" cy="378.72" r="0.6" fill="#1ef01e"/>
<circle cx="82.99" cy="375.57" r="0.6" fill="#1ef01e"/>
<circle cx="91.02" cy="378.94" r="0.6" fill="#1ef01e"/>
<circle cx="90.74" cy="380.15" r="0.6" fill="#1ef01e"/>
<circle cx="89.88" cy="384.21" r="0.6" fill="#1ef01e"/>
<circle cx="86.88" cy="378.05" r="0.6" fill="#1ef01e"/>
<circle cx="87.27" cy="381.01" r="0.6" fill="#1ef01e"/>
<circle cx="91.52" cy="379.63" r="0.6" fill="#1ef01e"/>
<circle cx="84.01" cy="376.96" r="0.6" fill="#1ef01e"/>
<circle cx="83.15" cy="380.50" r="0.6" fill="#1ef01e"/>
<circle cx="77.34" cy="384.66" r="0.6" fill="#1ef01e"/>
<circle cx="89.87" cy="378.58" r="0.6" fill="#1ef01e"/>
<circle cx="80.17" cy="381.46" r="0.6" fill="#1ef01e"/>
<circle cx="90.89" cy="381.64" r="0.6" fill="#1ef01e"/>
<circle cx="92.04" cy="376.32" r="0.6" fill="#1ef01e"/>
<circle cx="98.19" cy="373.44" r="0.6" fill="#1ef01e"/>
<circle cx="85.41" cy="377.20" r="0.6" fill="#1ef01e"/>
<circle cx="74.09" cy="382.18" r="0.6" fill="#1ef01e"/>
<circle cx="88.66" cy="375.51" r="0.6" fill="#1ef01e"/>
<circle cx="87.22" cy="380.99" r="0.6" fill="#1ef01e"/>
<circle cx="80.35" cy="385.00" r="0.6" fill="#1ef01e"/>
<circle cx="81.72" cy="383.04" r="0.6" fill="#1ef01e"/>
<circle cx="89.18" cy="380.81" r="0.6" fill="#1ef01e"/>
<circle cx="87.46" cy="379.43" r="0.6" fill="#1ef01e"/>
<circle cx="89.23" cy="381.33" r="0.6" fill="#1ef01e"/>
<circle cx="79.95" cy="378.13" r="0.6" fill="#1ef01e"/>
<circle cx="81.21" cy="384.09" r="0.6" fill="#1ef01e"/>
<circle cx="87.47" cy="378.31" r="0.6" fill="#1ef01e"/>
<circle cx="82.58" cy="380.19" r="0.6" fill="#1ef01e"/>
<circle cx="88.93" cy="377.62" r="0.6" fill="#1ef01e"/>
<circle cx="84.95" cy="382.20" r="0.6" fill="#1ef01e"/>
<circle cx="84.97" cy="375.52" r="0.6" fill="#1ef01e"/>
<circle cx="92.20" cy="377.55" r="0.6" fill="#1ef01e"/>
<circle cx="85.10" cy="381.05" r="0.6" fill="#1ef01e"/>
<circle cx="92.20" cy="377.13" r="0.6" fill="#1ef01e"/>
<circle cx="87.92" cy="380.78" r="0.6" fill="#1ef01e"/>
<circle cx="80.75" cy="378.88" r="0.6" fill="#1ef01e"/>
<circle cx="84.68" cy="381.12" r="0.6" fill="#1ef01e"/>
<circle cx="87.86" cy="376.09" r="0.6" fill="#1ef01e"/>
<circle cx="85.96" cy="382.65" r="0.6" fill="#1ef01e"/>
<circle cx="91.92" cy="378.47" r="0.6" fill="#1ef01e"/>
<circle cx="90.38" cy="379.03" r="0.6" fill="#1ef01e"/>
<circle cx="79.54" cy="378.76" r="0.6" fill="#1ef01e"/>
<circle cx="93.78" cy="375.25" r="0.6" fill="#1ef01e"/>
<circle cx="93.11" cy="378.38" r="0.6" fill="#1ef01e"/>
<circle cx="86.52" cy="381.13" r="0.6" fill="#1ef01e"/>
<circle cx="83.01" cy="378.50" r="0.6" fill="#1ef01e"/>
<circle cx="90.16" cy="375.22" r="0.6" fill="#1ef01e"/>
<circle cx="88.19" cy="379.66" r="0.6" fill="#1ef01e"/>
<circle cx="98.29" cy="375.81" r="0.6" fill="#1ef01e"/>
<circle cx="90.84" cy="375.75" r="0.6" fill="#1ef01e"/>
<circle cx="92.56" cy="374.08" r="0.6" fill="#1ef01e"/>
<circle cx="83.59" cy="376.30" r="0.6" fill="#1ef01e"/>
<circle cx="85.72" cy="378.31" r="0.6" fill="#1ef01e"/>
<circle cx="81.83" cy="378.71" r="0.6" fill="#1ef01e"/>
<circle cx="84.10" cy="381.35" r="0.6" fill="#1ef01e"/>
<circle cx="79.26" cy="378.52" r="0.6" fill="#1ef01e"/>
<circle cx="85.09" cy="378.88" r="0.6" fill="#1ef01e"/>
<circle cx="93.86" cy="377.11" r="0.6" fill="#1ef01e"/>
<circle cx="84.69" cy="378.92" r="0.6" fill="#1ef01e"/>
<circle cx="96.98" cy="376.08" r="0.6" fill="#1ef01e"/>
<circle cx="96.67" cy="374.27" r="0.6" fill="#1ef01e"/>
<circle cx="84.61" cy="379.26" r="0.6" fill="#1ef01e"/>
<circle cx="85.46" cy="381.76" r="0.6" fill="#1ef01e"/>
<circle cx="76.69" cy="385.91" r="0.6" fill="#1ef01e"/>
<circle cx="88.87" cy="377.33" r="0.6" fill="#1ef01e"/>
<circle cx="75.56" cy="382.45" r="0.6" fill="#1ef01e"/>
<circle cx="92.58" cy="376.30" r="0.6" fill="#1ef01e"/>
<circle cx="90.42" cy="381.51" r="0.6" fill="#1ef01e"/>
<circle cx="94.43" cy="378.23" r="0.6" fill="#1ef01e"/>
<circle cx="91.06" cy="372.54" r="0.6" fill="#1ef01e"/>
<circle cx="85.66" cy="377.62" r="0.6" fill="#1ef01e"/>
<circle cx="82.49" cy="380.63" r="0.6" fill="#1ef01e"/>
<circle cx="95.88" cy="376.26" r="0.6" fill="#1ef01e"/>
<circle cx="93.19" cy="377.68" r="0.6" fill="#1ef01e"/>
<circle cx="85.04" cy="383.37" r="0.6" fill="#1ef01e"/>
<circle cx="83.51" cy="383.84" r="0.6" fill="#1ef01e"/>
<circle cx="88.51" cy="377.65" r="0.6" fill="#1ef01e"/>
<circle cx="82.90" cy="377.58" r="0.6" fill="#1ef01e"/>
<circle cx="89.72" cy="376.47" r="0.6" fill="#1ef01e"/>
<circle cx="92.35" cy="375.26" r="0.6" fill="#1ef01e"/>
<circle cx="89.36" cy="378.10" r="0.6" fill="#1ef01e"/>
<circle cx="79.28" cy="381.78" r="0.6" fill="#1ef01e"/>
<circle cx="90.76" cy="375.45" r="0.6" fill="#1ef01e"/>
<circle cx="89.51" cy="374.92" r="0.6" fill="#1ef01e"/>
<circle cx="78.22" cy="385.81" r="0.6" fill="#1ef01e"/>
<circle cx="83.19" cy="379.21" r="0.6" fill="#1ef01e"/>
<circle cx="84.40" cy="380.84" r="0.6" fill="#1ef01e"/>
<circle cx="90.52" cy="371.72" r="0.6" fill="#1ef01e"/>
<circle cx="92.30" cy="376.19" r="0.6" fill="#1ef01e"/>
<circle cx="87.75" cy="382.82" r="0.6" fill="#1ef01e"/>
<circle cx="73.88" cy="379.58" r="0.6" fill="#1ef01e"/>
<circle cx="80.59" cy="385.79" r="0.6" fill="#1ef01e"/>
<circle cx="80.39" cy="382.83" r="0.6" fill="#1ef01e"/>
<circle cx="84.42" cy="376.71" r="0.6" fill="#1ef01e"/>
<circle cx="89.63" cy="378.08" r="0.6" fill="#1ef01e"/>
<circle cx="81.42" cy="377.57" r="0.6" fill="#1ef01e"/>
<circle cx="83.79" cy="382.36" r="0.6" fill="#1ef01e"/>
<circle cx="86.90" cy="376.80" r="0.6" fill="#1ef01e"/>
<circle cx="88.73" cy="379.65" r="0.6" fill="#1ef01e"/>
<circle cx="80.71" cy="380.18" r="0.6" fill="#1ef01e"/>
<circle cx="72.82" cy="388.48" r="0.6" fill="#1ef01e"/>
<circle cx="94.96" cy="376.27" r="0.6" fill="#1ef01e"/>
<circle cx="85.75" cy="381.97" r="0.6" fill="#1ef01e"/>
<circle cx="87.55" cy="381.00" r="0.6" fill="#1ef01e"/>
<circle cx="88.69" cy="378.42" r="0.6" fill="#1ef01e"/>
<circle cx="75.54" cy="386.84" r="0.6" fill="#1ef01e"/>
<circle cx="93.81" cy="377.38" r="0.6" fill="#1ef01e"/>
<circle cx="86.61" cy="381.92" r="0.6" fill="#1ef01e"/>
<circle cx="88.84" cy="381.87" r="0.6" fill="#1ef01e"/>
<circle cx="85.87" cy="381.69" r="0.6" fill="#1ef01e"/>
<circle cx="90.78" cy="379.73" r="0.6" fill="#1ef01e"/>
<circle cx="85.82" cy="377.33" r="0.6" fill="#1ef01e"/>
<circle cx="82.51" cy="380.03" r="0.6" fill="#1ef01e"/>
<circle cx="82.79" cy="381.46" r="0.6" fill="#1ef01e"/>
<circle cx="86.34" cy="377.84" r="0.6" fill="#1ef01e"/>
<circle cx="86.27" cy="378.41" r="0.6" fill="#1ef01e"/>
<circle cx="83.55" cy="378.41" r="0.6" fill="#1ef01e"/>
<circle cx="84.00" cy="381.36" r="0.6" fill="#1ef01e"/>
<circle cx="82.14" cy="383.84" r="0.6" fill="#1ef01e"/>
<circle cx="80.08" cy="378.89" r="0.6" fill="#1ef01e"/>
<circle cx="88.79" cy="381.44" r="0.6" fill="#1ef01e"/>
<circle cx="89.05" cy="375.48" r="0.6" fill="#1ef01e"/>
<circle cx="89.57" cy="373.44" r="0.6" fill="#1ef01e"/>
<circle cx="92.27" cy="378.49" r="0.6" fill="#1ef01e"/>
<circle cx="81.59" cy="384.41" r="0.6" fill="#1ef01e"/>
<circle cx="94.51" cy="376.75" r="0.6" fill="#1ef01e"/>
<circle cx="95.68" cy="373.63" r="0.6" fill="#1ef01e"/>
<circle cx="89.00" cy="377.77" r="0.6" fill="#1ef01e"/>
<circle cx="83.12" cy="382.07" r="0.6" fill="#1ef01e"/>
<circle cx="85.08" cy="378.41" r="0.6" fill="#1ef01e"/>
<circle cx="91.42" cy="376.62" r="0.6" fill="#1ef01e"/>
<circle cx="86.14" cy="383.29" r="0.6" fill="#1ef01e"/>
<circle cx="78.41" cy="379.04" r="0.6" fill="#1ef01e"/>
<circle cx="85.31" cy="383.39" r="0.6" fill="#1ef01e"/>
<circle cx="81.91" cy="382.26" r="0.6" fill="#1ef01e"/>
<circle cx="75.94" cy="379.66" r="0.6" fill="#1ef01e"/>
<circle cx="99.22" cy="374.70" r="0.6" fill="#1ef01e"/>
<circle cx="86.70" cy="382.29" r="0.6" fill="#1ef01e"/>
<circle cx="80.09" cy="379.55" r="0.6" fill="#1ef01e"/>
<circle cx="87.90" cy="376.74" r="0.6" fill="#1ef01e"/>
<circle cx="79.04" cy="382.77" r="0.6" fill="#1ef01e"/>
<circle cx="90.16" cy="379.84" r="0.6" fill="#1ef01e"/>
<circle cx="85.36" cy="378.93" r="0.6" fill="#1ef01e"/>
<circle cx="90.78" cy="378.61" r="0.6" fill="#1ef01e"/>
<circle cx="80.77" cy="380.45" r="0.6" fill="#1ef01e"/>
<circle cx="81.74" cy="378.45" r="0.6" fill="#1ef01e"/>
<circle cx="78.00" cy="377.83" r="0.6" fill="#1ef01e"/>
<circle cx="86.08" cy="377.69" r="0.6" fill="#1ef01e"/>
<circle cx="90.72" cy="379.67" r="0.6" fill="#1ef01e"/>
<circle cx="89.86" cy="380.17" r="0.6" fill="#1ef01e"/>
<circle cx="91.53" cy="378.75" r="0.6" fill="#1ef01e"/>
<circle cx="87.21" cy="381.72" r="0.6" fill="#1ef01e"/>
<circle cx="89.78" cy="371.92" r="0.6" fill="#1ef01e"/>
<circle cx="92.73" cy="378.52" r="0.6" fill="#1ef01e"/>
<circle cx="86.90" cy="376.90" r="0.6" fill="#1ef01e"/>
<circle cx="89.63" cy="376.16" r="0.6" fill="#1ef01e"/>
<circle cx="90.97" cy="376.69" r="0.6" fill="#1ef01e"/>
<circle cx="78.93" cy="380.16" r="0.6" fill="#1ef01e"/>
<circle cx="79.91" cy="385.58" r="0.6" fill="#1ef01e"/>
<circle cx="93.45" cy="379.50" r="0.6" fill="#1ef01e"/>
<circle cx="86.42" cy="372.88" r="0.6" fill="#1ef01e"/>
<circle cx="77.50" cy="380.29" r="0.6" fill="#1ef01e"/>
<circle cx="92.03" cy="381.08" r="0.6" fill="#1ef01e"/>
<circle cx="97.26" cy="378.34" r="0.6" fill="#1ef01e"/>
<circle cx="87.46" cy="378.45" r="0.6" fill="#1ef01e"/>
<circle cx="92.15" cy="374.65" r="0.6" fill="#1ef01e"/>
<circle cx="83.01" cy="372.26" r="0.6" fill="#1ef01e"/>
<circle cx="78.49" cy="382.73" r="0.6" fill="#1ef01e"/>
<circle cx="86.17" cy="375.78" r="0.6" fill="#1ef01e"/>
<circle cx="85.93" cy="372.68" r="0.6" fill="#1ef01e"/>
<circle cx="87.93" cy="372.87" r="0.6" fill="#1ef01e"/>
<circle cx="84.76" cy="379.24" r="0.6" fill="#1ef01e"/>
<circle cx="94.53" cy="378.94" r="0.6" fill="#1ef01e"/>
<circle cx="82.71" cy="375.10" r="0.6" fill="#1ef01e"/>
<circle cx="86.76" cy="382.87" r="0.6" fill="#1ef01e"/>
<circle cx="96.59" cy="381.79" r="0.6" fill="#1ef01e"/>
<circle cx="87.83" cy="373.67" r="0.6" fill="#1ef01e"/>
<circle cx="95.25" cy="372.26" r="0.6" fill="#1ef01e"/>
<circle cx="93.31" cy="378.58" r="0.6" fill="#1ef01e"/>
<circle cx="81.51" cy="383.48" r="0.6" fill="#1ef01e"/>
<circle cx="91.02" cy="379.22" r="0.6" fill="#1ef01e"/>
<circle cx="93.27" cy="375.43" r="0.6" fill="#1ef01e"/>
<circle cx="82.81" cy="375.88" r="0.6" fill="#1ef01e"/>
<circle cx="85.50" cy="378.32" r="0.6" fill="#1ef01e"/>
<circle cx="78.59" cy="381.97" r="0.6" fill="#1ef01e"/>
<circle cx="86.78" cy="376.22" r="0.6" fill="#1ef01e"/>
<circle cx="90.64" cy="378.41" r="0.6" fill="#1ef01e"/>
<circle cx="85.82" cy="377.09" r="0.6" fill="#1ef01e"/>
<circle cx="98.14" cy="375.04" r="0.6" fill="#1ef01e"/>
<circle cx="86.94" cy="377.08" r="0.6" fill="#1ef01e"/>
<circle cx="85.08" cy="376.05" r="0.6" fill="#1ef01e"/>
<circle cx="86.43" cy="377.85" r="0.6" fill="#1ef01e"/>
<circle cx="83.34" cy="374.57" r="0.6" fill="#1ef01e"/>
<circle cx="81.28" cy="373.16" r="0.6" fill="#1ef01e"/>
<circle cx="85.76" cy="383.40" r="0.6" fill="#1ef01e"/>
<circle cx="87.49" cy="379.14" r="0.6" fill="#1ef01e"/>
<circle cx="91.60" cy="381.44" r="0.6" fill="#1ef01e"/>
<circle cx="97.86" cy="372.24" r="0.6" fill="#1ef01e"/>
<circle cx="85.68" cy="378.57" r="0.6" fill="#1ef01e"/>
<circle cx="86.23" cy="374.28" r="0.6" fill="#1ef01e"/>
<circle cx="88.56" cy="379.65" r="0.6" fill="#1ef01e"/>
<circle cx="93.05" cy="382.20" r="0.6" fill="#1ef01e"/>
<circle cx="88.85" cy="381.96" r="0.6" fill="#1ef01e"/>
<circle cx="90.29" cy="378.02" r="0.6" fill="#1ef01e"/>
<circle cx="92.37" cy="374.68" r="0.6" fill="#1ef01e"/>
<circle cx="73.39" cy="391.53" r="0.6" fill="#1ef01e"/>
<circle cx="78.65" cy="385.89" r="0.6" fill="#1ef01e"/>
<circle cx="87.56" cy="378.96" r="0.6" fill="#1ef01e"/>
<circle cx="84.81" cy="377.24" r="0.6" fill="#1ef01e"/>
<circle cx="77.13" cy="384.42" r="0.6" fill="#1ef01e"/>
<circle cx="94.19" cy="381.18" r="0.6" fill="#1ef01e"/>
<circle cx="85.44" cy="377.36" r="0.6" fill="#1ef01e"/>
<circle cx="91.62" cy="376.08" r="0.6" fill="#1ef01e"/>
<circle cx="87.80" cy="378.76" r="0.6" fill="#1ef01e"/>
<circle cx="89.89" cy="376.43" r="0.6" fill="#1ef01e"/>
<circle cx="85.28" cy="373.09" r="0.6" fill="#1ef01e"/>
<circle cx="85.79" cy="378.56" r="0.6" fill="#1ef01e"/>
<circle cx="91.45" cy="375.77" r="0.6" fill="#1ef01e"/>
<circle cx="86.70" cy="379.31" r="0.6" fill="#1ef01e"/>
<circle cx="85.73" cy="377.80" r="0.6" fill="#1ef01e"/>
<circle cx="86.68" cy="380.82" r="0.6" fill="#1ef01e"/>
<circle cx="89.02" cy="377.40" r="0.6" fill="#1ef01e"/>
<circle cx="85.05" cy="379.24" r="0.6" fill="#1ef01e"/>
<circle cx="80.53" cy="381.87" r="0.6" fill="#1ef01e"/>
<circle cx="93.23" cy="374.58" r="0.6" fill="#1ef01e"/>
<circle cx="82.46" cy="380.41" r="0.6" fill="#1ef01e"/>
<circle cx="90.47" cy="380.02" r="0.6" fill="#1ef01e"/>
<circle cx="84.45" cy="381.78" r="0.6" fill="#1ef01e"/>
<circle cx="87.92" cy="381.12" r="0.6" fill="#1ef01e"/>
<circle cx="86.62" cy="379.36" r="0.6" fill="#1ef01e"/>
<circle cx="93.68" cy="382.49" r="0.6" fill="#1ef01e"/>
<circle cx="90.08" cy="376.16" r="0.6" fill="#1ef01e"/>
<circle cx="91.47" cy="378.35" r="0.6" fill="#1ef01e"/>
<circle cx="84.63" cy="379.70" r="0.6" fill="#1ef01e"/>
<circle cx="83.26" cy="382.51" r="0.6" fill="#1ef01e"/>
<circle cx="88.56" cy="381.19" r="0.6" fill="#1ef01e"/>
<circle cx="87.21" cy="379.78" r="0.6" fill="#1ef01e"/>
<circle cx="88.51" cy="379.01" r="0.6" fill="#1ef01e"/>
<circle cx="89.33" cy="379.16" r="0.6" fill="#1ef01e"/>
<circle cx="81.43" cy="384.69" r="0.6" fill="#1ef01e"/>
<circle cx="84.11" cy="381.96" r="0.6" fill="#1ef01e"/>
<circle cx="80.38" cy="381.13" r="0.6" fill="#1ef01e"/>
<circle cx="85.74" cy="382.62" r="0.6" fill="#1ef01e"/>
<circle cx="82.16" cy="383.34" r="0.6" fill="#1ef01e"/>
<circle cx="84.63" cy="379.58" r="0.6" fill="#1ef01e"/>
<circle cx="89.42" cy="377.13" r="0.6" fill="#1ef01e"/>
<circle cx="89.02" cy="376.63" r="0.6" fill="#1ef01e"/>
<circle cx="79.79" cy="381.02" r="0.6" fill="#1ef01e"/>
<circle cx="92.75" cy="375.78" r="0.6" fill="#1ef01e"/>
<circle cx="89.29" cy="376.96" r="0.6" fill="#1ef01e"/>
<circle cx="76.78" cy="380.96" r="0.6" fill="#1ef01e"/>
<circle cx="93.17" cy="375.69" r="0.6" fill="#1ef01e"/>
<circle cx="76.77" cy="384.93" r="0.6" fill="#1ef01e"/>
<circle cx="75.30" cy="390.52" r="0.6" fill="#1ef01e"/>
<circle cx="93.55" cy="371.44" r="0.6" fill="#1ef01e"/>
<circle cx="75.10" cy="381.51" r="0.6" fill="#1ef01e"/>
<circle cx="76.23" cy="381.55" r="0.6" fill="#1ef01e"/>
<circle cx="91.27" cy="375.97" r="0.6" fill="#1ef01e"/>
<circle cx="86.79" cy="383.07" r="0.6" fill="#1ef01e"/>
<circle cx="85.27" cy="380.30" r="0.6" fill="#1ef01e"/>
<circle cx="86.53" cy="382.74" r="0.6" fill="#1ef01e"/>
<circle cx="84.73" cy="377.38" r="0.6" fill="#1ef01e"/>
<circle cx="91.34" cy="390.99" r="0.6" fill="#1ef01e"/>
<circle cx="81.74" cy="376.09" r="0.6" fill="#1ef01e"/>
<circle cx="88.94" cy="385.18" r="0.6" fill="#1ef01e"/>
<circle cx="95.33" cy="376.66" r="0.6" fill="#1ef01e"/>
<circle cx="88.07" cy="383.09" r="0.6" fill="#1ef01e"/>
<circle cx="80.40" cy="384.68" r="0.6" fill="#1ef01e"/>
<circle cx="91.09" cy="374.84" r="0.6" fill="#1ef01e"/>
<circle cx="98.22" cy="370.76" r="0.6" fill="#1ef01e"/>
<circle cx="85.30" cy="384.06" r="0.6" fill="#1ef01e"/>
<circle cx="85.70" cy="377.65" r="0.6" fill="#1ef01e"/>
<circle cx="95.50" cy="378.08" r="0.6" fill="#1ef01e"/>
<circle cx="88.82" cy="383.77" r="0.6" fill="#1ef01e"/>
<circle cx="100.23" cy="384.64" r="0.6" fill="#1ef01e"/>
<circle cx="78.67" cy="382.27" r="0.6" fill="#1ef01e"/>
<circle cx="85.00" cy="383.47" r="0.6" fill="#1ef01e"/>
<circle cx="86.17" cy="371.06" r="0.6" fill="#1ef01e"/>
<circle cx="87.19" cy="368.34" r="0.6" fill="#1ef01e"/>
<circle cx="78.85" cy="379.22" r="0.6" fill="#1ef01e"/>
<circle cx="82.64" cy="381.94" r="0.6" fill="#1ef01e"/>
<circle cx="81.20" cy="385.36" r="0.6" fill="#1ef01e"/>
<circle cx="91.47" cy="372.81" r="0.6" fill="#1ef01e"/>
<text x="52.40" y="373.20" font-size="8.0" text-anchor="middle" fill="#222" stroke="#222" stroke-width="0.1" >Dual-</text>
<text x="52.90" y="383.00" font-size="8.0" text-anchor="middle" fill="#222" stroke="#222" stroke-width="0.1" >labeled</text>
<text x="52.70" y="392.50" font-size="8.0" text-anchor="middle" fill="#222" stroke="#222" stroke-width="0.1" >barbells</text>
<rect x="112.6" y="243.3" width="100.6" height="12.2" fill="#111"/>
<text x="137.70" y="252.00" font-size="7.2" text-anchor="middle" fill="#fff" >Red</text>
<text x="186.00" y="252.00" font-size="7.2" text-anchor="middle" fill="#fff" >Green</text>
<rect x="112.8" y="255.5" width="49.8" height="38.10" fill="#9d9d9d"/>
<rect x="112.8" y="295.2" width="49.8" height="34.90" fill="#9d9d9d"/>
<rect x="112.8" y="331.6" width="49.8" height="36.10" fill="#9d9d9d"/>
<rect x="112.8" y="369.1" width="49.8" height="27.70" fill="#9d9d9d"/>
<rect x="112.8" y="398.4" width="49.8" height="31.60" fill="#9d9d9d"/>
<rect x="163.0" y="255.5" width="50.1" height="27.70" fill="#9d9d9d"/>
<rect x="163.0" y="284.7" width="50.1" height="29.10" fill="#9d9d9d"/>
<rect x="163.0" y="315.5" width="50.1" height="28.70" fill="#9d9d9d"/>
<rect x="163.0" y="345.6" width="50.1" height="30.90" fill="#9d9d9d"/>
<rect x="163.0" y="377.9" width="50.1" height="27.70" fill="#9d9d9d"/>
<rect x="112.6" y="293.5" width="50" height="1.7" fill="#2a2a2a"/>
<rect x="112.6" y="329.9" width="50" height="1.7" fill="#2a2a2a"/>
<rect x="112.6" y="367.6" width="50" height="1.6" fill="#2a2a2a"/>
<rect x="112.6" y="396.8" width="50" height="1.6" fill="#2a2a2a"/>
<rect x="162.8" y="283.1" width="50.4" height="1.6" fill="#2a2a2a"/>
<rect x="162.8" y="313.8" width="50.4" height="1.7" fill="#2a2a2a"/>
<rect x="162.8" y="344.2" width="50.4" height="1.6" fill="#2a2a2a"/>
<rect x="162.8" y="376.5" width="50.4" height="1.5" fill="#2a2a2a"/>
<rect x="162.4" y="255.5" width="0.8" height="151" fill="#555"/>
<rect x="114.3" y="426.1" width="9.2" height="2.1" fill="#fff"/>
<rect x="164.5" y="402.2" width="9.4" height="2.1" fill="#fff"/>
<g filter="url(#bl)">
<path d="M166.3,37.3 C163.2,38.3 162.8,42.6 166.6,45.6" fill="none" stroke="#e8231b" stroke-width="1.6" stroke-linecap="round"/>
<circle cx="166.7" cy="38.7" r="1.5" fill="none" stroke="#f07a10" stroke-width="0.9"/>
<circle cx="166.8" cy="38.7" r="0.9" fill="#46c81e"/>
<circle cx="167.4" cy="45.5" r="1.5" fill="#b8d81a"/>
<circle cx="168.0" cy="45.9" r="0.8" fill="#46c81e"/>
<circle cx="166.4" cy="65.3" r="1.8" fill="none" stroke="#f07a10" stroke-width="1.3"/>
<circle cx="166.6" cy="65.4" r="1.0" fill="#46c81e"/>
<path d="M168.3,66.0 C168.9,69 168.4,71.2 165.2,72.3" fill="none" stroke="#b8d81a" stroke-width="1.4" stroke-linecap="round"/>
<path d="M168.6,67.5 C168.9,69.5 168.2,70.8 167.2,71.5" fill="none" stroke="#46c81e" stroke-width="0.7"/>
<circle cx="164.8" cy="72.4" r="1.3" fill="#b8d81a"/>
<path d="M166.2,90.3 C163.9,89.6 162.6,91.5 162.7,94.0 C162.9,96.3 164.5,97.3 166.0,97.0" fill="none" stroke="#f07a10" stroke-width="1.6" stroke-linecap="round"/>
<path d="M163.0,94.5 C163.4,96.2 164.5,97.2 165.8,97.2" fill="none" stroke="#e8231b" stroke-width="1.0"/>
<circle cx="166.5" cy="95.3" r="2.5" fill="#46c81e"/>
<circle cx="166.0" cy="95.3" r="1.6" fill="#e6e820"/>
<path d="M166.6,113.3 C164.6,114.3 162.6,116.3 162.9,118.2 C163.3,120.3 165.8,122.3 167.9,123.6" fill="none" stroke="#e8231b" stroke-width="1.4" stroke-linecap="round"/>
<path d="M163.1,117.2 C162.9,118.6 163.5,119.4 164.2,120" fill="none" stroke="#b8d81a" stroke-width="0.9"/>
<circle cx="167.0" cy="113.1" r="1.6" fill="#a8e010"/>
<circle cx="168.2" cy="123.8" r="1.8" fill="#3cb81c"/>
<path d="M165.6,143.3 C163.8,144.8 163.4,147.5 163.9,150.5 C164.4,153.2 166.0,155.2 167.6,156.0" fill="none" stroke="#e8231b" stroke-width="1.3" stroke-linecap="round"/>
<path d="M163.8,149.5 C164.0,151.5 164.8,153.0 165.6,154.0" fill="none" stroke="#b8d81a" stroke-width="0.8"/>
<circle cx="166.5" cy="143.6" r="1.6" fill="#b0e012"/>
<circle cx="167.8" cy="156.1" r="1.8" fill="#44b81c"/>
</g>
<g filter="url(#bl2)">
<path d="M137.3,268.5 C136.2,272 136.2,276 137.4,279.5" fill="none" stroke="#f47c7c" stroke-width="1.1"/>
<ellipse cx="138.1" cy="266.2" rx="1.9" ry="2.6" fill="#ff9a9a" transform="rotate(18 138.1 266.2)"/>
<circle cx="138.7" cy="281.0" r="2.1" fill="#f2c8c8"/>
<circle cx="138.7" cy="281.0" r="1.2" fill="#e3001a"/>
<path d="M138.2,304 C137.4,308 137.0,313 137.2,317.5" fill="none" stroke="#f47c7c" stroke-width="0.9"/>
<ellipse cx="138.5" cy="302.8" rx="1.7" ry="2.1" fill="#ff9a9a"/>
<ellipse cx="137.2" cy="318.8" rx="1.6" ry="2.0" fill="#ff9a9a"/>
<path d="M136.0,342 C136.4,346 137.0,350 137.6,353.5" fill="none" stroke="#f47c7c" stroke-width="0.9"/>
<ellipse cx="135.9" cy="340.6" rx="1.4" ry="2.1" fill="#ff9a9a"/>
<circle cx="137.7" cy="354.6" r="2.0" fill="#f2c8c8"/>
<circle cx="137.7" cy="354.6" r="1.1" fill="#ff3a3a"/>
<path d="M137.6,377.5 C137.6,381 137.2,384 136.7,386.5" fill="none" stroke="#f47c7c" stroke-width="0.8"/>
<ellipse cx="137.7" cy="377.8" rx="1.2" ry="1.6" fill="#ff9a9a"/>
<ellipse cx="136.6" cy="387.3" rx="1.9" ry="2.0" fill="#f2c8c8"/>
<circle cx="136.4" cy="387.5" r="1.0" fill="#ff3030"/>
<path d="M135.6,410 C136.5,413 137.5,416 138.6,419" fill="none" stroke="#f47c7c" stroke-width="0.8"/>
<circle cx="135.4" cy="409.1" r="1.8" fill="#f2c8c8"/>
<circle cx="135.4" cy="409.1" r="1.0" fill="#ff4545"/>
<ellipse cx="138.9" cy="420.0" rx="1.9" ry="2.3" fill="#f2c8c8"/>
<circle cx="138.6" cy="420.4" r="1.1" fill="#ff3030"/>
<ellipse cx="187.8" cy="266.7" rx="2.1" ry="2.4" fill="#c8f0c8"/>
<ellipse cx="187.8" cy="266.5" rx="1.3" ry="1.5" fill="#4ee24e"/>
<path d="M187.4,268.8 C186.8,271 186.3,272.5 186.0,273.5" fill="none" stroke="#4ee24e" stroke-width="0.5"/>
<circle cx="185.9" cy="274.1" r="1.2" fill="#7dff7d"/>
<ellipse cx="189.0" cy="294.9" rx="2.3" ry="2.0" fill="#7dff7d"/>
<circle cx="185.6" cy="298.8" r="1.2" fill="none" stroke="#4ee24e" stroke-width="0.7"/>
<path d="M187.2,296.2 C186.4,297 186.2,298 186.8,299.5 C187.8,300.8 188.8,301.4 189.3,302" fill="none" stroke="#4ee24e" stroke-width="0.7"/>
<ellipse cx="189.6" cy="303.2" rx="1.5" ry="2.1" fill="#7dff7d" transform="rotate(-20 189.6 303.2)"/>
<ellipse cx="188.2" cy="325.3" rx="1.4" ry="1.7" fill="#7dff7d"/>
<path d="M188.6,326.8 C189.2,328.5 188.8,330 187.8,331" fill="none" stroke="#4ee24e" stroke-width="0.7"/>
<ellipse cx="187.0" cy="333.6" rx="1.3" ry="2.5" fill="#4ee24e" transform="rotate(45 187 333.6)"/>
<ellipse cx="187.0" cy="333.6" rx="0.5" ry="1.6" fill="#f0fff0" transform="rotate(45 187 333.6)"/>
<ellipse cx="189.2" cy="352.8" rx="1.2" ry="1.6" fill="#7dff7d"/>
<path d="M188.8,354.3 C188,356.5 187.6,358.5 187.7,361" fill="none" stroke="#4ee24e" stroke-width="0.6"/>
<ellipse cx="187.6" cy="363.5" rx="1.8" ry="2.2" fill="none" stroke="#4ee24e" stroke-width="0.9"/>
<ellipse cx="187.6" cy="363.5" rx="0.9" ry="1.1" fill="#6fe06f"/>
<ellipse cx="186.1" cy="386.4" rx="1.5" ry="2.0" fill="#7dff7d"/>
<path d="M186.5,388.3 C187,391 187.2,393.5 187.1,395.5" fill="none" stroke="#4ee24e" stroke-width="0.6"/>
<ellipse cx="187.1" cy="396.8" rx="1.9" ry="1.7" fill="#7dff7d"/>
</g>
<polyline points="58.80,353.00 72.20,367.20 118.80,367.20" fill="none" stroke="#c0203a" stroke-width="1.1" stroke-linejoin="round" />
<polygon points="122.2,367.4 118.2,365.4 118.2,369.4" fill="#c0203a"/>
<line x1="98.90" y1="379.10" x2="166.80" y2="379.10" stroke="#39b54a" stroke-width="1.1" />
<polygon points="170.6,379.3 166.4,377.1 166.4,381.5" fill="#39b54a"/>
</svg>
</body></html>
